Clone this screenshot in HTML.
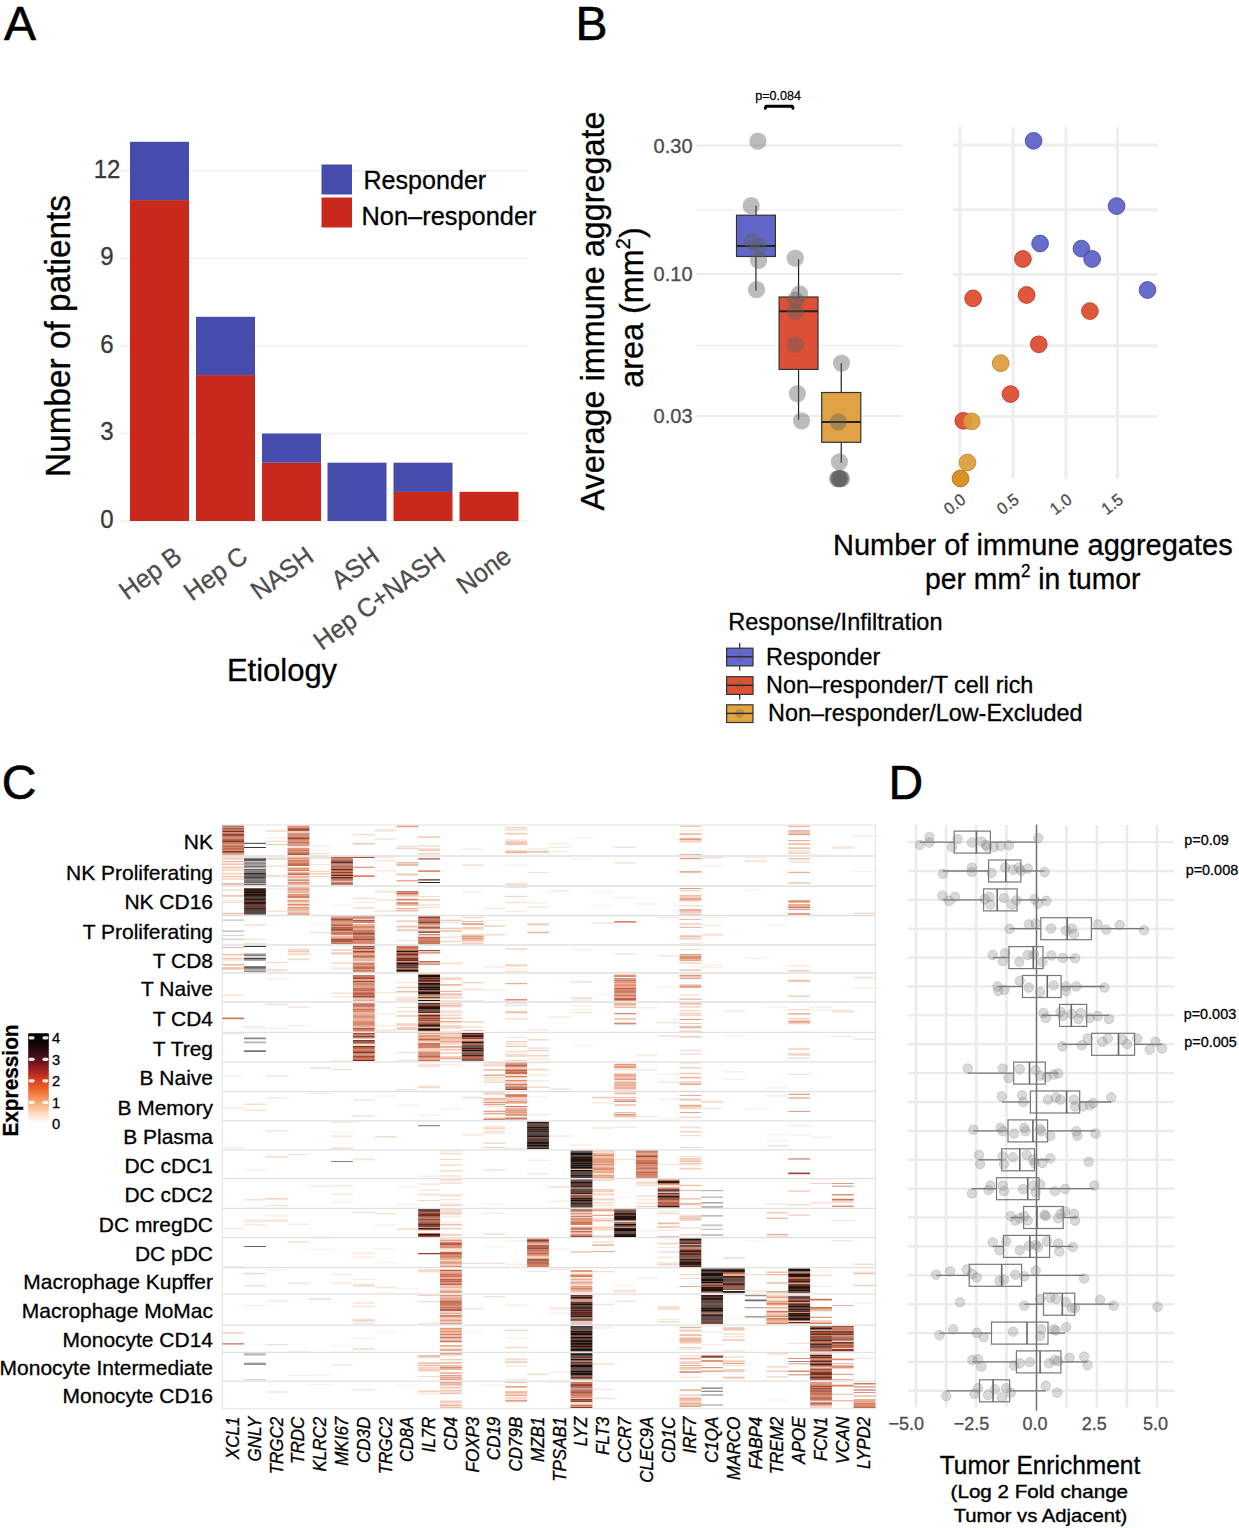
<!DOCTYPE html>
<html><head><meta charset="utf-8"><style>
html,body{margin:0;padding:0;background:#fff;}
svg{display:block;font-family:"Liberation Sans", sans-serif;}
</style></head><body>
<svg width="1239" height="1528" viewBox="0 0 1239 1528">
<rect width="1239" height="1528" fill="#fff"/>
<text transform="translate(4,40)" font-size="48" fill="#000" stroke="#000" stroke-width="0.6">A</text>
<line x1="120" y1="521.0" x2="528" y2="521.0" stroke="#efefef" stroke-width="1.6"/>
<text transform="translate(107,527.6) scale(1,1.04)" font-size="24" fill="#3a3a3a" text-anchor="middle" stroke="#3a3a3a" stroke-width="0.3">0</text>
<line x1="120" y1="433.5" x2="528" y2="433.5" stroke="#efefef" stroke-width="1.6"/>
<text transform="translate(107,440.1) scale(1,1.04)" font-size="24" fill="#3a3a3a" text-anchor="middle" stroke="#3a3a3a" stroke-width="0.3">3</text>
<line x1="120" y1="346.0" x2="528" y2="346.0" stroke="#efefef" stroke-width="1.6"/>
<text transform="translate(107,352.6) scale(1,1.04)" font-size="24" fill="#3a3a3a" text-anchor="middle" stroke="#3a3a3a" stroke-width="0.3">6</text>
<line x1="120" y1="258.5" x2="528" y2="258.5" stroke="#efefef" stroke-width="1.6"/>
<text transform="translate(107,265.1) scale(1,1.04)" font-size="24" fill="#3a3a3a" text-anchor="middle" stroke="#3a3a3a" stroke-width="0.3">9</text>
<line x1="120" y1="171.0" x2="528" y2="171.0" stroke="#efefef" stroke-width="1.6"/>
<text transform="translate(107,177.6) scale(1,1.04)" font-size="24" fill="#3a3a3a" text-anchor="middle" stroke="#3a3a3a" stroke-width="0.3">12</text>
<rect x="130" y="200.1" width="59" height="320.9" fill="#c9281d"/>
<rect x="130" y="141.8" width="59" height="58.3" fill="#464cab"/>
<rect x="196" y="375.1" width="59" height="145.9" fill="#c9281d"/>
<rect x="196" y="316.8" width="59" height="58.3" fill="#464cab"/>
<rect x="262" y="462.7" width="59" height="58.3" fill="#c9281d"/>
<rect x="262" y="433.5" width="59" height="29.2" fill="#464cab"/>
<rect x="327.5" y="462.7" width="59" height="58.3" fill="#464cab"/>
<rect x="393.5" y="491.8" width="59" height="29.2" fill="#c9281d"/>
<rect x="393.5" y="462.7" width="59" height="29.2" fill="#464cab"/>
<rect x="459.5" y="491.8" width="59" height="29.2" fill="#c9281d"/>
<rect x="321.5" y="164.5" width="30.5" height="30" fill="#464cab"/>
<rect x="321.5" y="197.5" width="30.5" height="30" fill="#c9281d"/>
<text transform="translate(363.5,188.7) scale(1,1.04)" font-size="25.1" fill="#000" stroke="#000" stroke-width="0.3">Responder</text>
<text transform="translate(361.5,224.7) scale(1,1.04)" font-size="25.4" fill="#000" stroke="#000" stroke-width="0.3">Non&#8211;responder</text>
<text transform="translate(183.5,560) rotate(-36) scale(1,1.04)" font-size="25" fill="#4d4d4d" text-anchor="end" stroke="#4d4d4d" stroke-width="0.3">Hep B</text>
<text transform="translate(249.4,560) rotate(-36) scale(1,1.04)" font-size="25" fill="#4d4d4d" text-anchor="end" stroke="#4d4d4d" stroke-width="0.3">Hep C</text>
<text transform="translate(315.3,560) rotate(-36) scale(1,1.04)" font-size="25" fill="#4d4d4d" text-anchor="end" stroke="#4d4d4d" stroke-width="0.3">NASH</text>
<text transform="translate(381.2,560) rotate(-36) scale(1,1.04)" font-size="25" fill="#4d4d4d" text-anchor="end" stroke="#4d4d4d" stroke-width="0.3">ASH</text>
<text transform="translate(447.1,560) rotate(-36) scale(1,1.04)" font-size="25" fill="#4d4d4d" text-anchor="end" stroke="#4d4d4d" stroke-width="0.3">Hep C+NASH</text>
<text transform="translate(513.0,560) rotate(-36) scale(1,1.04)" font-size="25" fill="#4d4d4d" text-anchor="end" stroke="#4d4d4d" stroke-width="0.3">None</text>
<text transform="translate(282,681) scale(1,1.04)" font-size="31" fill="#000" text-anchor="middle" stroke="#000" stroke-width="0.3">Etiology</text>
<text transform="translate(70,336) rotate(-90) scale(1,1.04)" font-size="33.4" fill="#000" text-anchor="middle" stroke="#000" stroke-width="0.3">Number of patients</text>
<text transform="translate(575.5,40)" font-size="48" fill="#000" stroke="#000" stroke-width="0.6">B</text>
<line x1="695.6" y1="145.5" x2="902" y2="145.5" stroke="#ebebeb" stroke-width="2"/>
<line x1="695.6" y1="210" x2="902" y2="210" stroke="#ebebeb" stroke-width="1.2"/>
<line x1="695.6" y1="274" x2="902" y2="274" stroke="#ebebeb" stroke-width="2"/>
<line x1="695.6" y1="345.7" x2="902" y2="345.7" stroke="#ebebeb" stroke-width="1.2"/>
<line x1="695.6" y1="416" x2="902" y2="416" stroke="#ebebeb" stroke-width="2"/>
<text transform="translate(692.5,152.5) scale(1,1.04)" font-size="20" fill="#4d4d4d" text-anchor="end" stroke="#4d4d4d" stroke-width="0.3">0.30</text>
<text transform="translate(692.5,281) scale(1,1.04)" font-size="20" fill="#4d4d4d" text-anchor="end" stroke="#4d4d4d" stroke-width="0.3">0.10</text>
<text transform="translate(692.5,423) scale(1,1.04)" font-size="20" fill="#4d4d4d" text-anchor="end" stroke="#4d4d4d" stroke-width="0.3">0.03</text>
<text transform="translate(604,311) rotate(-90) scale(1,1.04)" font-size="32.4" fill="#000" text-anchor="middle" stroke="#000" stroke-width="0.3">Average immune aggregate</text>
<text transform="translate(642.5,307.5) rotate(-90) scale(1,1.04)" font-size="32.4" fill="#000" text-anchor="middle" stroke="#000" stroke-width="0.3">area (mm<tspan font-size="20" dy="-12">2</tspan><tspan dy="12">)</tspan></text>
<text transform="translate(778,100.3) scale(1,1.04)" font-size="13" fill="#000" text-anchor="middle" textLength="45.7" lengthAdjust="spacingAndGlyphs" stroke="#000" stroke-width="0.25">p=0.084</text>
<path d="M765.3 108.3 L766 106.2 H792.3 L793 108.3" fill="none" stroke="#000" stroke-width="3" stroke-linecap="round" stroke-linejoin="round"/>
<line x1="755.95" y1="205.7" x2="755.95" y2="215.2" stroke="#222" stroke-width="1.2"/>
<line x1="755.95" y1="256.5" x2="755.95" y2="290.7" stroke="#222" stroke-width="1.2"/>
<rect x="736.5" y="215.2" width="38.89999999999998" height="41.30000000000001" fill="#6166c9" stroke="#333" stroke-width="1.2"/>
<line x1="736.5" y1="246" x2="775.4" y2="246" stroke="#222" stroke-width="2"/>
<line x1="798.55" y1="259.3" x2="798.55" y2="297" stroke="#222" stroke-width="1.2"/>
<line x1="798.55" y1="369.4" x2="798.55" y2="419.8" stroke="#222" stroke-width="1.2"/>
<rect x="779.1" y="297" width="38.89999999999998" height="72.39999999999998" fill="#dd5036" stroke="#333" stroke-width="1.2"/>
<line x1="779.1" y1="311.3" x2="818" y2="311.3" stroke="#222" stroke-width="2"/>
<line x1="841.25" y1="363.1" x2="841.25" y2="392.5" stroke="#222" stroke-width="1.2"/>
<line x1="841.25" y1="442.3" x2="841.25" y2="462.8" stroke="#222" stroke-width="1.2"/>
<rect x="821.7" y="392.5" width="39.09999999999991" height="49.80000000000001" fill="#dfa345" stroke="#333" stroke-width="1.2"/>
<line x1="821.7" y1="421.9" x2="860.8" y2="421.9" stroke="#222" stroke-width="2"/>
<circle cx="757.9" cy="141.2" r="8.6" fill="#5f5f5f" fill-opacity="0.42"/>
<circle cx="751.2" cy="205.7" r="8.6" fill="#5f5f5f" fill-opacity="0.42"/>
<circle cx="752.3" cy="241.4" r="8.6" fill="#5f5f5f" fill-opacity="0.42"/>
<circle cx="758.6" cy="246.7" r="8.6" fill="#5f5f5f" fill-opacity="0.42"/>
<circle cx="758.6" cy="260.3" r="8.6" fill="#5f5f5f" fill-opacity="0.42"/>
<circle cx="756.5" cy="289.7" r="8.6" fill="#5f5f5f" fill-opacity="0.42"/>
<circle cx="795.3" cy="258.2" r="8.6" fill="#5f5f5f" fill-opacity="0.42"/>
<circle cx="799.5" cy="293.9" r="8.6" fill="#5f5f5f" fill-opacity="0.42"/>
<circle cx="795.3" cy="300.2" r="8.6" fill="#5f5f5f" fill-opacity="0.42"/>
<circle cx="795.3" cy="311.7" r="8.6" fill="#5f5f5f" fill-opacity="0.42"/>
<circle cx="795.3" cy="344.7" r="8.6" fill="#5f5f5f" fill-opacity="0.42"/>
<circle cx="797.4" cy="393.6" r="8.6" fill="#5f5f5f" fill-opacity="0.42"/>
<circle cx="801.6" cy="420.8" r="8.6" fill="#5f5f5f" fill-opacity="0.42"/>
<circle cx="841.5" cy="363.1" r="8.6" fill="#5f5f5f" fill-opacity="0.42"/>
<circle cx="838.3" cy="421.9" r="8.6" fill="#5f5f5f" fill-opacity="0.42"/>
<circle cx="839.4" cy="461.8" r="8.6" fill="#5f5f5f" fill-opacity="0.42"/>
<circle cx="839.4" cy="478.6" r="8.6" fill="#5f5f5f" fill-opacity="0.42"/>
<circle cx="837.5" cy="478.6" r="8.6" fill="#5f5f5f" fill-opacity="0.42"/>
<circle cx="841.5" cy="478.6" r="8.6" fill="#5f5f5f" fill-opacity="0.42"/>
<circle cx="838.5" cy="478.6" r="8.6" fill="#5f5f5f" fill-opacity="0.42"/>
<circle cx="840.5" cy="478.6" r="8.6" fill="#5f5f5f" fill-opacity="0.42"/>
<circle cx="839.4" cy="478.6" r="8.6" fill="#5f5f5f" fill-opacity="0.42"/>
<line x1="959.9" y1="126.7" x2="959.9" y2="478.5" stroke="#eeeeee" stroke-width="3.2"/>
<line x1="1013.1" y1="126.7" x2="1013.1" y2="478.5" stroke="#eeeeee" stroke-width="3.2"/>
<line x1="1066" y1="126.7" x2="1066" y2="478.5" stroke="#eeeeee" stroke-width="3.2"/>
<line x1="1117.4" y1="126.7" x2="1117.4" y2="478.5" stroke="#eeeeee" stroke-width="3.2"/>
<line x1="952.6" y1="145" x2="1157.4" y2="145" stroke="#eeeeee" stroke-width="3"/>
<line x1="952.6" y1="209.8" x2="1157.4" y2="209.8" stroke="#eeeeee" stroke-width="3"/>
<line x1="952.6" y1="274.5" x2="1157.4" y2="274.5" stroke="#eeeeee" stroke-width="3"/>
<line x1="952.6" y1="345.7" x2="1157.4" y2="345.7" stroke="#eeeeee" stroke-width="3"/>
<line x1="952.6" y1="416.6" x2="1157.4" y2="416.6" stroke="#eeeeee" stroke-width="3"/>
<circle cx="1033.6" cy="140.8" r="8.4" fill="#5b60c6" fill-opacity="0.92" stroke="#4048a8" stroke-opacity="0.8" stroke-width="1"/>
<circle cx="1116.6" cy="206.1" r="8.4" fill="#5b60c6" fill-opacity="0.92" stroke="#4048a8" stroke-opacity="0.8" stroke-width="1"/>
<circle cx="1040.1" cy="243.5" r="8.4" fill="#5b60c6" fill-opacity="0.92" stroke="#4048a8" stroke-opacity="0.8" stroke-width="1"/>
<circle cx="1081.4" cy="248.6" r="8.4" fill="#5b60c6" fill-opacity="0.92" stroke="#4048a8" stroke-opacity="0.8" stroke-width="1"/>
<circle cx="1092.1" cy="259" r="8.4" fill="#5b60c6" fill-opacity="0.92" stroke="#4048a8" stroke-opacity="0.8" stroke-width="1"/>
<circle cx="1147.5" cy="290" r="8.4" fill="#5b60c6" fill-opacity="0.92" stroke="#4048a8" stroke-opacity="0.8" stroke-width="1"/>
<circle cx="1022.9" cy="259" r="8.4" fill="#dc4a2e" fill-opacity="0.92" stroke="#b8361e" stroke-opacity="0.8" stroke-width="1"/>
<circle cx="973.1" cy="298.4" r="8.4" fill="#dc4a2e" fill-opacity="0.92" stroke="#b8361e" stroke-opacity="0.8" stroke-width="1"/>
<circle cx="1026.6" cy="295" r="8.4" fill="#dc4a2e" fill-opacity="0.92" stroke="#b8361e" stroke-opacity="0.8" stroke-width="1"/>
<circle cx="1089.9" cy="311.1" r="8.4" fill="#dc4a2e" fill-opacity="0.92" stroke="#b8361e" stroke-opacity="0.8" stroke-width="1"/>
<circle cx="1038.7" cy="344.3" r="8.4" fill="#dc4a2e" fill-opacity="0.92" stroke="#b8361e" stroke-opacity="0.8" stroke-width="1"/>
<circle cx="1010.5" cy="394.1" r="8.4" fill="#dc4a2e" fill-opacity="0.92" stroke="#b8361e" stroke-opacity="0.8" stroke-width="1"/>
<circle cx="963.3" cy="420.8" r="8.4" fill="#dc4a2e" fill-opacity="0.92" stroke="#b8361e" stroke-opacity="0.8" stroke-width="1"/>
<circle cx="1000.7" cy="363.2" r="8.4" fill="#dc9b3b" fill-opacity="0.92" stroke="#b8802a" stroke-opacity="0.8" stroke-width="1"/>
<circle cx="971.7" cy="421.4" r="8.4" fill="#dc9b3b" fill-opacity="0.92" stroke="#b8802a" stroke-opacity="0.8" stroke-width="1"/>
<circle cx="967.5" cy="462.5" r="8.4" fill="#dc9b3b" fill-opacity="0.92" stroke="#b8802a" stroke-opacity="0.8" stroke-width="1"/>
<circle cx="960.5" cy="478.5" r="8.4" fill="#d68a12" fill-opacity="0.92" stroke="#a86c10" stroke-opacity="0.8" stroke-width="1"/>
<text transform="translate(966.9,502) rotate(-37) scale(1,1.04)" font-size="16" fill="#4d4d4d" text-anchor="end" stroke="#4d4d4d" stroke-width="0.3">0.0</text>
<text transform="translate(1020.1,502) rotate(-37) scale(1,1.04)" font-size="16" fill="#4d4d4d" text-anchor="end" stroke="#4d4d4d" stroke-width="0.3">0.5</text>
<text transform="translate(1073,502) rotate(-37) scale(1,1.04)" font-size="16" fill="#4d4d4d" text-anchor="end" stroke="#4d4d4d" stroke-width="0.3">1.0</text>
<text transform="translate(1124.4,502) rotate(-37) scale(1,1.04)" font-size="16" fill="#4d4d4d" text-anchor="end" stroke="#4d4d4d" stroke-width="0.3">1.5</text>
<text transform="translate(1032.8,554.8) scale(1,1.04)" font-size="29" fill="#000" text-anchor="middle" stroke="#000" stroke-width="0.3">Number of immune aggregates</text>
<text transform="translate(1032.8,588.8) scale(1,1.04)" font-size="28.3" fill="#000" text-anchor="middle" stroke="#000" stroke-width="0.3">per mm<tspan font-size="17" dy="-11">2</tspan><tspan dy="11"> in tumor</tspan></text>
<text transform="translate(728.3,630) scale(1,1.04)" font-size="23.5" fill="#000" stroke="#000" stroke-width="0.3">Response/Infiltration</text>
<line x1="739.7" y1="643" x2="739.7" y2="648.2" stroke="#333" stroke-width="1.3"/>
<line x1="739.7" y1="665.9000000000001" x2="739.7" y2="670.5" stroke="#333" stroke-width="1.3"/>
<rect x="726.6" y="648.2" width="26.4" height="17.7" fill="#6467cf" stroke="#333" stroke-width="1.2"/>
<circle cx="739.7" cy="656.8000000000001" r="4.5" fill="#5f5f5f" fill-opacity="0.3"/>
<line x1="726.6" y1="656.8000000000001" x2="753" y2="656.8000000000001" stroke="#2a2a2a" stroke-width="1.4"/>
<text transform="translate(766,664.9) scale(1,1.04)" font-size="23.4" fill="#000" stroke="#000" stroke-width="0.3">Responder</text>
<line x1="739.7" y1="694.4000000000001" x2="739.7" y2="699.7" stroke="#333" stroke-width="1.3"/>
<rect x="726.6" y="676.7" width="26.4" height="17.7" fill="#de5334" stroke="#333" stroke-width="1.2"/>
<circle cx="739.7" cy="685.3000000000001" r="4.5" fill="#5f5f5f" fill-opacity="0.3"/>
<line x1="726.6" y1="685.3000000000001" x2="753" y2="685.3000000000001" stroke="#2a2a2a" stroke-width="1.4"/>
<text transform="translate(766,693) scale(1,1.04)" font-size="23.4" fill="#000" stroke="#000" stroke-width="0.3">Non&#8211;responder/T cell rich</text>
<rect x="726.6" y="704.8" width="26.4" height="17.7" fill="#e3a540" stroke="#333" stroke-width="1.2"/>
<circle cx="739.7" cy="713.4" r="4.5" fill="#5f5f5f" fill-opacity="0.3"/>
<line x1="726.6" y1="713.4" x2="753" y2="713.4" stroke="#2a2a2a" stroke-width="1.4"/>
<text transform="translate(768,721.4) scale(1,1.04)" font-size="23.4" fill="#000" stroke="#000" stroke-width="0.3">Non&#8211;responder/Low-Excluded</text>
<text transform="translate(1.7,799.3)" font-size="48" fill="#000" stroke="#000" stroke-width="0.6">C</text>
<rect x="222.3" y="825" width="653.1" height="583.7" fill="#fff" stroke="#e3e3e3" stroke-width="1.1"/>
<path fill="#7e3624" d="M222.3 825.8h21.8v1.0h-21.8zM222.3 831.0h21.8v1.0h-21.8zM418.2 927.3h21.8v1.4h-21.8zM418.2 980.9h21.8v1.0h-21.8zM352.9 1040.1h21.8v1.4h-21.8zM527.1 1241.6h21.8v1.0h-21.8z"/>
<path fill="#de9072" d="M222.3 826.8h21.8v1.4h-21.8zM222.3 850.2h21.8v0.8h-21.8zM287.6 825.8h21.8v1.7h-21.8zM287.6 832.7h21.8v0.8h-21.8zM287.6 840.7h21.8v1.0h-21.8zM287.6 847.7h21.8v0.8h-21.8zM287.6 867.5h21.8v1.2h-21.8zM287.6 894.0h21.8v1.7h-21.8zM287.6 907.0h21.8v1.2h-21.8zM331.1 916.3h21.8v1.4h-21.8zM352.9 923.9h21.8v0.8h-21.8zM461.8 923.3h21.8v1.4h-21.8zM352.9 969.0h21.8v0.8h-21.8zM352.9 971.8h21.8v0.4h-21.8zM679.5 956.1h21.8v1.7h-21.8zM679.5 957.8h21.8v1.7h-21.8zM352.9 985.9h21.8v0.8h-21.8zM505.3 998.9h21.8v1.7h-21.8zM614.2 978.0h21.8v1.7h-21.8zM352.9 1010.1h21.8v1.2h-21.8zM352.9 1011.3h21.8v1.0h-21.8zM352.9 1053.2h21.8v1.0h-21.8zM352.9 1054.2h21.8v1.2h-21.8zM418.2 1047.8h21.8v0.8h-21.8zM505.3 1068.5h21.8v1.2h-21.8zM483.5 1101.8h21.8v1.4h-21.8zM505.3 1102.3h21.8v1.2h-21.8zM614.2 1098.9h21.8v0.8h-21.8zM788.3 1097.5h21.8v1.0h-21.8zM592.4 1167.5h21.8v1.7h-21.8zM592.4 1169.2h21.8v1.2h-21.8zM635.9 1157.1h21.8v0.8h-21.8zM570.6 1220.3h21.8v1.7h-21.8zM440.0 1254.7h21.8v1.2h-21.8zM527.1 1254.4h21.8v1.4h-21.8zM440.0 1272.2h21.8v1.4h-21.8zM440.0 1287.4h21.8v0.8h-21.8zM570.6 1278.4h21.8v1.4h-21.8zM440.0 1298.6h21.8v0.8h-21.8zM570.6 1317.2h21.8v1.2h-21.8zM766.5 1320.6h21.8v1.0h-21.8zM788.3 1311.9h21.8v1.2h-21.8zM440.0 1330.8h21.8v1.7h-21.8zM440.0 1378.8h21.8v1.0h-21.8zM831.9 1363.4h21.8v0.8h-21.8zM831.9 1373.8h21.8v1.0h-21.8zM570.6 1388.4h21.8v1.4h-21.8zM810.1 1381.9h21.8v0.8h-21.8zM810.1 1383.5h21.8v1.4h-21.8zM810.1 1394.8h21.8v1.4h-21.8zM853.6 1386.2h21.8v1.2h-21.8z"/>
<path fill="#723024" d="M222.3 828.2h21.8v1.4h-21.8zM222.3 851.0h21.8v1.7h-21.8zM418.2 938.4h21.8v1.2h-21.8zM396.5 966.5h21.8v1.4h-21.8zM418.2 1030.0h21.8v1.2h-21.8zM352.9 1060.0h21.8v1.0h-21.8zM657.7 1192.6h21.8v1.7h-21.8zM418.2 1213.9h21.8v0.8h-21.8zM418.2 1214.7h21.8v1.7h-21.8zM723.0 1286.5h21.8v1.2h-21.8zM831.9 1333.8h21.8v1.4h-21.8zM831.9 1341.8h21.8v1.2h-21.8zM810.1 1374.0h21.8v1.4h-21.8z"/>
<path fill="#c66c4e" d="M222.3 829.6h21.8v1.4h-21.8zM222.3 847.8h21.8v1.4h-21.8zM222.3 849.2h21.8v1.0h-21.8zM287.6 834.5h21.8v1.0h-21.8zM287.6 863.9h21.8v1.0h-21.8zM287.6 864.9h21.8v1.2h-21.8zM331.1 878.5h21.8v1.7h-21.8zM396.5 892.5h21.8v1.4h-21.8zM418.2 924.7h21.8v0.8h-21.8zM352.9 956.1h21.8v1.7h-21.8zM396.5 948.3h21.8v1.4h-21.8zM352.9 989.7h21.8v1.7h-21.8zM352.9 1000.8h21.8v0.4h-21.8zM461.8 1043.5h21.8v1.7h-21.8zM505.3 1062.6h21.8v0.8h-21.8zM505.3 1073.1h21.8v1.2h-21.8zM635.9 1175.3h21.8v1.2h-21.8zM657.7 1183.3h21.8v1.4h-21.8zM570.6 1230.5h21.8v1.4h-21.8zM527.1 1238.5h21.8v1.4h-21.8zM440.0 1275.3h21.8v0.8h-21.8zM810.1 1307.1h21.8v1.7h-21.8zM810.1 1342.2h21.8v1.0h-21.8zM831.9 1347.1h21.8v1.0h-21.8zM570.6 1387.6h21.8v0.8h-21.8zM810.1 1397.9h21.8v1.2h-21.8zM853.6 1405.3h21.8v1.4h-21.8z"/>
<path fill="#de8a6c" d="M222.3 832.0h21.8v1.4h-21.8zM287.6 861.0h21.8v1.2h-21.8zM287.6 882.0h21.8v1.7h-21.8zM418.2 870.2h21.8v1.7h-21.8zM287.6 910.4h21.8v1.0h-21.8zM331.1 936.2h21.8v1.4h-21.8zM352.9 934.7h21.8v1.0h-21.8zM461.8 940.5h21.8v0.8h-21.8zM614.2 921.0h21.8v1.7h-21.8zM614.2 974.8h21.8v1.4h-21.8zM614.2 1000.3h21.8v0.9h-21.8zM352.9 1042.7h21.8v1.4h-21.8zM418.2 1051.2h21.8v1.4h-21.8zM614.2 1101.1h21.8v1.0h-21.8zM788.3 1093.8h21.8v1.0h-21.8zM592.4 1152.8h21.8v0.8h-21.8zM592.4 1176.4h21.8v1.4h-21.8zM635.9 1170.5h21.8v1.4h-21.8zM570.6 1234.1h21.8v1.4h-21.8zM766.5 1217.8h21.8v0.8h-21.8zM440.0 1245.3h21.8v1.0h-21.8zM570.6 1289.4h21.8v1.2h-21.8zM701.2 1292.5h21.8v0.8h-21.8zM766.5 1291.2h21.8v1.4h-21.8zM440.0 1299.4h21.8v1.0h-21.8zM766.5 1297.3h21.8v1.0h-21.8zM440.0 1349.5h21.8v1.2h-21.8zM570.6 1329.7h21.8v0.8h-21.8zM831.9 1329.4h21.8v1.7h-21.8zM440.0 1367.1h21.8v1.4h-21.8zM788.3 1370.6h21.8v1.4h-21.8zM831.9 1358.6h21.8v1.7h-21.8zM831.9 1365.6h21.8v1.4h-21.8z"/>
<path fill="#904230" d="M222.3 833.4h21.8v1.7h-21.8zM396.5 945.8h21.8v0.8h-21.8zM418.2 1017.8h21.8v1.7h-21.8zM570.6 1228.3h21.8v1.4h-21.8zM527.1 1246.3h21.8v1.0h-21.8zM527.1 1260.7h21.8v0.8h-21.8zM701.2 1291.5h21.8v1.0h-21.8zM810.1 1359.8h21.8v0.8h-21.8z"/>
<path fill="#843c2a" d="M222.3 835.1h21.8v1.2h-21.8z"/>
<path fill="#c6664e" d="M222.3 836.3h21.8v1.4h-21.8zM287.6 848.5h21.8v0.8h-21.8zM331.1 917.7h21.8v0.8h-21.8zM331.1 920.2h21.8v1.0h-21.8zM418.2 936.7h21.8v1.7h-21.8zM352.9 955.3h21.8v0.8h-21.8zM352.9 967.8h21.8v1.2h-21.8zM396.5 949.7h21.8v1.0h-21.8zM352.9 994.1h21.8v1.4h-21.8zM614.2 981.9h21.8v0.8h-21.8zM614.2 997.7h21.8v1.2h-21.8zM352.9 1023.3h21.8v1.4h-21.8zM352.9 1029.2h21.8v1.0h-21.8zM418.2 1022.0h21.8v1.4h-21.8zM418.2 1046.8h21.8v1.0h-21.8zM418.2 1052.6h21.8v0.8h-21.8zM527.1 1137.5h21.8v0.8h-21.8zM635.9 1161.9h21.8v1.4h-21.8zM635.9 1163.3h21.8v1.2h-21.8zM635.9 1176.5h21.8v1.3h-21.8zM788.3 1158.4h21.8v1.0h-21.8zM831.9 1185.7h21.8v0.8h-21.8zM831.9 1205.8h21.8v1.0h-21.8zM440.0 1241.9h21.8v0.8h-21.8zM527.1 1255.8h21.8v0.8h-21.8zM723.0 1272.5h21.8v1.7h-21.8zM788.3 1277.1h21.8v1.4h-21.8zM853.6 1399.5h21.8v1.0h-21.8zM853.6 1406.7h21.8v1.2h-21.8z"/>
<path fill="#de8466" d="M222.3 837.7h21.8v1.0h-21.8zM287.6 859.8h21.8v1.2h-21.8zM287.6 869.5h21.8v1.7h-21.8zM352.9 875.3h21.8v1.7h-21.8zM352.9 947.0h21.8v1.0h-21.8zM352.9 986.7h21.8v0.8h-21.8zM614.2 984.9h21.8v1.0h-21.8zM352.9 1018.8h21.8v0.8h-21.8zM505.3 1095.9h21.8v1.7h-21.8zM592.4 1164.1h21.8v1.4h-21.8zM635.9 1166.3h21.8v1.4h-21.8zM635.9 1169.5h21.8v1.0h-21.8zM570.6 1231.9h21.8v0.8h-21.8zM440.0 1263.2h21.8v1.4h-21.8zM570.6 1274.8h21.8v1.2h-21.8zM570.6 1287.7h21.8v1.7h-21.8zM788.3 1271.4h21.8v1.4h-21.8zM440.0 1320.0h21.8v0.8h-21.8zM766.5 1302.6h21.8v1.4h-21.8zM831.9 1327.6h21.8v1.0h-21.8zM831.9 1335.2h21.8v1.2h-21.8zM570.6 1396.5h21.8v1.4h-21.8z"/>
<path fill="#964230" d="M222.3 838.7h21.8v1.0h-21.8zM287.6 837.3h21.8v1.7h-21.8zM331.1 923.4h21.8v1.2h-21.8zM331.1 934.4h21.8v0.8h-21.8zM352.9 938.5h21.8v1.4h-21.8zM418.2 916.3h21.8v1.7h-21.8zM352.9 980.7h21.8v1.4h-21.8zM570.6 1196.3h21.8v1.2h-21.8zM657.7 1205.0h21.8v0.8h-21.8zM418.2 1218.6h21.8v1.7h-21.8zM418.2 1224.9h21.8v1.0h-21.8zM527.1 1247.3h21.8v0.8h-21.8zM701.2 1320.6h21.8v1.7h-21.8zM570.6 1335.1h21.8v1.7h-21.8zM810.1 1332.2h21.8v1.7h-21.8zM831.9 1331.1h21.8v1.0h-21.8zM701.2 1356.0h21.8v1.7h-21.8zM570.6 1385.0h21.8v1.4h-21.8zM570.6 1404.5h21.8v1.2h-21.8zM810.1 1389.4h21.8v1.4h-21.8z"/>
<path fill="#b45a42" d="M222.3 839.7h21.8v1.2h-21.8zM287.6 830.0h21.8v1.0h-21.8zM287.6 854.0h21.8v1.2h-21.8zM352.9 930.2h21.8v0.8h-21.8zM352.9 943.5h21.8v0.7h-21.8zM352.9 993.1h21.8v1.0h-21.8zM352.9 1005.3h21.8v1.4h-21.8zM418.2 1016.1h21.8v1.7h-21.8zM352.9 1047.1h21.8v1.0h-21.8zM505.3 1117.4h21.8v1.0h-21.8zM657.7 1194.3h21.8v1.2h-21.8zM657.7 1203.0h21.8v1.0h-21.8zM418.2 1229.1h21.8v1.2h-21.8zM570.6 1215.9h21.8v0.8h-21.8zM440.0 1243.9h21.8v1.4h-21.8zM527.1 1244.6h21.8v1.7h-21.8zM701.2 1285.7h21.8v1.2h-21.8zM810.1 1349.6h21.8v1.4h-21.8zM570.6 1375.5h21.8v1.7h-21.8zM788.3 1374.4h21.8v0.8h-21.8zM810.1 1366.8h21.8v0.8h-21.8zM853.6 1389.6h21.8v1.0h-21.8z"/>
<path fill="#843624" d="M222.3 840.9h21.8v1.7h-21.8zM418.2 1004.2h21.8v1.0h-21.8zM418.2 1025.9h21.8v1.2h-21.8z"/>
<path fill="#a84e3c" d="M222.3 842.6h21.8v0.8h-21.8zM418.2 858.2h21.8v1.2h-21.8zM352.9 936.5h21.8v1.2h-21.8zM418.2 920.4h21.8v1.2h-21.8zM352.9 945.8h21.8v1.2h-21.8zM352.9 978.1h21.8v1.2h-21.8zM461.8 1040.4h21.8v1.7h-21.8zM635.9 1150.6h21.8v1.2h-21.8zM657.7 1199.0h21.8v1.2h-21.8zM418.2 1236.0h21.8v0.9h-21.8zM810.1 1348.2h21.8v1.4h-21.8zM810.1 1351.0h21.8v0.6h-21.8zM788.3 1360.9h21.8v0.8h-21.8zM810.1 1356.3h21.8v0.8h-21.8zM810.1 1363.0h21.8v1.0h-21.8z"/>
<path fill="#ba6048" d="M222.3 843.4h21.8v1.0h-21.8zM287.6 833.5h21.8v1.0h-21.8zM331.1 924.6h21.8v1.7h-21.8zM331.1 927.1h21.8v1.2h-21.8zM614.2 1022.8h21.8v1.0h-21.8zM352.9 1057.1h21.8v1.7h-21.8zM657.7 1200.2h21.8v1.4h-21.8zM440.0 1269.7h21.8v1.7h-21.8zM440.0 1280.7h21.8v1.4h-21.8zM440.0 1310.0h21.8v1.2h-21.8zM570.6 1320.4h21.8v0.8h-21.8zM788.3 1298.7h21.8v1.0h-21.8z"/>
<path fill="#d87e60" d="M222.3 844.4h21.8v1.7h-21.8zM222.3 854.4h21.8v0.8h-21.8zM287.6 857.6h21.8v1.2h-21.8zM287.6 868.7h21.8v0.8h-21.8zM331.1 883.8h21.8v1.4h-21.8zM352.9 866.8h21.8v1.0h-21.8zM287.6 888.8h21.8v1.0h-21.8zM287.6 897.1h21.8v1.2h-21.8zM287.6 901.4h21.8v1.2h-21.8zM396.5 910.5h21.8v0.8h-21.8zM788.3 908.7h21.8v1.0h-21.8zM788.3 913.9h21.8v0.8h-21.8zM331.1 930.8h21.8v0.8h-21.8zM352.9 921.4h21.8v1.7h-21.8zM352.9 941.1h21.8v1.2h-21.8zM418.2 923.3h21.8v1.4h-21.8zM418.2 939.6h21.8v1.4h-21.8zM352.9 963.3h21.8v1.7h-21.8zM418.2 952.2h21.8v1.2h-21.8zM352.9 997.2h21.8v1.4h-21.8zM418.2 973.8h21.8v1.2h-21.8zM352.9 1015.2h21.8v1.4h-21.8zM352.9 1025.5h21.8v1.2h-21.8zM505.3 1063.4h21.8v1.4h-21.8zM505.3 1109.6h21.8v1.2h-21.8zM527.1 1242.6h21.8v1.2h-21.8zM527.1 1264.0h21.8v1.7h-21.8zM527.1 1265.7h21.8v1.2h-21.8zM570.6 1276.0h21.8v1.2h-21.8zM440.0 1320.8h21.8v0.8h-21.8zM766.5 1315.4h21.8v1.7h-21.8zM810.1 1316.7h21.8v1.0h-21.8zM831.9 1350.9h21.8v0.7h-21.8zM440.0 1353.2h21.8v1.0h-21.8zM701.2 1355.2h21.8v0.8h-21.8zM810.1 1362.0h21.8v1.0h-21.8zM810.1 1384.9h21.8v0.8h-21.8zM831.9 1384.7h21.8v1.7h-21.8zM831.9 1400.5h21.8v0.8h-21.8zM853.6 1403.1h21.8v1.2h-21.8z"/>
<path fill="#c06648" d="M222.3 846.1h21.8v1.7h-21.8zM287.6 827.5h21.8v0.8h-21.8zM287.6 852.3h21.8v1.7h-21.8zM331.1 858.5h21.8v1.2h-21.8zM352.9 952.3h21.8v1.2h-21.8zM352.9 957.8h21.8v0.8h-21.8zM396.5 946.6h21.8v1.7h-21.8zM614.2 988.1h21.8v1.7h-21.8zM352.9 1006.7h21.8v0.8h-21.8zM352.9 1030.2h21.8v1.3h-21.8zM352.9 1048.1h21.8v1.2h-21.8zM418.2 1053.4h21.8v1.0h-21.8zM418.2 1059.8h21.8v1.2h-21.8zM418.2 1217.4h21.8v1.2h-21.8zM527.1 1261.5h21.8v1.7h-21.8zM701.2 1283.2h21.8v1.7h-21.8zM440.0 1300.4h21.8v1.7h-21.8zM440.0 1323.3h21.8v1.0h-21.8zM570.6 1298.8h21.8v1.0h-21.8zM810.1 1322.6h21.8v1.2h-21.8zM570.6 1358.0h21.8v0.8h-21.8zM810.1 1370.3h21.8v1.7h-21.8z"/>
<path fill="#de9678" d="M222.3 852.7h21.8v1.7h-21.8zM788.3 904.2h21.8v0.8h-21.8zM461.8 938.1h21.8v1.2h-21.8zM570.6 1212.4h21.8v1.0h-21.8z"/>
<path fill="#666060" d="M244.1 842.8h21.8v1.2h-21.8zM244.1 882.0h21.8v1.4h-21.8zM244.1 1246.1h21.8v0.8h-21.8z"/>
<path fill="#3c3636" d="M244.1 847.1h21.8v1.0h-21.8zM244.1 945.8h21.8v1.2h-21.8z"/>
<path fill="#f6d2ba" d="M265.8 830.4h21.8v1.4h-21.8zM788.3 843.0h21.8v1.0h-21.8zM788.3 850.4h21.8v1.2h-21.8zM418.2 896.0h21.8v0.8h-21.8zM244.1 924.5h21.8v1.0h-21.8zM396.5 920.3h21.8v1.7h-21.8zM461.8 928.1h21.8v1.7h-21.8zM461.8 982.0h21.8v1.2h-21.8zM418.2 1013.0h21.8v1.4h-21.8zM440.0 1002.8h21.8v1.4h-21.8zM679.5 1159.5h21.8v1.4h-21.8zM679.5 1167.7h21.8v1.7h-21.8zM592.4 1202.3h21.8v1.2h-21.8zM614.2 1221.7h21.8v0.8h-21.8zM657.7 1227.1h21.8v1.0h-21.8zM440.0 1238.5h21.8v1.4h-21.8zM418.2 1390.5h21.8v1.7h-21.8zM440.0 1401.8h21.8v1.7h-21.8zM570.6 1397.9h21.8v1.2h-21.8zM570.6 1402.0h21.8v0.8h-21.8zM810.1 1406.5h21.8v1.4h-21.8z"/>
<path fill="#f6e4d2" d="M265.8 837.7h21.8v0.8h-21.8zM527.1 871.9h21.8v1.2h-21.8zM744.8 860.2h21.8v1.7h-21.8zM352.9 898.1h21.8v1.0h-21.8zM374.7 890.8h21.8v1.7h-21.8zM505.3 901.5h21.8v1.0h-21.8zM548.9 890.3h21.8v1.2h-21.8zM701.2 934.9h21.8v0.8h-21.8zM396.5 1010.7h21.8v1.7h-21.8zM527.1 1069.8h21.8v1.0h-21.8zM788.3 1073.7h21.8v1.4h-21.8zM352.9 1099.3h21.8v1.2h-21.8zM352.9 1158.6h21.8v1.7h-21.8zM440.0 1152.4h21.8v0.8h-21.8zM440.0 1164.3h21.8v1.7h-21.8zM244.1 1224.3h21.8v1.0h-21.8zM831.9 1219.9h21.8v1.2h-21.8zM657.7 1246.8h21.8v1.0h-21.8zM265.8 1269.7h21.8v0.8h-21.8zM352.9 1279.0h21.8v0.8h-21.8zM614.2 1290.7h21.8v1.4h-21.8zM265.8 1300.4h21.8v1.2h-21.8z"/>
<path fill="#f6d2c0" d="M265.8 840.7h21.8v1.0h-21.8zM396.5 848.1h21.8v0.8h-21.8zM614.2 846.7h21.8v1.0h-21.8zM679.5 839.9h21.8v1.4h-21.8zM222.3 858.0h21.8v1.7h-21.8zM222.3 867.1h21.8v1.7h-21.8zM222.3 869.6h21.8v1.4h-21.8zM222.3 872.7h21.8v1.7h-21.8zM265.8 865.5h21.8v1.0h-21.8zM309.4 876.1h21.8v0.8h-21.8zM374.7 856.8h21.8v0.8h-21.8zM788.3 861.4h21.8v1.0h-21.8zM287.6 890.8h21.8v0.8h-21.8zM374.7 910.4h21.8v1.2h-21.8zM505.3 895.7h21.8v1.2h-21.8zM679.5 890.0h21.8v1.2h-21.8zM679.5 896.3h21.8v1.7h-21.8zM679.5 924.3h21.8v0.8h-21.8zM287.6 948.7h21.8v1.7h-21.8zM287.6 953.6h21.8v1.4h-21.8zM788.3 965.5h21.8v0.8h-21.8zM396.5 997.2h21.8v1.2h-21.8zM418.2 998.3h21.8v1.7h-21.8zM396.5 1023.2h21.8v1.2h-21.8zM440.0 1030.7h21.8v0.8h-21.8zM461.8 1026.6h21.8v1.0h-21.8zM679.5 1012.8h21.8v1.4h-21.8zM418.2 1033.9h21.8v1.0h-21.8zM440.0 1035.1h21.8v1.2h-21.8zM440.0 1052.2h21.8v1.7h-21.8zM505.3 1055.3h21.8v1.4h-21.8zM505.3 1060.1h21.8v0.9h-21.8zM527.1 1055.1h21.8v1.0h-21.8zM418.2 1065.5h21.8v1.2h-21.8zM527.1 1068.8h21.8v1.0h-21.8zM483.5 1093.6h21.8v1.2h-21.8zM483.5 1117.2h21.8v1.4h-21.8zM265.8 1198.1h21.8v1.4h-21.8zM418.2 1193.7h21.8v0.8h-21.8zM440.0 1204.6h21.8v1.4h-21.8zM788.3 1190.9h21.8v1.2h-21.8zM440.0 1233.8h21.8v1.0h-21.8zM570.6 1211.6h21.8v0.8h-21.8zM570.6 1225.9h21.8v1.4h-21.8zM440.0 1240.9h21.8v1.0h-21.8zM592.4 1241.6h21.8v1.0h-21.8zM244.1 1272.9h21.8v1.4h-21.8zM418.2 1269.5h21.8v1.4h-21.8zM352.9 1320.0h21.8v1.4h-21.8zM418.2 1294.9h21.8v1.0h-21.8zM766.5 1299.5h21.8v1.4h-21.8zM766.5 1313.0h21.8v1.0h-21.8zM788.3 1294.9h21.8v1.4h-21.8zM679.5 1348.6h21.8v1.0h-21.8zM723.0 1326.9h21.8v1.0h-21.8zM723.0 1336.5h21.8v0.8h-21.8zM831.9 1348.1h21.8v0.8h-21.8zM810.1 1367.6h21.8v1.0h-21.8z"/>
<path fill="#f0ccb4" d="M265.8 844.1h21.8v0.8h-21.8zM418.2 925.5h21.8v1.0h-21.8zM418.2 935.0h21.8v1.7h-21.8zM440.0 930.1h21.8v1.7h-21.8zM222.3 957.8h21.8v1.7h-21.8zM788.3 969.9h21.8v1.7h-21.8zM418.2 1048.6h21.8v1.2h-21.8zM440.0 1039.8h21.8v1.0h-21.8zM505.3 1085.2h21.8v1.2h-21.8zM679.5 1072.8h21.8v1.4h-21.8zM483.5 1146.9h21.8v1.0h-21.8zM440.0 1213.4h21.8v1.4h-21.8zM352.9 1323.4h21.8v0.9h-21.8zM679.5 1362.5h21.8v1.4h-21.8zM723.0 1356.6h21.8v0.8h-21.8zM766.5 1353.2h21.8v1.0h-21.8zM831.9 1368.0h21.8v0.8h-21.8zM679.5 1404.0h21.8v1.2h-21.8z"/>
<path fill="#9c4836" d="M287.6 828.3h21.8v1.7h-21.8zM331.1 929.1h21.8v1.7h-21.8zM331.1 939.0h21.8v1.7h-21.8zM352.9 933.0h21.8v1.7h-21.8zM418.2 926.5h21.8v0.8h-21.8zM352.9 948.0h21.8v1.2h-21.8zM352.9 950.6h21.8v1.7h-21.8zM418.2 961.2h21.8v1.2h-21.8zM418.2 1019.5h21.8v1.7h-21.8zM461.8 1053.7h21.8v0.8h-21.8zM505.3 1086.4h21.8v1.2h-21.8zM505.3 1088.8h21.8v1.2h-21.8zM635.9 1155.4h21.8v1.7h-21.8zM788.3 1172.5h21.8v1.7h-21.8zM657.7 1188.8h21.8v1.4h-21.8zM418.2 1212.7h21.8v1.2h-21.8zM570.6 1235.5h21.8v1.0h-21.8zM570.6 1236.5h21.8v0.4h-21.8zM527.1 1248.1h21.8v1.2h-21.8zM831.9 1338.2h21.8v1.2h-21.8zM810.1 1368.6h21.8v1.7h-21.8zM570.6 1390.6h21.8v1.2h-21.8zM570.6 1393.5h21.8v0.8h-21.8z"/>
<path fill="#f0c6ae" d="M287.6 831.0h21.8v1.7h-21.8zM505.3 827.0h21.8v0.8h-21.8zM505.3 842.4h21.8v0.8h-21.8zM222.3 884.1h21.8v1.1h-21.8zM222.3 912.7h21.8v1.2h-21.8zM679.5 900.2h21.8v1.2h-21.8zM440.0 927.7h21.8v1.4h-21.8zM527.1 923.6h21.8v1.7h-21.8zM352.9 958.6h21.8v1.0h-21.8zM352.9 998.6h21.8v0.8h-21.8zM440.0 1000.5h21.8v0.7h-21.8zM396.5 1015.3h21.8v1.4h-21.8zM396.5 1028.3h21.8v1.7h-21.8zM788.3 1018.0h21.8v0.8h-21.8zM440.0 1036.3h21.8v0.8h-21.8zM440.0 1049.1h21.8v1.4h-21.8zM440.0 1056.3h21.8v1.2h-21.8zM505.3 1045.8h21.8v1.2h-21.8zM483.5 1062.6h21.8v1.0h-21.8zM483.5 1070.2h21.8v0.8h-21.8zM614.2 1069.5h21.8v0.8h-21.8zM483.5 1105.8h21.8v0.8h-21.8zM679.5 1131.2h21.8v0.8h-21.8zM679.5 1146.9h21.8v0.8h-21.8zM440.0 1170.4h21.8v1.0h-21.8zM440.0 1179.4h21.8v1.0h-21.8zM570.6 1321.2h21.8v1.7h-21.8zM679.5 1329.7h21.8v1.7h-21.8zM679.5 1341.1h21.8v0.8h-21.8zM679.5 1341.9h21.8v1.7h-21.8zM723.0 1328.9h21.8v1.7h-21.8zM766.5 1370.6h21.8v1.2h-21.8zM440.0 1389.7h21.8v1.7h-21.8zM440.0 1392.4h21.8v0.8h-21.8zM679.5 1394.6h21.8v1.2h-21.8z"/>
<path fill="#cc7254" d="M287.6 835.5h21.8v0.8h-21.8zM287.6 851.5h21.8v0.8h-21.8zM287.6 873.8h21.8v1.4h-21.8zM287.6 904.0h21.8v0.8h-21.8zM352.9 917.3h21.8v1.4h-21.8zM352.9 942.3h21.8v1.2h-21.8zM418.2 930.4h21.8v1.4h-21.8zM418.2 941.0h21.8v1.0h-21.8zM352.9 971.0h21.8v0.8h-21.8zM396.5 967.9h21.8v1.4h-21.8zM418.2 963.6h21.8v1.2h-21.8zM352.9 1022.3h21.8v1.0h-21.8zM461.8 1057.1h21.8v1.4h-21.8zM505.3 1106.0h21.8v1.2h-21.8zM635.9 1165.3h21.8v1.0h-21.8zM657.7 1179.4h21.8v1.7h-21.8zM657.7 1187.4h21.8v1.4h-21.8zM614.2 1223.3h21.8v0.8h-21.8zM440.0 1306.4h21.8v0.8h-21.8zM440.0 1307.2h21.8v1.4h-21.8zM440.0 1313.4h21.8v0.8h-21.8zM701.2 1312.6h21.8v1.2h-21.8zM766.5 1310.8h21.8v1.4h-21.8zM810.1 1325.9h21.8v0.8h-21.8zM810.1 1382.7h21.8v0.8h-21.8zM810.1 1399.1h21.8v1.4h-21.8zM853.6 1392.0h21.8v0.8h-21.8z"/>
<path fill="#d2785a" d="M287.6 836.3h21.8v1.0h-21.8zM287.6 842.7h21.8v0.8h-21.8zM287.6 849.3h21.8v1.2h-21.8zM287.6 850.5h21.8v1.0h-21.8zM287.6 862.2h21.8v1.7h-21.8zM331.1 867.6h21.8v1.4h-21.8zM331.1 870.2h21.8v1.7h-21.8zM396.5 864.6h21.8v1.0h-21.8zM396.5 891.1h21.8v1.4h-21.8zM331.1 921.2h21.8v0.8h-21.8zM331.1 931.6h21.8v1.4h-21.8zM352.9 931.0h21.8v1.0h-21.8zM418.2 918.0h21.8v1.4h-21.8zM418.2 942.0h21.8v1.7h-21.8zM352.9 954.5h21.8v0.8h-21.8zM352.9 969.8h21.8v1.2h-21.8zM352.9 987.5h21.8v1.4h-21.8zM352.9 991.4h21.8v1.7h-21.8zM418.2 981.9h21.8v1.0h-21.8zM418.2 994.2h21.8v1.7h-21.8zM614.2 979.7h21.8v1.2h-21.8zM222.3 1017.6h21.8v1.7h-21.8zM352.9 1002.8h21.8v0.8h-21.8zM418.2 1021.2h21.8v0.8h-21.8zM352.9 1037.2h21.8v1.2h-21.8zM418.2 1043.0h21.8v1.2h-21.8zM418.2 1054.4h21.8v1.4h-21.8zM505.3 1094.2h21.8v1.7h-21.8zM635.9 1161.1h21.8v0.8h-21.8zM635.9 1173.6h21.8v1.7h-21.8zM570.6 1222.0h21.8v1.2h-21.8zM570.6 1223.2h21.8v1.7h-21.8zM440.0 1246.3h21.8v1.0h-21.8zM440.0 1260.7h21.8v0.8h-21.8zM527.1 1251.7h21.8v1.0h-21.8zM440.0 1302.1h21.8v1.2h-21.8zM440.0 1315.0h21.8v1.7h-21.8zM766.5 1318.1h21.8v1.7h-21.8zM766.5 1323.0h21.8v1.0h-21.8zM440.0 1336.6h21.8v1.7h-21.8zM810.1 1335.1h21.8v0.8h-21.8zM570.6 1360.5h21.8v1.2h-21.8zM788.3 1363.4h21.8v0.8h-21.8zM810.1 1358.1h21.8v1.7h-21.8zM570.6 1381.9h21.8v1.7h-21.8zM570.6 1395.1h21.8v1.4h-21.8zM853.6 1383.1h21.8v1.4h-21.8zM853.6 1404.3h21.8v1.0h-21.8z"/>
<path fill="#d27e60" d="M287.6 839.0h21.8v1.7h-21.8zM287.6 895.7h21.8v1.4h-21.8zM287.6 904.8h21.8v1.0h-21.8zM287.6 913.8h21.8v0.9h-21.8zM352.9 929.4h21.8v0.8h-21.8zM352.9 959.6h21.8v1.2h-21.8zM614.2 1006.7h21.8v0.8h-21.8zM418.2 1057.2h21.8v1.4h-21.8zM505.3 1075.7h21.8v1.7h-21.8zM505.3 1114.3h21.8v1.4h-21.8zM570.6 1219.3h21.8v1.0h-21.8zM440.0 1255.9h21.8v1.2h-21.8zM570.6 1270.2h21.8v0.8h-21.8zM440.0 1333.9h21.8v1.7h-21.8zM440.0 1365.5h21.8v0.8h-21.8zM810.1 1386.9h21.8v0.8h-21.8z"/>
<path fill="#ae543c" d="M287.6 841.7h21.8v1.0h-21.8zM352.9 935.7h21.8v0.8h-21.8zM396.5 955.0h21.8v1.2h-21.8zM352.9 988.9h21.8v0.8h-21.8zM614.2 992.4h21.8v1.2h-21.8zM352.9 1027.5h21.8v1.7h-21.8zM352.9 1051.0h21.8v0.8h-21.8zM418.2 1044.2h21.8v1.4h-21.8zM461.8 1055.9h21.8v1.2h-21.8zM418.2 1220.3h21.8v1.4h-21.8zM570.6 1209.2h21.8v1.2h-21.8zM440.0 1266.3h21.8v0.6h-21.8zM723.0 1287.7h21.8v1.0h-21.8zM788.3 1281.9h21.8v1.2h-21.8zM440.0 1303.3h21.8v1.4h-21.8zM831.9 1337.2h21.8v1.0h-21.8zM831.9 1344.4h21.8v1.7h-21.8zM810.1 1375.4h21.8v1.7h-21.8zM810.1 1378.1h21.8v1.4h-21.8zM570.6 1391.8h21.8v1.7h-21.8z"/>
<path fill="#cc6c54" d="M287.6 843.5h21.8v1.2h-21.8zM331.1 859.7h21.8v0.8h-21.8zM331.1 863.2h21.8v1.0h-21.8zM331.1 873.3h21.8v1.7h-21.8zM331.1 880.2h21.8v1.2h-21.8zM396.5 951.9h21.8v1.4h-21.8zM352.9 1003.6h21.8v1.7h-21.8zM352.9 1008.9h21.8v1.2h-21.8zM352.9 1021.3h21.8v1.0h-21.8zM352.9 1058.8h21.8v1.2h-21.8zM505.3 1071.4h21.8v1.7h-21.8zM418.2 1233.0h21.8v1.0h-21.8zM527.1 1249.3h21.8v1.4h-21.8zM527.1 1250.7h21.8v1.0h-21.8zM440.0 1273.6h21.8v1.7h-21.8zM440.0 1276.1h21.8v1.2h-21.8zM831.9 1346.1h21.8v1.0h-21.8zM810.1 1393.0h21.8v1.0h-21.8z"/>
<path fill="#e49c7e" d="M287.6 844.7h21.8v0.8h-21.8zM287.6 845.5h21.8v0.8h-21.8zM679.5 838.2h21.8v1.7h-21.8zM679.5 854.3h21.8v0.8h-21.8zM788.3 833.4h21.8v1.7h-21.8zM287.6 858.8h21.8v1.0h-21.8zM287.6 877.4h21.8v1.0h-21.8zM287.6 887.6h21.8v1.2h-21.8zM396.5 901.9h21.8v1.4h-21.8zM679.5 888.0h21.8v1.0h-21.8zM331.1 922.0h21.8v1.4h-21.8zM352.9 928.4h21.8v1.0h-21.8zM461.8 921.3h21.8v0.8h-21.8zM352.9 949.2h21.8v1.4h-21.8zM352.9 965.0h21.8v1.4h-21.8zM352.9 982.1h21.8v1.4h-21.8zM352.9 999.4h21.8v1.4h-21.8zM614.2 985.9h21.8v0.8h-21.8zM614.2 996.0h21.8v1.7h-21.8zM352.9 1017.4h21.8v1.4h-21.8zM679.5 1027.4h21.8v0.8h-21.8zM788.3 1013.2h21.8v1.4h-21.8zM418.2 1037.5h21.8v1.4h-21.8zM418.2 1058.6h21.8v1.2h-21.8zM614.2 1063.8h21.8v1.4h-21.8zM614.2 1076.5h21.8v0.8h-21.8zM505.3 1108.2h21.8v1.4h-21.8zM505.3 1111.8h21.8v1.7h-21.8zM614.2 1093.4h21.8v0.8h-21.8zM592.4 1159.1h21.8v1.0h-21.8zM592.4 1160.1h21.8v1.2h-21.8zM592.4 1171.2h21.8v0.8h-21.8zM635.9 1153.2h21.8v1.4h-21.8zM635.9 1159.1h21.8v0.8h-21.8zM831.9 1183.0h21.8v1.0h-21.8zM440.0 1239.9h21.8v1.0h-21.8zM679.5 1243.9h21.8v1.4h-21.8zM440.0 1290.2h21.8v1.7h-21.8zM570.6 1286.0h21.8v1.7h-21.8zM766.5 1282.5h21.8v1.0h-21.8zM788.3 1283.1h21.8v0.8h-21.8zM440.0 1319.2h21.8v0.8h-21.8zM766.5 1296.3h21.8v1.0h-21.8zM766.5 1304.0h21.8v1.0h-21.8zM766.5 1312.2h21.8v0.8h-21.8zM788.3 1302.1h21.8v0.8h-21.8zM440.0 1327.7h21.8v1.4h-21.8zM440.0 1345.3h21.8v1.0h-21.8zM679.5 1337.4h21.8v1.2h-21.8zM440.0 1375.1h21.8v1.2h-21.8zM440.0 1379.8h21.8v0.5h-21.8z"/>
<path fill="#fceae4" d="M309.4 845.4h21.8v1.4h-21.8zM309.4 849.8h21.8v0.8h-21.8zM287.6 878.4h21.8v1.0h-21.8zM744.8 856.8h21.8v1.7h-21.8zM265.8 888.0h21.8v0.8h-21.8zM483.5 966.4h21.8v1.4h-21.8zM744.8 957.7h21.8v1.4h-21.8zM853.6 987.8h21.8v1.2h-21.8zM374.7 1013.4h21.8v1.2h-21.8zM766.5 1006.6h21.8v1.2h-21.8zM810.1 1006.4h21.8v1.7h-21.8zM440.0 1064.0h21.8v1.4h-21.8zM440.0 1108.4h21.8v1.2h-21.8zM527.1 1096.2h21.8v0.8h-21.8zM657.7 1118.4h21.8v1.0h-21.8zM222.3 1146.8h21.8v1.7h-21.8zM548.9 1135.3h21.8v1.7h-21.8zM766.5 1140.2h21.8v1.4h-21.8zM527.1 1159.7h21.8v1.4h-21.8zM244.1 1207.2h21.8v0.4h-21.8zM309.4 1185.6h21.8v1.4h-21.8zM287.6 1223.5h21.8v1.4h-21.8zM309.4 1236.4h21.8v0.5h-21.8zM483.5 1212.4h21.8v1.7h-21.8zM352.9 1252.5h21.8v1.7h-21.8zM614.2 1285.4h21.8v0.8h-21.8zM810.1 1270.2h21.8v1.2h-21.8zM548.9 1306.9h21.8v1.4h-21.8zM853.6 1302.8h21.8v1.0h-21.8zM461.8 1331.2h21.8v1.0h-21.8zM853.6 1357.5h21.8v1.4h-21.8zM352.9 1388.7h21.8v0.8h-21.8zM352.9 1389.5h21.8v1.0h-21.8z"/>
<path fill="#f6d8cc" d="M309.4 853.2h21.8v0.8h-21.8zM505.3 828.6h21.8v1.2h-21.8zM505.3 839.4h21.8v1.4h-21.8zM679.5 922.9h21.8v1.4h-21.8zM440.0 1011.6h21.8v1.4h-21.8zM788.3 1009.1h21.8v1.2h-21.8zM505.3 1054.1h21.8v1.2h-21.8zM483.5 1127.8h21.8v1.7h-21.8zM657.7 1251.6h21.8v1.2h-21.8zM657.7 1263.8h21.8v1.7h-21.8zM440.0 1317.5h21.8v1.7h-21.8zM265.8 1343.9h21.8v1.2h-21.8z"/>
<path fill="#f6decc" d="M352.9 834.0h21.8v1.2h-21.8zM374.7 829.2h21.8v1.2h-21.8zM374.7 838.6h21.8v1.2h-21.8zM418.2 835.9h21.8v1.4h-21.8zM505.3 829.8h21.8v1.0h-21.8zM548.9 846.9h21.8v0.8h-21.8zM679.5 830.2h21.8v1.0h-21.8zM222.3 856.8h21.8v1.2h-21.8zM222.3 866.1h21.8v1.0h-21.8zM265.8 876.2h21.8v1.0h-21.8zM505.3 883.3h21.8v1.7h-21.8zM222.3 901.7h21.8v1.4h-21.8zM287.6 902.6h21.8v1.4h-21.8zM505.3 902.5h21.8v0.8h-21.8zM244.1 938.8h21.8v1.0h-21.8zM483.5 934.1h21.8v1.4h-21.8zM331.1 962.3h21.8v1.7h-21.8zM440.0 962.5h21.8v1.7h-21.8zM505.3 948.2h21.8v1.7h-21.8zM505.3 968.8h21.8v0.8h-21.8zM614.2 953.3h21.8v1.2h-21.8zM222.3 994.6h21.8v1.2h-21.8zM396.5 982.2h21.8v1.0h-21.8zM461.8 1000.3h21.8v0.9h-21.8zM614.2 973.8h21.8v1.0h-21.8zM352.9 1026.7h21.8v0.8h-21.8zM396.5 1007.0h21.8v1.0h-21.8zM440.0 1015.2h21.8v1.0h-21.8zM440.0 1022.1h21.8v1.4h-21.8zM440.0 1027.6h21.8v1.4h-21.8zM548.9 1016.6h21.8v0.8h-21.8zM657.7 1022.0h21.8v1.2h-21.8zM679.5 1010.0h21.8v1.4h-21.8zM831.9 1009.9h21.8v1.4h-21.8zM352.9 1045.1h21.8v1.0h-21.8zM396.5 1060.0h21.8v1.0h-21.8zM440.0 1034.3h21.8v0.8h-21.8zM440.0 1044.1h21.8v1.0h-21.8zM505.3 1051.1h21.8v1.4h-21.8zM527.1 1058.5h21.8v1.0h-21.8zM788.3 1052.8h21.8v1.4h-21.8zM788.3 1057.4h21.8v1.7h-21.8zM831.9 1036.3h21.8v0.8h-21.8zM418.2 1085.6h21.8v1.0h-21.8zM505.3 1074.3h21.8v1.4h-21.8zM505.3 1077.4h21.8v0.8h-21.8zM527.1 1074.6h21.8v1.0h-21.8zM679.5 1082.3h21.8v1.0h-21.8zM723.0 1071.4h21.8v0.8h-21.8zM635.9 1116.3h21.8v0.8h-21.8zM679.5 1107.5h21.8v1.7h-21.8zM701.2 1108.3h21.8v0.8h-21.8zM374.7 1136.0h21.8v1.4h-21.8zM483.5 1131.3h21.8v1.2h-21.8zM505.3 1148.2h21.8v0.8h-21.8zM679.5 1132.0h21.8v0.8h-21.8zM440.0 1150.6h21.8v0.8h-21.8zM527.1 1173.4h21.8v1.2h-21.8zM592.4 1173.0h21.8v1.7h-21.8zM548.9 1200.8h21.8v0.8h-21.8zM635.9 1195.3h21.8v1.4h-21.8zM635.9 1202.5h21.8v1.2h-21.8zM657.7 1184.7h21.8v1.7h-21.8zM766.5 1203.6h21.8v1.0h-21.8zM244.1 1221.7h21.8v0.8h-21.8zM374.7 1213.1h21.8v1.2h-21.8zM396.5 1228.5h21.8v1.4h-21.8zM440.0 1221.5h21.8v0.8h-21.8zM570.6 1229.7h21.8v0.8h-21.8zM657.7 1211.2h21.8v1.0h-21.8zM679.5 1227.2h21.8v1.4h-21.8zM679.5 1234.1h21.8v1.7h-21.8zM440.0 1249.3h21.8v1.0h-21.8zM657.7 1262.6h21.8v1.2h-21.8zM853.6 1263.6h21.8v1.4h-21.8zM331.1 1282.4h21.8v1.0h-21.8zM352.9 1283.9h21.8v1.2h-21.8zM418.2 1270.9h21.8v1.7h-21.8zM527.1 1271.2h21.8v0.8h-21.8zM592.4 1271.1h21.8v1.2h-21.8zM679.5 1277.7h21.8v1.2h-21.8zM744.8 1274.0h21.8v1.2h-21.8zM352.9 1305.8h21.8v1.0h-21.8zM418.2 1323.2h21.8v1.1h-21.8zM483.5 1295.9h21.8v1.4h-21.8zM657.7 1306.1h21.8v0.8h-21.8zM657.7 1306.9h21.8v1.2h-21.8zM657.7 1318.9h21.8v0.8h-21.8zM657.7 1321.1h21.8v1.4h-21.8zM766.5 1294.9h21.8v1.4h-21.8zM287.6 1351.1h21.8v0.5h-21.8zM352.9 1348.3h21.8v1.7h-21.8zM701.2 1331.8h21.8v0.8h-21.8zM788.3 1342.9h21.8v1.2h-21.8zM505.3 1360.5h21.8v1.7h-21.8zM527.1 1373.5h21.8v1.4h-21.8zM679.5 1355.2h21.8v1.4h-21.8zM723.0 1364.9h21.8v1.0h-21.8zM766.5 1376.1h21.8v1.7h-21.8zM570.6 1402.8h21.8v1.7h-21.8zM592.4 1397.8h21.8v1.2h-21.8z"/>
<path fill="#f0c6b4" d="M352.9 842.9h21.8v1.7h-21.8zM418.2 848.4h21.8v0.8h-21.8zM679.5 833.0h21.8v1.0h-21.8zM222.3 878.7h21.8v0.8h-21.8zM222.3 895.0h21.8v1.7h-21.8zM440.0 919.7h21.8v1.2h-21.8zM679.5 938.2h21.8v1.2h-21.8zM440.0 1014.4h21.8v0.8h-21.8zM440.0 1026.2h21.8v1.4h-21.8zM679.5 1023.0h21.8v1.0h-21.8zM440.0 1043.3h21.8v0.8h-21.8zM788.3 1054.2h21.8v1.2h-21.8zM505.3 1081.1h21.8v1.2h-21.8zM679.5 1081.3h21.8v1.0h-21.8zM440.0 1159.2h21.8v0.8h-21.8zM810.1 1183.3h21.8v0.8h-21.8zM440.0 1234.8h21.8v1.0h-21.8zM527.1 1243.8h21.8v0.8h-21.8zM853.6 1272.6h21.8v1.7h-21.8zM723.0 1327.9h21.8v1.0h-21.8zM679.5 1368.3h21.8v1.4h-21.8zM723.0 1369.3h21.8v1.2h-21.8zM440.0 1386.8h21.8v1.7h-21.8zM440.0 1400.4h21.8v1.4h-21.8zM810.1 1405.7h21.8v0.8h-21.8z"/>
<path fill="#f6ded2" d="M374.7 830.4h21.8v1.2h-21.8zM265.8 875.0h21.8v1.2h-21.8zM287.6 880.8h21.8v1.2h-21.8zM309.4 864.2h21.8v0.8h-21.8zM374.7 860.3h21.8v1.0h-21.8zM461.8 864.3h21.8v1.4h-21.8zM614.2 862.2h21.8v1.2h-21.8zM701.2 856.8h21.8v1.7h-21.8zM222.3 899.9h21.8v0.8h-21.8zM222.3 913.9h21.8v0.8h-21.8zM352.9 907.0h21.8v1.0h-21.8zM418.2 906.9h21.8v1.2h-21.8zM853.6 912.6h21.8v1.7h-21.8zM244.1 942.9h21.8v1.0h-21.8zM309.4 932.0h21.8v1.2h-21.8zM331.1 935.2h21.8v1.0h-21.8zM440.0 921.9h21.8v1.0h-21.8zM440.0 936.5h21.8v1.2h-21.8zM592.4 922.6h21.8v1.2h-21.8zM679.5 943.2h21.8v1.0h-21.8zM505.3 971.0h21.8v1.2h-21.8zM614.2 971.8h21.8v0.4h-21.8zM570.6 997.1h21.8v1.7h-21.8zM244.1 1026.4h21.8v1.4h-21.8zM265.8 1003.8h21.8v1.2h-21.8zM287.6 1006.4h21.8v1.4h-21.8zM440.0 1010.2h21.8v1.4h-21.8zM505.3 1002.8h21.8v1.2h-21.8zM570.6 1011.9h21.8v1.0h-21.8zM723.0 1010.6h21.8v0.8h-21.8zM505.3 1042.7h21.8v1.7h-21.8zM527.1 1047.5h21.8v1.2h-21.8zM788.3 1047.7h21.8v1.2h-21.8zM331.1 1068.9h21.8v1.2h-21.8zM635.9 1069.6h21.8v0.8h-21.8zM657.7 1081.5h21.8v1.0h-21.8zM244.1 1103.6h21.8v1.7h-21.8zM701.2 1100.8h21.8v1.0h-21.8zM701.2 1101.8h21.8v1.2h-21.8zM766.5 1095.4h21.8v1.0h-21.8zM265.8 1130.2h21.8v1.2h-21.8zM679.5 1126.5h21.8v1.7h-21.8zM679.5 1135.0h21.8v1.2h-21.8zM766.5 1145.3h21.8v1.2h-21.8zM265.8 1156.0h21.8v1.7h-21.8zM679.5 1156.1h21.8v1.0h-21.8zM265.8 1205.1h21.8v1.0h-21.8zM331.1 1193.6h21.8v1.0h-21.8zM418.2 1194.5h21.8v0.8h-21.8zM440.0 1203.4h21.8v1.2h-21.8zM592.4 1193.3h21.8v1.0h-21.8zM592.4 1204.7h21.8v1.4h-21.8zM657.7 1191.4h21.8v1.2h-21.8zM244.1 1219.7h21.8v1.2h-21.8zM265.8 1219.8h21.8v1.7h-21.8zM352.9 1212.1h21.8v1.0h-21.8zM374.7 1224.8h21.8v0.8h-21.8zM440.0 1216.5h21.8v0.8h-21.8zM592.4 1229.4h21.8v1.4h-21.8zM440.0 1250.3h21.8v1.7h-21.8zM461.8 1262.8h21.8v1.2h-21.8zM483.5 1263.0h21.8v1.0h-21.8zM723.0 1257.0h21.8v1.7h-21.8zM831.9 1240.2h21.8v1.0h-21.8zM244.1 1285.0h21.8v1.4h-21.8zM352.9 1285.1h21.8v1.7h-21.8zM440.0 1288.2h21.8v0.8h-21.8zM614.2 1289.5h21.8v1.2h-21.8zM744.8 1290.6h21.8v1.2h-21.8zM810.1 1274.5h21.8v1.7h-21.8zM853.6 1271.6h21.8v1.0h-21.8zM309.4 1298.0h21.8v1.7h-21.8zM352.9 1319.0h21.8v1.0h-21.8zM614.2 1300.5h21.8v1.2h-21.8zM657.7 1308.1h21.8v1.7h-21.8zM723.0 1323.9h21.8v0.4h-21.8zM831.9 1340.6h21.8v1.2h-21.8zM592.4 1363.4h21.8v1.7h-21.8zM679.5 1376.7h21.8v1.0h-21.8zM766.5 1366.1h21.8v1.7h-21.8zM592.4 1388.8h21.8v1.0h-21.8z"/>
<path fill="#e4a284" d="M396.5 825.8h21.8v1.4h-21.8zM287.6 876.2h21.8v1.2h-21.8zM679.5 857.8h21.8v1.4h-21.8zM287.6 889.8h21.8v1.0h-21.8zM679.5 936.4h21.8v0.8h-21.8zM222.3 967.4h21.8v0.8h-21.8zM396.5 960.9h21.8v0.8h-21.8zM679.5 954.1h21.8v1.0h-21.8zM418.2 995.9h21.8v1.4h-21.8zM614.2 980.9h21.8v1.0h-21.8zM614.2 983.7h21.8v1.2h-21.8zM614.2 993.6h21.8v1.2h-21.8zM352.9 1012.3h21.8v1.2h-21.8zM788.3 1021.0h21.8v1.0h-21.8zM418.2 1033.1h21.8v0.8h-21.8zM440.0 1037.1h21.8v1.7h-21.8zM440.0 1046.1h21.8v1.0h-21.8zM614.2 1073.4h21.8v1.4h-21.8zM505.3 1100.6h21.8v1.7h-21.8zM505.3 1113.5h21.8v0.8h-21.8zM614.2 1097.3h21.8v0.8h-21.8zM614.2 1104.6h21.8v0.8h-21.8zM788.3 1111.0h21.8v1.0h-21.8zM592.4 1174.7h21.8v1.7h-21.8zM592.4 1209.2h21.8v1.7h-21.8zM679.5 1216.5h21.8v1.0h-21.8zM440.0 1261.5h21.8v1.7h-21.8zM766.5 1274.3h21.8v1.0h-21.8zM440.0 1312.4h21.8v1.0h-21.8zM440.0 1346.3h21.8v0.8h-21.8zM440.0 1368.5h21.8v1.2h-21.8zM679.5 1364.9h21.8v1.2h-21.8zM679.5 1371.9h21.8v1.2h-21.8zM723.0 1362.7h21.8v1.2h-21.8zM505.3 1392.2h21.8v1.2h-21.8zM505.3 1399.8h21.8v1.4h-21.8zM679.5 1405.2h21.8v1.7h-21.8zM831.9 1393.8h21.8v0.8h-21.8z"/>
<path fill="#f0baa2" d="M396.5 846.5h21.8v0.8h-21.8zM418.2 853.3h21.8v1.0h-21.8zM505.3 833.6h21.8v1.0h-21.8zM505.3 850.4h21.8v1.4h-21.8zM788.3 830.8h21.8v0.8h-21.8zM222.3 861.1h21.8v1.2h-21.8zM222.3 876.1h21.8v0.8h-21.8zM222.3 883.1h21.8v1.0h-21.8zM788.3 902.0h21.8v1.0h-21.8zM461.8 934.5h21.8v1.2h-21.8zM679.5 926.8h21.8v1.2h-21.8zM222.3 947.0h21.8v1.0h-21.8zM396.5 990.9h21.8v1.7h-21.8zM440.0 984.1h21.8v1.7h-21.8zM788.3 981.0h21.8v0.8h-21.8zM461.8 1030.0h21.8v1.0h-21.8zM788.3 1022.0h21.8v1.4h-21.8zM440.0 1038.8h21.8v1.0h-21.8zM614.2 1077.3h21.8v1.7h-21.8zM614.2 1083.0h21.8v1.2h-21.8zM679.5 1076.8h21.8v1.7h-21.8zM614.2 1111.9h21.8v1.4h-21.8zM614.2 1116.1h21.8v1.2h-21.8zM679.5 1116.8h21.8v0.8h-21.8zM679.5 1184.7h21.8v1.4h-21.8zM679.5 1190.1h21.8v0.8h-21.8zM679.5 1198.2h21.8v1.4h-21.8zM614.2 1220.5h21.8v1.2h-21.8zM657.7 1222.6h21.8v1.7h-21.8zM592.4 1244.3h21.8v1.7h-21.8zM570.6 1279.8h21.8v0.8h-21.8zM222.3 1332.5h21.8v1.0h-21.8zM418.2 1364.8h21.8v1.4h-21.8zM440.0 1362.0h21.8v1.7h-21.8zM679.5 1357.8h21.8v1.7h-21.8zM679.5 1366.9h21.8v1.4h-21.8zM723.0 1360.5h21.8v1.2h-21.8zM831.9 1379.0h21.8v1.3h-21.8zM853.6 1395.3h21.8v1.4h-21.8z"/>
<path fill="#f0c0a8" d="M418.2 837.3h21.8v0.8h-21.8zM505.3 843.2h21.8v1.7h-21.8zM679.5 825.8h21.8v1.2h-21.8zM222.3 863.5h21.8v1.4h-21.8zM331.1 881.4h21.8v1.0h-21.8zM352.9 924.7h21.8v0.8h-21.8zM396.5 925.8h21.8v1.7h-21.8zM461.8 927.3h21.8v0.8h-21.8zM331.1 949.4h21.8v1.4h-21.8zM679.5 955.1h21.8v1.0h-21.8zM396.5 999.4h21.8v1.0h-21.8zM440.0 977.4h21.8v1.0h-21.8zM679.5 998.5h21.8v1.4h-21.8zM461.8 1021.5h21.8v1.0h-21.8zM505.3 1011.2h21.8v1.7h-21.8zM505.3 1018.4h21.8v0.8h-21.8zM440.0 1047.1h21.8v1.2h-21.8zM679.5 1036.2h21.8v1.2h-21.8zM483.5 1064.4h21.8v1.4h-21.8zM614.2 1089.5h21.8v1.0h-21.8zM483.5 1092.4h21.8v1.2h-21.8zM614.2 1099.7h21.8v1.4h-21.8zM679.5 1098.8h21.8v1.7h-21.8zM592.4 1156.0h21.8v1.4h-21.8zM592.4 1165.5h21.8v1.2h-21.8zM679.5 1158.3h21.8v1.2h-21.8zM679.5 1160.9h21.8v1.0h-21.8zM592.4 1189.2h21.8v1.4h-21.8zM679.5 1204.0h21.8v1.2h-21.8zM810.1 1202.4h21.8v0.8h-21.8zM657.7 1236.1h21.8v0.8h-21.8zM679.5 1214.7h21.8v0.8h-21.8zM766.5 1212.2h21.8v1.2h-21.8zM766.5 1271.5h21.8v1.4h-21.8zM440.0 1335.6h21.8v1.0h-21.8zM679.5 1347.0h21.8v0.8h-21.8zM418.2 1354.9h21.8v1.7h-21.8zM440.0 1354.2h21.8v1.2h-21.8zM440.0 1376.3h21.8v0.8h-21.8zM505.3 1362.2h21.8v0.8h-21.8zM723.0 1370.5h21.8v1.2h-21.8zM723.0 1376.7h21.8v1.7h-21.8zM505.3 1391.0h21.8v1.2h-21.8z"/>
<path fill="#f6d8c6" d="M418.2 845.2h21.8v1.4h-21.8zM527.1 848.7h21.8v0.8h-21.8zM309.4 856.8h21.8v1.7h-21.8zM418.2 904.5h21.8v1.2h-21.8zM505.3 886.8h21.8v1.0h-21.8zM396.5 930.1h21.8v1.4h-21.8zM396.5 940.0h21.8v0.8h-21.8zM418.2 928.7h21.8v1.7h-21.8zM440.0 940.8h21.8v1.4h-21.8zM483.5 925.3h21.8v1.7h-21.8zM222.3 959.5h21.8v1.0h-21.8zM265.8 961.9h21.8v1.2h-21.8zM265.8 969.1h21.8v1.4h-21.8zM287.6 950.4h21.8v0.8h-21.8zM287.6 958.5h21.8v1.7h-21.8zM679.5 948.9h21.8v1.0h-21.8zM440.0 978.4h21.8v1.7h-21.8zM461.8 988.7h21.8v1.0h-21.8zM679.5 994.6h21.8v1.0h-21.8zM440.0 1004.2h21.8v1.0h-21.8zM440.0 1006.2h21.8v1.4h-21.8zM440.0 1017.2h21.8v1.2h-21.8zM679.5 1014.2h21.8v1.7h-21.8zM788.3 1019.6h21.8v1.4h-21.8zM352.9 1044.1h21.8v1.0h-21.8zM418.2 1041.3h21.8v1.7h-21.8zM418.2 1049.8h21.8v1.4h-21.8zM440.0 1042.5h21.8v0.8h-21.8zM679.5 1050.0h21.8v1.0h-21.8zM788.3 1048.9h21.8v1.2h-21.8zM418.2 1086.6h21.8v1.7h-21.8zM527.1 1086.4h21.8v1.7h-21.8zM331.1 1147.7h21.8v1.3h-21.8zM483.5 1126.6h21.8v1.2h-21.8zM483.5 1142.6h21.8v1.4h-21.8zM440.0 1153.2h21.8v1.4h-21.8zM418.2 1200.0h21.8v1.0h-21.8zM440.0 1182.6h21.8v1.2h-21.8zM440.0 1194.5h21.8v1.7h-21.8zM592.4 1198.2h21.8v1.2h-21.8zM592.4 1199.4h21.8v1.2h-21.8zM635.9 1181.6h21.8v1.0h-21.8zM635.9 1182.6h21.8v1.2h-21.8zM635.9 1184.6h21.8v1.2h-21.8zM440.0 1209.2h21.8v1.7h-21.8zM592.4 1210.9h21.8v0.8h-21.8zM657.7 1229.8h21.8v0.8h-21.8zM679.5 1219.5h21.8v1.4h-21.8zM287.6 1241.3h21.8v1.2h-21.8zM440.0 1259.5h21.8v1.2h-21.8zM657.7 1242.7h21.8v1.7h-21.8zM440.0 1289.0h21.8v1.2h-21.8zM570.6 1283.6h21.8v1.4h-21.8zM570.6 1291.4h21.8v1.7h-21.8zM679.5 1274.1h21.8v1.2h-21.8zM352.9 1302.6h21.8v0.8h-21.8zM418.2 1300.9h21.8v1.4h-21.8zM766.5 1305.0h21.8v1.0h-21.8zM766.5 1308.0h21.8v1.4h-21.8zM788.3 1320.5h21.8v1.4h-21.8zM505.3 1329.8h21.8v1.2h-21.8zM505.3 1346.8h21.8v1.4h-21.8zM723.0 1339.1h21.8v1.0h-21.8zM723.0 1350.5h21.8v1.1h-21.8zM679.5 1361.1h21.8v1.4h-21.8zM440.0 1391.4h21.8v1.0h-21.8z"/>
<path fill="#f6ccb4" d="M418.2 849.2h21.8v1.7h-21.8zM505.3 964.5h21.8v1.7h-21.8zM679.5 969.2h21.8v1.7h-21.8zM679.5 1006.2h21.8v1.2h-21.8zM505.3 1040.9h21.8v1.0h-21.8zM483.5 1079.5h21.8v1.0h-21.8zM505.3 1082.3h21.8v1.7h-21.8zM483.5 1099.6h21.8v1.4h-21.8zM592.4 1096.8h21.8v1.7h-21.8zM788.3 1204.3h21.8v1.0h-21.8zM592.4 1228.2h21.8v1.2h-21.8zM440.0 1264.6h21.8v1.7h-21.8z"/>
<path fill="#fce4de" d="M461.8 848.6h21.8v0.8h-21.8zM570.6 858.5h21.8v0.8h-21.8zM483.5 908.0h21.8v1.2h-21.8zM657.7 954.9h21.8v1.7h-21.8zM331.1 992.5h21.8v1.4h-21.8zM527.1 1056.1h21.8v0.8h-21.8zM222.3 1107.2h21.8v1.4h-21.8zM309.4 1248.9h21.8v0.8h-21.8zM440.0 1296.6h21.8v1.0h-21.8z"/>
<path fill="#f6ccba" d="M505.3 832.8h21.8v0.8h-21.8zM679.5 841.3h21.8v1.2h-21.8zM222.3 877.7h21.8v1.0h-21.8zM265.8 857.8h21.8v1.7h-21.8zM222.3 889.6h21.8v1.0h-21.8zM418.2 899.0h21.8v1.7h-21.8zM679.5 905.2h21.8v1.0h-21.8zM396.5 928.9h21.8v1.2h-21.8zM461.8 942.5h21.8v1.7h-21.8zM331.1 952.2h21.8v1.7h-21.8zM679.5 962.3h21.8v1.2h-21.8zM440.0 996.8h21.8v1.7h-21.8zM788.3 995.5h21.8v1.4h-21.8zM396.5 1027.1h21.8v1.2h-21.8zM440.0 1025.2h21.8v1.0h-21.8zM505.3 1005.0h21.8v0.8h-21.8zM788.3 1023.4h21.8v0.8h-21.8zM396.5 1052.3h21.8v0.8h-21.8zM527.1 1050.1h21.8v1.2h-21.8zM679.5 1053.4h21.8v1.0h-21.8zM483.5 1077.3h21.8v1.0h-21.8zM505.3 1067.3h21.8v1.2h-21.8zM614.2 1085.9h21.8v1.4h-21.8zM592.4 1190.6h21.8v1.7h-21.8zM592.4 1194.3h21.8v1.2h-21.8zM635.9 1205.7h21.8v1.0h-21.8zM418.2 1226.9h21.8v0.8h-21.8zM440.0 1211.7h21.8v1.7h-21.8zM440.0 1228.0h21.8v1.2h-21.8zM570.6 1214.2h21.8v1.7h-21.8zM570.6 1232.7h21.8v1.4h-21.8zM592.4 1226.5h21.8v1.7h-21.8zM592.4 1235.6h21.8v1.3h-21.8zM657.7 1213.2h21.8v1.0h-21.8zM657.7 1226.1h21.8v1.0h-21.8zM788.3 1214.4h21.8v1.4h-21.8zM440.0 1285.0h21.8v1.2h-21.8zM853.6 1284.8h21.8v1.4h-21.8zM440.0 1321.6h21.8v1.7h-21.8zM723.0 1340.1h21.8v0.8h-21.8zM810.1 1330.0h21.8v0.8h-21.8zM418.2 1376.3h21.8v0.8h-21.8zM505.3 1358.5h21.8v1.2h-21.8z"/>
<path fill="#eaa88a" d="M505.3 841.6h21.8v0.8h-21.8zM679.5 834.0h21.8v0.8h-21.8zM788.3 830.0h21.8v0.8h-21.8zM788.3 844.0h21.8v0.8h-21.8zM287.6 856.8h21.8v0.8h-21.8zM396.5 862.2h21.8v1.4h-21.8zM396.5 873.7h21.8v0.8h-21.8zM679.5 871.0h21.8v0.8h-21.8zM788.3 858.2h21.8v1.0h-21.8zM788.3 882.6h21.8v1.0h-21.8zM287.6 908.2h21.8v0.8h-21.8zM679.5 895.3h21.8v1.0h-21.8zM679.5 899.0h21.8v1.2h-21.8zM679.5 913.7h21.8v1.0h-21.8zM222.3 964.2h21.8v1.4h-21.8zM418.2 962.4h21.8v1.2h-21.8zM679.5 959.5h21.8v1.4h-21.8zM440.0 994.6h21.8v1.0h-21.8zM614.2 982.7h21.8v1.0h-21.8zM614.2 986.7h21.8v1.4h-21.8zM679.5 977.6h21.8v1.4h-21.8zM352.9 1013.5h21.8v1.7h-21.8zM352.9 1019.6h21.8v1.7h-21.8zM679.5 1026.2h21.8v1.2h-21.8zM461.8 1039.0h21.8v1.4h-21.8zM483.5 1074.4h21.8v1.7h-21.8zM614.2 1065.2h21.8v1.7h-21.8zM614.2 1084.2h21.8v1.7h-21.8zM679.5 1067.5h21.8v0.8h-21.8zM614.2 1092.4h21.8v1.0h-21.8zM679.5 1111.9h21.8v1.2h-21.8zM592.4 1170.4h21.8v0.8h-21.8zM592.4 1172.0h21.8v1.0h-21.8zM592.4 1214.8h21.8v1.2h-21.8zM592.4 1218.4h21.8v0.8h-21.8zM766.5 1233.9h21.8v1.4h-21.8zM592.4 1250.9h21.8v1.0h-21.8zM440.0 1286.2h21.8v1.2h-21.8zM679.5 1285.9h21.8v1.0h-21.8zM723.0 1274.2h21.8v1.7h-21.8zM766.5 1300.9h21.8v1.7h-21.8zM766.5 1307.0h21.8v1.0h-21.8zM810.1 1308.8h21.8v1.4h-21.8zM440.0 1348.5h21.8v1.0h-21.8zM418.2 1367.4h21.8v1.0h-21.8zM440.0 1377.1h21.8v1.7h-21.8zM440.0 1406.7h21.8v1.0h-21.8zM505.3 1386.1h21.8v1.7h-21.8zM505.3 1394.6h21.8v1.4h-21.8zM679.5 1400.6h21.8v0.8h-21.8zM679.5 1402.6h21.8v1.4h-21.8z"/>
<path fill="#f0b49c" d="M505.3 851.8h21.8v1.4h-21.8zM222.3 954.1h21.8v1.2h-21.8zM287.6 951.2h21.8v1.0h-21.8zM679.5 984.4h21.8v1.7h-21.8zM679.5 1002.8h21.8v1.7h-21.8zM440.0 1033.1h21.8v1.2h-21.8zM679.5 1090.4h21.8v0.4h-21.8zM679.5 1163.3h21.8v0.8h-21.8zM570.6 1251.2h21.8v1.4h-21.8zM766.5 1314.0h21.8v1.4h-21.8zM831.9 1305.0h21.8v1.0h-21.8zM440.0 1332.5h21.8v1.4h-21.8zM679.5 1334.2h21.8v1.0h-21.8zM679.5 1338.6h21.8v0.8h-21.8zM679.5 1339.4h21.8v1.7h-21.8zM440.0 1372.2h21.8v1.7h-21.8zM570.6 1379.6h21.8v0.7h-21.8z"/>
<path fill="#eaae90" d="M527.1 851.2h21.8v1.4h-21.8zM788.3 847.5h21.8v1.2h-21.8zM788.3 871.8h21.8v1.2h-21.8zM505.3 983.0h21.8v1.2h-21.8zM440.0 1018.4h21.8v0.8h-21.8zM614.2 1002.8h21.8v1.7h-21.8zM614.2 1081.6h21.8v1.4h-21.8zM679.5 1083.3h21.8v1.7h-21.8zM679.5 1104.8h21.8v1.7h-21.8zM592.4 1150.6h21.8v0.8h-21.8zM592.4 1153.6h21.8v1.2h-21.8zM440.0 1271.4h21.8v0.8h-21.8zM570.6 1273.4h21.8v1.4h-21.8zM788.3 1322.9h21.8v1.2h-21.8zM679.5 1326.9h21.8v1.4h-21.8zM679.5 1335.2h21.8v0.8h-21.8zM418.2 1356.6h21.8v1.0h-21.8zM418.2 1362.4h21.8v1.4h-21.8zM418.2 1369.4h21.8v0.8h-21.8zM505.3 1381.9h21.8v0.8h-21.8zM853.6 1401.9h21.8v1.2h-21.8z"/>
<path fill="#fcf0e4" d="M548.9 842.7h21.8v1.7h-21.8zM287.6 898.3h21.8v1.4h-21.8zM592.4 891.8h21.8v1.2h-21.8zM744.8 889.4h21.8v1.2h-21.8zM766.5 924.1h21.8v1.2h-21.8zM701.2 964.0h21.8v1.4h-21.8zM657.7 986.5h21.8v1.2h-21.8zM374.7 1028.9h21.8v1.4h-21.8zM570.6 1005.4h21.8v1.2h-21.8zM810.1 1009.3h21.8v1.4h-21.8zM570.6 1045.2h21.8v1.4h-21.8zM723.0 1035.6h21.8v1.2h-21.8zM766.5 1086.9h21.8v1.7h-21.8zM265.8 1214.8h21.8v1.0h-21.8zM374.7 1248.6h21.8v1.2h-21.8zM570.6 1272.0h21.8v1.4h-21.8zM614.2 1292.1h21.8v1.0h-21.8z"/>
<path fill="#fceade" d="M548.9 851.1h21.8v1.0h-21.8zM309.4 858.5h21.8v1.0h-21.8zM374.7 869.9h21.8v1.7h-21.8zM505.3 864.5h21.8v1.0h-21.8zM701.2 865.5h21.8v1.2h-21.8zM853.6 871.3h21.8v0.8h-21.8zM287.6 905.8h21.8v1.2h-21.8zM352.9 897.3h21.8v0.8h-21.8zM505.3 910.7h21.8v1.4h-21.8zM527.1 902.2h21.8v1.4h-21.8zM527.1 906.6h21.8v1.4h-21.8zM614.2 896.8h21.8v1.0h-21.8zM483.5 920.3h21.8v0.8h-21.8zM701.2 917.1h21.8v0.8h-21.8zM265.8 970.5h21.8v1.4h-21.8zM352.9 960.8h21.8v1.7h-21.8zM374.7 992.0h21.8v1.2h-21.8zM483.5 989.5h21.8v1.2h-21.8zM287.6 1024.9h21.8v1.0h-21.8zM527.1 1029.1h21.8v1.4h-21.8zM570.6 1009.2h21.8v1.0h-21.8zM635.9 1007.1h21.8v1.2h-21.8zM222.3 1033.1h21.8v1.4h-21.8zM635.9 1054.6h21.8v1.7h-21.8zM505.3 1078.2h21.8v1.7h-21.8zM548.9 1088.1h21.8v1.4h-21.8zM657.7 1073.9h21.8v1.2h-21.8zM374.7 1095.5h21.8v1.0h-21.8zM592.4 1101.9h21.8v1.7h-21.8zM331.1 1131.4h21.8v1.2h-21.8zM461.8 1134.1h21.8v1.7h-21.8zM483.5 1132.5h21.8v1.7h-21.8zM614.2 1126.5h21.8v1.4h-21.8zM788.3 1125.3h21.8v1.2h-21.8zM418.2 1175.4h21.8v1.4h-21.8zM396.5 1204.6h21.8v0.8h-21.8zM418.2 1195.3h21.8v0.8h-21.8zM483.5 1203.7h21.8v1.0h-21.8zM614.2 1196.8h21.8v0.8h-21.8zM635.9 1198.9h21.8v1.0h-21.8zM265.8 1215.8h21.8v1.0h-21.8zM222.3 1266.0h21.8v0.9h-21.8zM440.0 1248.3h21.8v1.0h-21.8zM505.3 1240.3h21.8v1.0h-21.8zM505.3 1263.8h21.8v1.4h-21.8zM331.1 1273.9h21.8v1.4h-21.8zM570.6 1277.2h21.8v1.2h-21.8zM635.9 1277.6h21.8v1.2h-21.8zM810.1 1286.0h21.8v1.0h-21.8zM440.0 1314.2h21.8v0.8h-21.8zM505.3 1304.2h21.8v1.4h-21.8zM548.9 1308.3h21.8v1.4h-21.8zM548.9 1312.6h21.8v1.0h-21.8zM723.0 1317.7h21.8v1.0h-21.8zM766.5 1309.4h21.8v1.4h-21.8zM352.9 1337.8h21.8v1.2h-21.8zM505.3 1337.2h21.8v1.0h-21.8zM592.4 1327.3h21.8v1.4h-21.8zM701.2 1343.9h21.8v1.2h-21.8zM287.6 1374.9h21.8v1.0h-21.8zM331.1 1364.1h21.8v1.7h-21.8zM505.3 1365.2h21.8v1.7h-21.8zM309.4 1384.3h21.8v0.8h-21.8zM418.2 1393.0h21.8v1.4h-21.8zM548.9 1381.9h21.8v1.0h-21.8zM766.5 1399.8h21.8v0.8h-21.8z"/>
<path fill="#fcf0ea" d="M570.6 837.5h21.8v1.2h-21.8zM810.1 853.9h21.8v0.8h-21.8zM831.9 845.7h21.8v1.4h-21.8zM853.6 835.0h21.8v1.7h-21.8zM331.1 904.6h21.8v1.0h-21.8zM592.4 904.7h21.8v1.0h-21.8zM309.4 923.5h21.8v1.0h-21.8zM570.6 949.2h21.8v1.4h-21.8zM592.4 993.9h21.8v0.8h-21.8zM853.6 976.3h21.8v1.2h-21.8zM853.6 1005.5h21.8v0.8h-21.8zM222.3 1075.3h21.8v1.4h-21.8zM723.0 1078.5h21.8v1.4h-21.8zM396.5 1104.2h21.8v1.4h-21.8zM744.8 1108.0h21.8v1.4h-21.8zM570.6 1144.2h21.8v1.7h-21.8zM766.5 1133.9h21.8v1.0h-21.8zM788.3 1134.7h21.8v1.4h-21.8zM244.1 1169.2h21.8v1.7h-21.8zM331.1 1201.0h21.8v1.7h-21.8zM635.9 1230.4h21.8v1.4h-21.8zM374.7 1262.2h21.8v1.0h-21.8zM483.5 1246.6h21.8v1.0h-21.8zM548.9 1248.6h21.8v1.2h-21.8zM744.8 1240.2h21.8v1.0h-21.8zM374.7 1292.1h21.8v1.0h-21.8zM396.5 1288.1h21.8v0.8h-21.8zM331.1 1344.8h21.8v1.0h-21.8zM309.4 1374.8h21.8v1.2h-21.8zM396.5 1384.8h21.8v1.0h-21.8zM483.5 1383.9h21.8v1.7h-21.8z"/>
<path fill="#eaa284" d="M788.3 825.8h21.8v1.0h-21.8zM287.6 899.7h21.8v1.7h-21.8zM614.2 1074.8h21.8v1.7h-21.8z"/>
<path fill="#eaa28a" d="M788.3 831.6h21.8v0.8h-21.8zM679.5 898.0h21.8v1.0h-21.8zM679.5 919.0h21.8v0.8h-21.8zM352.9 1007.5h21.8v1.4h-21.8zM440.0 1040.8h21.8v1.7h-21.8zM592.4 1157.4h21.8v1.7h-21.8zM440.0 1277.3h21.8v1.7h-21.8zM440.0 1291.9h21.8v1.4h-21.8zM701.2 1323.7h21.8v0.6h-21.8zM853.6 1400.5h21.8v1.4h-21.8z"/>
<path fill="#f0ba9c" d="M788.3 832.4h21.8v1.0h-21.8zM461.8 937.1h21.8v1.0h-21.8zM396.5 986.8h21.8v1.0h-21.8zM396.5 1024.4h21.8v1.0h-21.8zM592.4 1162.7h21.8v1.4h-21.8zM592.4 1179.4h21.8v1.0h-21.8zM679.5 1203.0h21.8v1.0h-21.8zM831.9 1201.6h21.8v1.0h-21.8zM592.4 1220.0h21.8v1.4h-21.8zM766.5 1236.5h21.8v0.4h-21.8zM418.2 1370.2h21.8v1.0h-21.8zM440.0 1359.3h21.8v1.0h-21.8zM679.5 1389.2h21.8v1.7h-21.8zM679.5 1398.9h21.8v1.7h-21.8z"/>
<path fill="#eab49c" d="M788.3 839.9h21.8v1.4h-21.8zM788.3 852.4h21.8v1.2h-21.8zM483.5 1081.7h21.8v0.8h-21.8zM570.6 1168.8h21.8v1.2h-21.8zM679.5 1218.3h21.8v1.2h-21.8z"/>
<path fill="#f6e4d8" d="M831.9 847.1h21.8v1.7h-21.8zM265.8 910.5h21.8v1.4h-21.8zM287.6 892.8h21.8v1.2h-21.8zM287.6 911.4h21.8v1.0h-21.8zM352.9 902.2h21.8v0.8h-21.8zM352.9 908.0h21.8v0.8h-21.8zM374.7 899.3h21.8v1.4h-21.8zM461.8 891.7h21.8v0.8h-21.8zM657.7 917.3h21.8v1.0h-21.8zM701.2 924.8h21.8v1.0h-21.8zM701.2 933.5h21.8v1.4h-21.8zM331.1 953.9h21.8v1.2h-21.8zM701.2 966.8h21.8v0.8h-21.8zM331.1 995.9h21.8v1.4h-21.8zM570.6 981.1h21.8v1.7h-21.8zM570.6 999.6h21.8v0.8h-21.8zM853.6 977.5h21.8v1.2h-21.8zM265.8 1028.2h21.8v0.8h-21.8zM374.7 1025.2h21.8v1.0h-21.8zM374.7 1030.3h21.8v1.2h-21.8zM505.3 1012.9h21.8v0.8h-21.8zM831.9 1011.3h21.8v1.4h-21.8zM331.1 1059.7h21.8v0.8h-21.8zM657.7 1035.3h21.8v1.7h-21.8zM853.6 1038.3h21.8v1.4h-21.8zM265.8 1074.9h21.8v1.7h-21.8zM309.4 1067.3h21.8v1.7h-21.8zM396.5 1089.0h21.8v1.4h-21.8zM418.2 1063.8h21.8v1.7h-21.8zM527.1 1080.4h21.8v1.0h-21.8zM548.9 1089.5h21.8v0.8h-21.8zM244.1 1109.4h21.8v1.7h-21.8zM265.8 1097.2h21.8v1.4h-21.8zM309.4 1093.2h21.8v0.8h-21.8zM352.9 1115.3h21.8v1.4h-21.8zM461.8 1096.8h21.8v1.7h-21.8zM527.1 1113.9h21.8v1.4h-21.8zM331.1 1121.7h21.8v1.4h-21.8zM810.1 1136.8h21.8v0.8h-21.8zM287.6 1154.0h21.8v1.0h-21.8zM440.0 1175.3h21.8v1.4h-21.8zM614.2 1158.8h21.8v1.4h-21.8zM657.7 1163.9h21.8v1.2h-21.8zM679.5 1164.1h21.8v1.4h-21.8zM244.1 1199.0h21.8v1.4h-21.8zM331.1 1185.1h21.8v1.2h-21.8zM396.5 1186.4h21.8v0.8h-21.8zM418.2 1183.5h21.8v1.2h-21.8zM418.2 1189.5h21.8v1.0h-21.8zM440.0 1199.1h21.8v1.2h-21.8zM788.3 1189.7h21.8v1.2h-21.8zM222.3 1228.0h21.8v1.0h-21.8zM483.5 1233.2h21.8v1.7h-21.8zM352.9 1256.6h21.8v1.0h-21.8zM657.7 1256.7h21.8v1.2h-21.8zM287.6 1282.6h21.8v1.7h-21.8zM374.7 1286.9h21.8v1.4h-21.8zM570.6 1285.0h21.8v1.0h-21.8zM461.8 1307.8h21.8v1.7h-21.8zM592.4 1303.8h21.8v1.4h-21.8zM766.5 1317.1h21.8v1.0h-21.8zM505.3 1379.3h21.8v1.0h-21.8zM548.9 1371.7h21.8v0.8h-21.8zM265.8 1391.3h21.8v1.4h-21.8z"/>
<path fill="#e4e4e4" d="M244.1 856.8h21.8v1.7h-21.8z"/>
<path fill="#181818" d="M244.1 858.5h21.8v1.2h-21.8z"/>
<path fill="#605a5a" d="M244.1 859.7h21.8v1.2h-21.8zM244.1 868.8h21.8v1.4h-21.8z"/>
<path fill="#c0c0c0" d="M244.1 860.9h21.8v1.0h-21.8z"/>
<path fill="#787272" d="M244.1 861.9h21.8v0.8h-21.8zM244.1 865.6h21.8v1.2h-21.8zM244.1 866.8h21.8v1.0h-21.8zM244.1 1050.2h21.8v1.7h-21.8z"/>
<path fill="#908a8a" d="M244.1 862.7h21.8v1.7h-21.8zM244.1 970.7h21.8v1.2h-21.8zM418.2 1125.1h21.8v1.2h-21.8zM701.2 1234.4h21.8v1.2h-21.8z"/>
<path fill="#847e7e" d="M244.1 864.4h21.8v1.2h-21.8zM244.1 966.1h21.8v1.2h-21.8zM244.1 1362.8h21.8v1.0h-21.8z"/>
<path fill="#dedede" d="M244.1 867.8h21.8v1.0h-21.8z"/>
<path fill="#7e7878" d="M244.1 870.2h21.8v1.7h-21.8zM244.1 879.6h21.8v1.0h-21.8zM244.1 880.6h21.8v1.4h-21.8z"/>
<path fill="#8a7e7e" d="M244.1 871.9h21.8v1.0h-21.8zM331.1 1161.1h21.8v0.8h-21.8z"/>
<path fill="#2a2424" d="M244.1 872.9h21.8v1.4h-21.8z"/>
<path fill="#424242" d="M244.1 874.3h21.8v1.0h-21.8zM244.1 957.7h21.8v1.4h-21.8zM244.1 967.3h21.8v1.0h-21.8z"/>
<path fill="#423c3c" d="M244.1 875.3h21.8v0.8h-21.8z"/>
<path fill="#6c6666" d="M244.1 876.1h21.8v1.0h-21.8z"/>
<path fill="#484242" d="M244.1 877.1h21.8v1.7h-21.8z"/>
<path fill="#5a5454" d="M244.1 878.8h21.8v0.8h-21.8z"/>
<path fill="#ccc6c6" d="M244.1 883.4h21.8v0.8h-21.8z"/>
<path fill="#303030" d="M244.1 884.2h21.8v1.0h-21.8z"/>
<path fill="#cc725a" d="M287.6 872.6h21.8v1.2h-21.8zM331.1 864.2h21.8v1.4h-21.8zM788.3 906.7h21.8v1.2h-21.8zM331.1 933.0h21.8v1.4h-21.8zM352.9 916.3h21.8v1.0h-21.8zM352.9 932.0h21.8v1.0h-21.8zM614.2 994.8h21.8v1.2h-21.8zM352.9 1049.3h21.8v1.7h-21.8zM505.3 1066.5h21.8v0.8h-21.8zM505.3 1084.0h21.8v1.2h-21.8zM635.9 1159.9h21.8v1.2h-21.8zM831.9 1198.7h21.8v1.7h-21.8zM527.1 1258.3h21.8v1.0h-21.8zM810.1 1298.8h21.8v1.7h-21.8zM222.3 1343.2h21.8v1.4h-21.8zM440.0 1340.5h21.8v1.7h-21.8zM810.1 1365.4h21.8v1.4h-21.8zM810.1 1396.2h21.8v1.7h-21.8z"/>
<path fill="#c66c54" d="M287.6 879.4h21.8v1.4h-21.8zM396.5 903.3h21.8v1.2h-21.8zM614.2 976.2h21.8v0.8h-21.8zM614.2 1013.3h21.8v1.0h-21.8zM635.9 1164.5h21.8v0.8h-21.8zM657.7 1204.0h21.8v1.0h-21.8zM570.6 1213.4h21.8v0.8h-21.8zM570.6 1394.3h21.8v0.8h-21.8z"/>
<path fill="#eaae96" d="M287.6 883.7h21.8v1.2h-21.8zM396.5 893.9h21.8v1.7h-21.8zM679.5 935.4h21.8v1.0h-21.8zM440.0 993.4h21.8v1.2h-21.8zM679.5 976.0h21.8v0.8h-21.8zM418.2 1027.1h21.8v1.2h-21.8zM483.5 1097.9h21.8v1.7h-21.8zM505.3 1098.4h21.8v1.4h-21.8zM679.5 1095.1h21.8v0.8h-21.8zM810.1 1353.2h21.8v1.7h-21.8zM440.0 1383.6h21.8v1.2h-21.8zM440.0 1393.2h21.8v0.8h-21.8zM440.0 1404.5h21.8v1.4h-21.8zM505.3 1401.2h21.8v0.8h-21.8z"/>
<path fill="#f6d8c0" d="M309.4 870.8h21.8v1.4h-21.8zM309.4 873.0h21.8v1.7h-21.8zM461.8 917.1h21.8v1.2h-21.8zM505.3 1036.9h21.8v0.8h-21.8zM527.1 1039.0h21.8v1.4h-21.8zM679.5 1062.6h21.8v1.0h-21.8zM527.1 1256.6h21.8v1.7h-21.8z"/>
<path fill="#c06048" d="M331.1 856.8h21.8v1.7h-21.8zM352.9 937.7h21.8v0.8h-21.8zM418.2 934.2h21.8v0.8h-21.8zM352.9 962.5h21.8v0.8h-21.8zM352.9 976.4h21.8v1.7h-21.8zM352.9 1016.6h21.8v0.8h-21.8zM418.2 1038.9h21.8v1.4h-21.8zM418.2 1045.6h21.8v1.2h-21.8zM418.2 1055.8h21.8v1.4h-21.8zM505.3 1064.8h21.8v1.7h-21.8zM635.9 1154.6h21.8v0.8h-21.8zM635.9 1171.9h21.8v1.7h-21.8zM657.7 1201.6h21.8v1.4h-21.8zM418.2 1221.7h21.8v0.8h-21.8zM440.0 1242.7h21.8v1.2h-21.8zM440.0 1252.0h21.8v1.0h-21.8zM527.1 1252.7h21.8v1.7h-21.8zM440.0 1279.0h21.8v1.7h-21.8zM440.0 1283.3h21.8v1.7h-21.8zM440.0 1308.6h21.8v1.4h-21.8zM810.1 1341.0h21.8v1.2h-21.8zM810.1 1392.2h21.8v0.8h-21.8z"/>
<path fill="#5a241e" d="M331.1 860.5h21.8v1.0h-21.8zM331.1 876.8h21.8v1.7h-21.8zM418.2 979.7h21.8v1.2h-21.8zM418.2 1002.8h21.8v1.4h-21.8zM461.8 1033.1h21.8v1.4h-21.8zM461.8 1052.5h21.8v1.2h-21.8zM723.0 1281.4h21.8v1.0h-21.8zM570.6 1301.5h21.8v0.8h-21.8zM570.6 1323.7h21.8v0.6h-21.8zM788.3 1300.7h21.8v1.4h-21.8zM810.1 1326.7h21.8v0.8h-21.8zM810.1 1379.5h21.8v0.8h-21.8z"/>
<path fill="#662a1e" d="M331.1 861.5h21.8v1.7h-21.8zM418.2 978.0h21.8v1.7h-21.8zM461.8 1049.3h21.8v0.8h-21.8zM679.5 1242.2h21.8v1.7h-21.8zM679.5 1249.2h21.8v1.7h-21.8zM679.5 1256.5h21.8v1.0h-21.8zM723.0 1276.9h21.8v1.7h-21.8zM723.0 1285.5h21.8v1.0h-21.8zM788.3 1310.2h21.8v1.7h-21.8zM788.3 1321.9h21.8v1.0h-21.8zM570.6 1338.8h21.8v1.0h-21.8zM810.1 1330.8h21.8v1.4h-21.8zM810.1 1339.6h21.8v1.4h-21.8zM831.9 1339.4h21.8v1.2h-21.8zM810.1 1357.1h21.8v1.0h-21.8z"/>
<path fill="#a24e36" d="M331.1 865.6h21.8v0.8h-21.8zM331.1 918.5h21.8v1.7h-21.8zM331.1 928.3h21.8v0.8h-21.8zM418.2 950.0h21.8v1.2h-21.8zM352.9 975.2h21.8v1.2h-21.8zM352.9 995.5h21.8v1.7h-21.8zM352.9 1033.1h21.8v1.7h-21.8zM635.9 1167.7h21.8v0.8h-21.8zM614.2 1209.2h21.8v1.2h-21.8zM527.1 1263.2h21.8v0.8h-21.8zM788.3 1302.9h21.8v1.2h-21.8zM810.1 1329.2h21.8v0.8h-21.8zM810.1 1335.9h21.8v1.7h-21.8zM810.1 1337.6h21.8v1.0h-21.8zM831.9 1336.4h21.8v0.8h-21.8zM570.6 1383.6h21.8v1.4h-21.8zM810.1 1387.7h21.8v1.7h-21.8z"/>
<path fill="#8a3c2a" d="M331.1 866.4h21.8v1.2h-21.8zM331.1 871.9h21.8v1.4h-21.8zM244.1 901.0h21.8v1.0h-21.8zM244.1 906.7h21.8v1.4h-21.8zM418.2 921.6h21.8v1.7h-21.8zM396.5 959.1h21.8v1.0h-21.8zM352.9 1036.0h21.8v1.2h-21.8zM461.8 1051.3h21.8v1.2h-21.8zM657.7 1198.2h21.8v0.8h-21.8zM418.2 1225.9h21.8v1.0h-21.8zM527.1 1239.9h21.8v1.7h-21.8zM527.1 1259.3h21.8v1.4h-21.8zM701.2 1303.3h21.8v1.2h-21.8zM570.6 1347.1h21.8v1.2h-21.8zM831.9 1328.6h21.8v0.8h-21.8zM810.1 1372.0h21.8v1.0h-21.8zM570.6 1386.4h21.8v1.2h-21.8zM570.6 1406.9h21.8v1.0h-21.8z"/>
<path fill="#542418" d="M331.1 869.0h21.8v1.2h-21.8zM331.1 875.0h21.8v1.0h-21.8zM418.2 943.7h21.8v0.5h-21.8zM418.2 985.8h21.8v1.0h-21.8zM418.2 1006.0h21.8v1.0h-21.8zM418.2 1010.2h21.8v1.4h-21.8zM679.5 1246.5h21.8v1.0h-21.8zM723.0 1275.9h21.8v1.0h-21.8zM570.6 1306.8h21.8v1.0h-21.8zM570.6 1307.8h21.8v1.7h-21.8zM570.6 1311.2h21.8v1.7h-21.8zM570.6 1314.1h21.8v1.7h-21.8zM788.3 1314.1h21.8v0.8h-21.8zM788.3 1317.3h21.8v0.8h-21.8zM810.1 1344.0h21.8v1.4h-21.8zM570.6 1357.2h21.8v0.8h-21.8z"/>
<path fill="#de8a66" d="M331.1 876.0h21.8v0.8h-21.8zM352.9 939.9h21.8v1.2h-21.8zM505.3 1079.9h21.8v1.2h-21.8zM440.0 1258.3h21.8v1.2h-21.8z"/>
<path fill="#903c30" d="M331.1 882.4h21.8v1.4h-21.8zM461.8 1037.3h21.8v1.7h-21.8z"/>
<path fill="#a8543c" d="M352.9 856.8h21.8v1.2h-21.8zM331.1 940.7h21.8v1.7h-21.8zM635.9 1168.5h21.8v1.0h-21.8zM810.1 1394.0h21.8v0.8h-21.8z"/>
<path fill="#eab496" d="M396.5 874.5h21.8v0.8h-21.8zM287.6 886.8h21.8v0.8h-21.8zM287.6 909.0h21.8v1.4h-21.8zM396.5 895.6h21.8v1.0h-21.8zM396.5 904.5h21.8v1.2h-21.8zM461.8 939.3h21.8v1.2h-21.8zM527.1 931.8h21.8v1.4h-21.8zM222.3 968.2h21.8v1.4h-21.8zM440.0 990.8h21.8v1.2h-21.8zM483.5 1069.2h21.8v1.0h-21.8zM483.5 1112.7h21.8v1.7h-21.8zM679.5 1106.5h21.8v1.0h-21.8zM766.5 1321.6h21.8v1.4h-21.8zM810.1 1310.2h21.8v1.0h-21.8zM440.0 1329.1h21.8v1.7h-21.8zM440.0 1338.3h21.8v1.4h-21.8zM505.3 1397.4h21.8v1.0h-21.8zM679.5 1397.5h21.8v1.4h-21.8z"/>
<path fill="#eaa890" d="M396.5 880.0h21.8v1.4h-21.8zM396.5 907.9h21.8v1.4h-21.8zM788.3 905.0h21.8v1.7h-21.8zM440.0 1005.2h21.8v1.0h-21.8zM440.0 1020.9h21.8v1.2h-21.8zM679.5 1030.7h21.8v0.8h-21.8zM440.0 1057.5h21.8v1.7h-21.8zM810.1 1320.4h21.8v1.2h-21.8zM440.0 1381.9h21.8v1.7h-21.8z"/>
<path fill="#6c3024" d="M418.2 879.2h21.8v1.2h-21.8zM396.5 953.3h21.8v1.7h-21.8zM352.9 1041.5h21.8v1.2h-21.8z"/>
<path fill="#481e18" d="M418.2 882.1h21.8v0.8h-21.8zM461.8 1045.2h21.8v1.2h-21.8zM461.8 1047.6h21.8v1.7h-21.8zM527.1 1125.4h21.8v1.0h-21.8zM657.7 1197.2h21.8v1.0h-21.8zM679.5 1240.2h21.8v1.2h-21.8zM723.0 1284.1h21.8v1.4h-21.8zM788.3 1292.6h21.8v0.7h-21.8zM701.2 1299.1h21.8v1.4h-21.8zM701.2 1311.2h21.8v1.4h-21.8zM701.2 1322.3h21.8v1.4h-21.8zM788.3 1307.3h21.8v1.2h-21.8z"/>
<path fill="#d88466" d="M679.5 871.8h21.8v0.8h-21.8zM396.5 898.8h21.8v1.7h-21.8zM331.1 926.3h21.8v0.8h-21.8zM352.9 925.5h21.8v1.2h-21.8zM352.9 926.7h21.8v1.7h-21.8zM614.2 989.8h21.8v1.4h-21.8zM352.9 1024.7h21.8v0.8h-21.8zM483.5 1118.6h21.8v1.4h-21.8zM592.4 1161.3h21.8v1.4h-21.8zM635.9 1151.8h21.8v1.4h-21.8zM570.6 1187.5h21.8v1.2h-21.8zM679.5 1247.5h21.8v1.7h-21.8zM570.6 1282.6h21.8v1.0h-21.8zM440.0 1297.6h21.8v1.0h-21.8zM440.0 1304.7h21.8v1.7h-21.8zM440.0 1316.7h21.8v0.8h-21.8zM570.6 1378.4h21.8v1.2h-21.8zM810.1 1400.5h21.8v0.8h-21.8z"/>
<path fill="#3c1812" d="M244.1 888.2h21.8v1.7h-21.8zM244.1 895.0h21.8v1.2h-21.8zM244.1 903.0h21.8v1.7h-21.8zM418.2 990.8h21.8v0.8h-21.8zM418.2 1023.4h21.8v0.8h-21.8zM461.8 1035.9h21.8v1.4h-21.8zM461.8 1058.5h21.8v1.0h-21.8zM527.1 1129.9h21.8v0.8h-21.8zM527.1 1138.3h21.8v1.0h-21.8zM527.1 1147.6h21.8v1.4h-21.8zM570.6 1195.3h21.8v1.0h-21.8zM657.7 1207.2h21.8v0.4h-21.8zM418.2 1234.0h21.8v1.0h-21.8zM614.2 1227.5h21.8v1.4h-21.8zM614.2 1233.4h21.8v1.7h-21.8zM679.5 1260.3h21.8v1.0h-21.8zM679.5 1263.0h21.8v1.0h-21.8zM679.5 1264.0h21.8v1.7h-21.8zM723.0 1288.7h21.8v1.0h-21.8zM788.3 1276.1h21.8v1.0h-21.8zM788.3 1280.7h21.8v1.2h-21.8zM788.3 1285.7h21.8v1.2h-21.8zM788.3 1288.1h21.8v1.0h-21.8zM570.6 1305.4h21.8v1.4h-21.8zM570.6 1319.6h21.8v0.8h-21.8zM701.2 1314.8h21.8v1.4h-21.8z"/>
<path fill="#361812" d="M244.1 889.9h21.8v1.2h-21.8zM244.1 898.8h21.8v1.4h-21.8zM244.1 904.7h21.8v0.8h-21.8zM396.5 965.7h21.8v0.8h-21.8zM527.1 1128.2h21.8v1.7h-21.8zM570.6 1151.4h21.8v1.0h-21.8zM570.6 1155.5h21.8v1.2h-21.8zM570.6 1174.6h21.8v1.7h-21.8zM570.6 1183.8h21.8v1.0h-21.8zM570.6 1191.7h21.8v1.0h-21.8zM570.6 1197.5h21.8v1.4h-21.8zM657.7 1182.1h21.8v1.2h-21.8zM418.2 1227.7h21.8v1.4h-21.8zM614.2 1219.1h21.8v1.4h-21.8zM679.5 1250.9h21.8v1.7h-21.8zM701.2 1284.9h21.8v0.8h-21.8zM723.0 1271.1h21.8v1.4h-21.8zM788.3 1279.9h21.8v0.8h-21.8zM701.2 1305.5h21.8v1.0h-21.8zM701.2 1313.8h21.8v1.0h-21.8zM701.2 1318.6h21.8v0.8h-21.8zM788.3 1297.3h21.8v1.4h-21.8zM570.6 1344.0h21.8v1.7h-21.8zM570.6 1350.0h21.8v1.0h-21.8zM570.6 1369.6h21.8v0.8h-21.8z"/>
<path fill="#421e18" d="M244.1 891.1h21.8v0.8h-21.8zM244.1 908.1h21.8v1.2h-21.8zM461.8 1054.5h21.8v1.4h-21.8zM570.6 1150.6h21.8v0.8h-21.8zM570.6 1185.8h21.8v1.7h-21.8zM614.2 1214.0h21.8v1.7h-21.8zM723.0 1292.3h21.8v1.0h-21.8zM570.6 1298.0h21.8v0.8h-21.8zM701.2 1316.2h21.8v1.4h-21.8zM788.3 1296.3h21.8v1.0h-21.8zM810.1 1364.0h21.8v1.4h-21.8z"/>
<path fill="#120c06" d="M244.1 891.9h21.8v1.4h-21.8zM244.1 896.2h21.8v1.2h-21.8zM244.1 912.5h21.8v1.0h-21.8zM570.6 1166.2h21.8v1.4h-21.8zM570.6 1167.6h21.8v1.2h-21.8zM570.6 1170.0h21.8v1.2h-21.8zM570.6 1172.4h21.8v1.0h-21.8zM701.2 1276.5h21.8v0.8h-21.8zM701.2 1278.3h21.8v1.7h-21.8zM701.2 1281.4h21.8v0.8h-21.8zM701.2 1282.2h21.8v1.0h-21.8zM701.2 1290.1h21.8v1.4h-21.8zM701.2 1309.2h21.8v1.0h-21.8zM701.2 1310.2h21.8v1.0h-21.8zM570.6 1330.5h21.8v0.8h-21.8zM570.6 1331.3h21.8v1.4h-21.8zM570.6 1333.9h21.8v1.2h-21.8z"/>
<path fill="#180c0c" d="M244.1 893.3h21.8v1.7h-21.8zM244.1 897.4h21.8v1.4h-21.8zM244.1 913.5h21.8v1.0h-21.8zM418.2 982.9h21.8v1.2h-21.8zM418.2 986.8h21.8v1.2h-21.8zM418.2 988.0h21.8v0.8h-21.8zM418.2 993.0h21.8v1.2h-21.8zM527.1 1124.4h21.8v1.0h-21.8zM527.1 1133.6h21.8v1.0h-21.8zM570.6 1162.3h21.8v0.8h-21.8zM570.6 1164.8h21.8v1.4h-21.8zM570.6 1176.3h21.8v1.4h-21.8zM570.6 1179.4h21.8v1.2h-21.8zM570.6 1183.0h21.8v0.8h-21.8zM570.6 1199.7h21.8v1.7h-21.8zM614.2 1228.9h21.8v0.8h-21.8zM614.2 1229.7h21.8v1.7h-21.8zM701.2 1269.5h21.8v1.4h-21.8zM701.2 1270.9h21.8v0.8h-21.8zM701.2 1273.9h21.8v1.2h-21.8zM701.2 1280.0h21.8v1.4h-21.8zM701.2 1301.5h21.8v1.0h-21.8zM701.2 1307.5h21.8v1.7h-21.8zM701.2 1319.4h21.8v1.2h-21.8zM570.6 1336.8h21.8v1.0h-21.8zM570.6 1337.8h21.8v1.0h-21.8zM570.6 1345.7h21.8v1.4h-21.8zM570.6 1353.2h21.8v0.8h-21.8zM570.6 1364.6h21.8v1.4h-21.8zM570.6 1366.0h21.8v1.4h-21.8zM570.6 1370.4h21.8v1.4h-21.8zM570.6 1371.8h21.8v1.0h-21.8zM570.6 1377.2h21.8v1.2h-21.8z"/>
<path fill="#1e120c" d="M244.1 900.2h21.8v0.8h-21.8zM418.2 988.8h21.8v1.2h-21.8zM418.2 1000.0h21.8v1.2h-21.8zM418.2 1007.0h21.8v1.0h-21.8zM527.1 1126.4h21.8v1.0h-21.8zM527.1 1127.4h21.8v0.8h-21.8zM527.1 1141.7h21.8v1.4h-21.8zM570.6 1154.1h21.8v1.4h-21.8zM570.6 1156.7h21.8v1.2h-21.8zM570.6 1159.1h21.8v0.8h-21.8zM570.6 1159.9h21.8v1.0h-21.8zM570.6 1173.4h21.8v1.2h-21.8zM570.6 1181.8h21.8v1.2h-21.8zM570.6 1189.5h21.8v1.0h-21.8zM570.6 1198.9h21.8v0.8h-21.8zM570.6 1201.4h21.8v0.8h-21.8zM570.6 1203.9h21.8v0.8h-21.8zM570.6 1205.5h21.8v0.8h-21.8zM614.2 1222.5h21.8v0.8h-21.8zM614.2 1224.1h21.8v1.2h-21.8zM614.2 1232.6h21.8v0.8h-21.8zM679.5 1261.3h21.8v1.7h-21.8zM701.2 1268.5h21.8v1.0h-21.8zM701.2 1272.5h21.8v1.4h-21.8zM701.2 1286.9h21.8v1.2h-21.8zM723.0 1278.6h21.8v0.8h-21.8zM723.0 1290.9h21.8v1.4h-21.8zM788.3 1268.5h21.8v1.2h-21.8zM788.3 1269.7h21.8v1.7h-21.8zM788.3 1273.6h21.8v1.7h-21.8zM788.3 1275.3h21.8v0.8h-21.8zM788.3 1284.7h21.8v1.0h-21.8zM788.3 1286.9h21.8v1.2h-21.8zM788.3 1289.9h21.8v1.7h-21.8zM570.6 1303.7h21.8v1.7h-21.8zM701.2 1297.3h21.8v0.8h-21.8zM701.2 1298.1h21.8v1.0h-21.8zM701.2 1302.5h21.8v0.8h-21.8zM701.2 1304.5h21.8v1.0h-21.8zM701.2 1306.5h21.8v1.0h-21.8zM701.2 1317.6h21.8v1.0h-21.8zM788.3 1305.3h21.8v1.0h-21.8zM788.3 1306.3h21.8v1.0h-21.8zM788.3 1314.9h21.8v1.4h-21.8zM570.6 1327.5h21.8v1.0h-21.8zM570.6 1342.8h21.8v1.2h-21.8zM570.6 1354.0h21.8v1.4h-21.8zM570.6 1358.8h21.8v1.7h-21.8z"/>
<path fill="#24120c" d="M244.1 902.0h21.8v1.0h-21.8zM244.1 905.5h21.8v1.2h-21.8zM244.1 911.5h21.8v1.0h-21.8zM396.5 963.1h21.8v1.2h-21.8zM396.5 970.1h21.8v1.4h-21.8zM418.2 1008.0h21.8v1.4h-21.8zM418.2 1028.3h21.8v1.7h-21.8zM527.1 1132.4h21.8v1.2h-21.8zM527.1 1139.3h21.8v1.4h-21.8zM570.6 1163.1h21.8v1.7h-21.8zM570.6 1188.7h21.8v0.8h-21.8zM614.2 1210.4h21.8v1.0h-21.8zM679.5 1238.5h21.8v1.7h-21.8zM679.5 1255.5h21.8v1.0h-21.8zM701.2 1288.9h21.8v1.2h-21.8zM723.0 1269.7h21.8v1.4h-21.8zM723.0 1279.4h21.8v1.2h-21.8zM570.6 1302.3h21.8v1.4h-21.8zM570.6 1315.8h21.8v1.4h-21.8zM788.3 1316.3h21.8v1.0h-21.8zM788.3 1319.1h21.8v1.4h-21.8zM570.6 1325.9h21.8v0.8h-21.8zM570.6 1332.7h21.8v1.2h-21.8zM570.6 1341.0h21.8v1.0h-21.8zM570.6 1342.0h21.8v0.8h-21.8zM570.6 1355.4h21.8v1.0h-21.8zM570.6 1367.4h21.8v0.8h-21.8zM570.6 1372.8h21.8v1.0h-21.8zM570.6 1373.8h21.8v1.7h-21.8z"/>
<path fill="#301812" d="M244.1 909.3h21.8v1.4h-21.8zM396.5 964.3h21.8v1.4h-21.8zM418.2 1024.2h21.8v1.7h-21.8zM461.8 1060.5h21.8v0.5h-21.8zM527.1 1123.4h21.8v1.0h-21.8zM527.1 1143.1h21.8v1.7h-21.8zM570.6 1160.9h21.8v1.4h-21.8zM570.6 1171.2h21.8v1.2h-21.8zM570.6 1184.8h21.8v1.0h-21.8zM570.6 1190.5h21.8v1.2h-21.8zM570.6 1204.7h21.8v0.8h-21.8zM570.6 1206.3h21.8v1.2h-21.8zM657.7 1181.1h21.8v1.0h-21.8zM657.7 1195.5h21.8v1.7h-21.8zM418.2 1210.2h21.8v0.8h-21.8zM614.2 1225.3h21.8v1.4h-21.8zM614.2 1231.4h21.8v1.2h-21.8zM679.5 1245.3h21.8v1.2h-21.8zM723.0 1268.5h21.8v1.2h-21.8zM723.0 1280.6h21.8v0.8h-21.8zM701.2 1294.9h21.8v1.0h-21.8zM788.3 1308.5h21.8v1.7h-21.8zM788.3 1318.1h21.8v1.0h-21.8zM570.6 1339.8h21.8v1.2h-21.8zM570.6 1351.0h21.8v0.6h-21.8zM810.1 1327.5h21.8v1.7h-21.8zM810.1 1346.2h21.8v1.0h-21.8zM570.6 1356.4h21.8v0.8h-21.8zM570.6 1363.4h21.8v1.2h-21.8z"/>
<path fill="#18120c" d="M244.1 910.7h21.8v0.8h-21.8zM418.2 975.0h21.8v0.8h-21.8zM418.2 975.8h21.8v1.4h-21.8zM418.2 997.3h21.8v1.0h-21.8zM701.2 1277.3h21.8v1.0h-21.8zM701.2 1300.5h21.8v1.0h-21.8z"/>
<path fill="#e49678" d="M287.6 891.6h21.8v1.2h-21.8zM287.6 912.4h21.8v1.4h-21.8zM679.5 909.3h21.8v1.4h-21.8zM679.5 911.5h21.8v1.0h-21.8zM788.3 913.1h21.8v0.8h-21.8zM331.1 937.6h21.8v1.4h-21.8zM352.9 953.5h21.8v1.0h-21.8zM352.9 979.3h21.8v1.4h-21.8zM352.9 984.5h21.8v1.4h-21.8zM679.5 974.8h21.8v1.2h-21.8zM679.5 986.1h21.8v1.7h-21.8zM614.2 1004.5h21.8v1.0h-21.8zM614.2 1018.4h21.8v1.0h-21.8zM679.5 1019.0h21.8v1.0h-21.8zM418.2 1034.9h21.8v0.8h-21.8zM418.2 1035.7h21.8v0.8h-21.8zM418.2 1036.5h21.8v1.0h-21.8zM418.2 1040.3h21.8v1.0h-21.8zM614.2 1066.9h21.8v1.4h-21.8zM614.2 1079.0h21.8v1.2h-21.8zM614.2 1087.3h21.8v1.4h-21.8zM505.3 1110.8h21.8v1.0h-21.8zM614.2 1114.1h21.8v0.8h-21.8zM635.9 1157.9h21.8v1.2h-21.8zM570.6 1193.9h21.8v1.4h-21.8zM831.9 1193.9h21.8v1.7h-21.8zM570.6 1227.3h21.8v1.0h-21.8zM614.2 1226.7h21.8v0.8h-21.8zM440.0 1257.1h21.8v1.2h-21.8zM570.6 1271.0h21.8v1.0h-21.8zM570.6 1281.6h21.8v1.0h-21.8zM570.6 1299.8h21.8v1.7h-21.8zM766.5 1319.8h21.8v0.8h-21.8zM701.2 1367.1h21.8v1.2h-21.8zM701.2 1370.5h21.8v1.2h-21.8zM831.9 1367.0h21.8v1.0h-21.8zM570.6 1405.7h21.8v1.2h-21.8zM810.1 1404.5h21.8v1.2h-21.8z"/>
<path fill="#fce4d8" d="M635.9 903.6h21.8v0.8h-21.8zM331.1 967.6h21.8v1.7h-21.8zM265.8 978.4h21.8v1.0h-21.8zM527.1 1062.6h21.8v0.8h-21.8zM418.2 1114.6h21.8v1.0h-21.8zM657.7 1098.4h21.8v1.0h-21.8zM331.1 1135.4h21.8v1.7h-21.8zM592.4 1127.3h21.8v1.4h-21.8zM483.5 1169.0h21.8v1.7h-21.8zM548.9 1186.1h21.8v1.7h-21.8zM548.9 1268.5h21.8v1.4h-21.8zM244.1 1305.3h21.8v0.8h-21.8zM374.7 1331.4h21.8v0.8h-21.8zM723.0 1333.1h21.8v1.7h-21.8z"/>
<path fill="#de906c" d="M788.3 900.3h21.8v1.7h-21.8zM440.0 1294.9h21.8v1.7h-21.8zM788.3 1358.1h21.8v0.8h-21.8z"/>
<path fill="#c6c0c0" d="M222.3 919.5h21.8v1.2h-21.8z"/>
<path fill="#bab4b4" d="M222.3 930.6h21.8v1.2h-21.8zM701.2 1189.9h21.8v1.4h-21.8zM701.2 1225.5h21.8v0.8h-21.8zM244.1 1353.2h21.8v1.4h-21.8zM244.1 1354.6h21.8v0.8h-21.8z"/>
<path fill="#d8d8d8" d="M222.3 934.9h21.8v1.2h-21.8z"/>
<path fill="#b4aeae" d="M222.3 938.8h21.8v0.8h-21.8zM244.1 1041.6h21.8v1.7h-21.8zM244.1 1379.4h21.8v0.8h-21.8z"/>
<path fill="#d2725a" d="M331.1 942.4h21.8v1.7h-21.8zM440.0 1247.3h21.8v1.0h-21.8z"/>
<path fill="#ae5442" d="M352.9 919.7h21.8v1.7h-21.8zM831.9 1343.0h21.8v1.4h-21.8zM810.1 1403.3h21.8v1.2h-21.8z"/>
<path fill="#964830" d="M418.2 919.4h21.8v1.0h-21.8zM418.2 990.0h21.8v0.8h-21.8zM418.2 1211.0h21.8v1.7h-21.8zM570.6 1210.4h21.8v1.2h-21.8zM570.6 1389.8h21.8v0.8h-21.8zM810.1 1385.7h21.8v1.2h-21.8z"/>
<path fill="#602a1e" d="M418.2 931.8h21.8v1.0h-21.8zM396.5 960.1h21.8v0.8h-21.8zM396.5 969.3h21.8v0.8h-21.8zM418.2 1223.5h21.8v1.4h-21.8zM418.2 1235.0h21.8v1.0h-21.8zM679.5 1252.6h21.8v1.2h-21.8zM679.5 1253.8h21.8v1.7h-21.8zM679.5 1257.5h21.8v0.8h-21.8zM679.5 1265.7h21.8v1.2h-21.8zM788.3 1299.7h21.8v1.0h-21.8zM810.1 1343.2h21.8v0.8h-21.8zM810.1 1345.4h21.8v0.8h-21.8zM810.1 1377.1h21.8v1.0h-21.8z"/>
<path fill="#e49c84" d="M461.8 935.7h21.8v1.4h-21.8zM614.2 1023.8h21.8v0.8h-21.8zM440.0 1282.1h21.8v1.2h-21.8zM570.6 1290.6h21.8v0.8h-21.8zM679.5 1370.9h21.8v1.0h-21.8zM440.0 1384.8h21.8v0.8h-21.8z"/>
<path fill="#908484" d="M244.1 953.6h21.8v1.0h-21.8zM244.1 1037.5h21.8v1.7h-21.8z"/>
<path fill="#847878" d="M244.1 954.6h21.8v1.7h-21.8zM701.2 1387.6h21.8v1.2h-21.8z"/>
<path fill="#969090" d="M244.1 959.1h21.8v1.7h-21.8zM744.8 1294.9h21.8v1.4h-21.8zM244.1 1363.8h21.8v1.2h-21.8zM701.2 1404.5h21.8v1.0h-21.8z"/>
<path fill="#726c6c" d="M244.1 968.3h21.8v1.2h-21.8zM701.2 1206.5h21.8v1.1h-21.8zM744.8 1299.5h21.8v1.7h-21.8zM701.2 1390.8h21.8v1.0h-21.8z"/>
<path fill="#aea8a8" d="M244.1 969.5h21.8v1.2h-21.8zM701.2 1202.0h21.8v1.4h-21.8zM701.2 1215.2h21.8v1.2h-21.8zM744.8 1306.9h21.8v1.4h-21.8z"/>
<path fill="#a24836" d="M352.9 966.4h21.8v1.4h-21.8zM396.5 961.7h21.8v1.4h-21.8zM352.9 1055.4h21.8v1.7h-21.8zM570.6 1400.8h21.8v1.2h-21.8z"/>
<path fill="#2a120c" d="M396.5 950.7h21.8v1.2h-21.8zM461.8 1042.1h21.8v1.4h-21.8zM527.1 1121.7h21.8v1.7h-21.8zM657.7 1190.2h21.8v1.2h-21.8zM614.2 1215.7h21.8v1.7h-21.8zM614.2 1217.4h21.8v1.7h-21.8zM570.6 1296.6h21.8v1.4h-21.8zM788.3 1313.1h21.8v1.0h-21.8z"/>
<path fill="#ba6042" d="M396.5 956.2h21.8v1.2h-21.8zM505.3 1069.7h21.8v1.7h-21.8zM505.3 1087.6h21.8v1.2h-21.8zM505.3 1118.4h21.8v1.0h-21.8zM440.0 1253.0h21.8v1.7h-21.8z"/>
<path fill="#6c301e" d="M396.5 957.4h21.8v1.7h-21.8zM418.2 1014.4h21.8v1.7h-21.8zM788.3 1278.5h21.8v1.4h-21.8zM810.1 1333.9h21.8v1.2h-21.8zM570.6 1361.7h21.8v1.7h-21.8zM810.1 1373.0h21.8v1.0h-21.8z"/>
<path fill="#2a1812" d="M396.5 971.5h21.8v0.7h-21.8zM461.8 1046.4h21.8v1.2h-21.8zM461.8 1050.1h21.8v1.2h-21.8zM527.1 1146.2h21.8v1.4h-21.8zM701.2 1288.1h21.8v0.8h-21.8zM570.6 1328.5h21.8v1.2h-21.8zM810.1 1338.6h21.8v1.0h-21.8z"/>
<path fill="#9c4830" d="M352.9 983.5h21.8v1.0h-21.8zM831.9 1325.9h21.8v1.7h-21.8z"/>
<path fill="#4e2418" d="M418.2 977.2h21.8v0.8h-21.8zM418.2 1222.5h21.8v1.0h-21.8zM614.2 1211.4h21.8v1.2h-21.8zM679.5 1241.4h21.8v0.8h-21.8zM701.2 1295.9h21.8v1.4h-21.8z"/>
<path fill="#3c1e12" d="M418.2 984.1h21.8v1.7h-21.8zM527.1 1130.7h21.8v1.7h-21.8zM527.1 1140.7h21.8v1.0h-21.8zM570.6 1157.9h21.8v1.2h-21.8zM614.2 1212.6h21.8v1.4h-21.8zM788.3 1291.6h21.8v1.0h-21.8z"/>
<path fill="#2a1212" d="M418.2 991.6h21.8v1.4h-21.8zM527.1 1135.8h21.8v1.7h-21.8zM418.2 1209.2h21.8v1.0h-21.8zM614.2 1235.1h21.8v0.8h-21.8zM701.2 1271.7h21.8v0.8h-21.8zM701.2 1275.1h21.8v1.4h-21.8zM570.6 1318.4h21.8v1.2h-21.8z"/>
<path fill="#ba5a42" d="M614.2 991.2h21.8v1.2h-21.8zM614.2 998.9h21.8v1.4h-21.8zM810.1 1390.8h21.8v1.4h-21.8z"/>
<path fill="#f0c0a2" d="M788.3 979.8h21.8v1.2h-21.8zM614.2 1114.9h21.8v1.2h-21.8z"/>
<path fill="#6c2a1e" d="M418.2 1005.2h21.8v0.8h-21.8zM723.0 1282.4h21.8v1.7h-21.8z"/>
<path fill="#421e12" d="M418.2 1009.4h21.8v0.8h-21.8zM657.7 1205.8h21.8v1.4h-21.8zM679.5 1259.1h21.8v1.2h-21.8zM570.6 1309.5h21.8v1.7h-21.8zM570.6 1368.2h21.8v1.4h-21.8zM810.1 1354.9h21.8v1.4h-21.8z"/>
<path fill="#4e1e18" d="M418.2 1011.6h21.8v1.4h-21.8zM461.8 1034.5h21.8v1.4h-21.8zM570.6 1180.6h21.8v1.2h-21.8zM570.6 1192.7h21.8v1.2h-21.8zM570.6 1202.2h21.8v1.7h-21.8zM788.3 1272.8h21.8v0.8h-21.8zM788.3 1283.9h21.8v0.8h-21.8z"/>
<path fill="#d88460" d="M352.9 1034.8h21.8v1.2h-21.8zM483.5 1110.7h21.8v1.0h-21.8zM592.4 1154.8h21.8v1.2h-21.8z"/>
<path fill="#783024" d="M352.9 1046.1h21.8v1.0h-21.8zM352.9 1051.8h21.8v1.4h-21.8zM461.8 1059.5h21.8v1.0h-21.8zM570.6 1294.9h21.8v1.7h-21.8zM570.6 1312.9h21.8v1.2h-21.8z"/>
<path fill="#de9078" d="M483.5 1104.2h21.8v0.8h-21.8z"/>
<path fill="#120c0c" d="M527.1 1134.6h21.8v1.2h-21.8zM527.1 1144.8h21.8v1.4h-21.8zM570.6 1152.4h21.8v1.7h-21.8zM614.2 1235.9h21.8v1.0h-21.8zM570.6 1326.7h21.8v0.8h-21.8zM570.6 1348.3h21.8v1.7h-21.8z"/>
<path fill="#e4967e" d="M592.4 1166.7h21.8v0.8h-21.8z"/>
<path fill="#c0baba" d="M701.2 1196.5h21.8v1.4h-21.8z"/>
<path fill="#783624" d="M418.2 1216.4h21.8v1.0h-21.8zM679.5 1258.3h21.8v0.8h-21.8zM810.1 1347.2h21.8v1.0h-21.8z"/>
<path fill="#f0c0ae" d="M440.0 1223.7h21.8v1.7h-21.8zM440.0 1366.3h21.8v0.8h-21.8z"/>
<path fill="#ae5a42" d="M570.6 1217.7h21.8v0.8h-21.8z"/>
<path fill="#d27860" d="M570.6 1218.5h21.8v0.8h-21.8zM701.2 1360.3h21.8v1.4h-21.8z"/>
<path fill="#bababa" d="M701.2 1224.5h21.8v1.0h-21.8zM701.2 1228.8h21.8v1.0h-21.8z"/>
<path fill="#903c2a" d="M418.2 1253.0h21.8v1.2h-21.8zM831.9 1332.1h21.8v1.7h-21.8zM831.9 1348.9h21.8v1.2h-21.8z"/>
<path fill="#5a2a1e" d="M788.3 1289.1h21.8v0.8h-21.8zM788.3 1304.1h21.8v1.2h-21.8zM810.1 1360.6h21.8v1.4h-21.8z"/>
<path fill="#a8a2a2" d="M744.8 1315.9h21.8v1.7h-21.8z"/>
<path fill="#84362a" d="M831.9 1350.1h21.8v0.8h-21.8zM570.6 1399.1h21.8v1.7h-21.8zM810.1 1402.5h21.8v0.8h-21.8z"/>
<path fill="#a29c9c" d="M701.2 1394.3h21.8v1.4h-21.8z"/>
<line x1="222.3" y1="856" x2="875.4" y2="856" stroke="#e0e0e0" stroke-width="1.3"/>
<line x1="222.3" y1="886" x2="875.4" y2="886" stroke="#e0e0e0" stroke-width="1.3"/>
<line x1="222.3" y1="915.5" x2="875.4" y2="915.5" stroke="#e0e0e0" stroke-width="1.3"/>
<line x1="222.3" y1="945" x2="875.4" y2="945" stroke="#e0e0e0" stroke-width="1.3"/>
<line x1="222.3" y1="973" x2="875.4" y2="973" stroke="#e0e0e0" stroke-width="1.3"/>
<line x1="222.3" y1="1002" x2="875.4" y2="1002" stroke="#e0e0e0" stroke-width="1.3"/>
<line x1="222.3" y1="1032.3" x2="875.4" y2="1032.3" stroke="#e0e0e0" stroke-width="1.3"/>
<line x1="222.3" y1="1061.8" x2="875.4" y2="1061.8" stroke="#e0e0e0" stroke-width="1.3"/>
<line x1="222.3" y1="1091.6" x2="875.4" y2="1091.6" stroke="#e0e0e0" stroke-width="1.3"/>
<line x1="222.3" y1="1120.9" x2="875.4" y2="1120.9" stroke="#e0e0e0" stroke-width="1.3"/>
<line x1="222.3" y1="1149.8" x2="875.4" y2="1149.8" stroke="#e0e0e0" stroke-width="1.3"/>
<line x1="222.3" y1="1178.6" x2="875.4" y2="1178.6" stroke="#e0e0e0" stroke-width="1.3"/>
<line x1="222.3" y1="1208.4" x2="875.4" y2="1208.4" stroke="#e0e0e0" stroke-width="1.3"/>
<line x1="222.3" y1="1237.7" x2="875.4" y2="1237.7" stroke="#e0e0e0" stroke-width="1.3"/>
<line x1="222.3" y1="1267.7" x2="875.4" y2="1267.7" stroke="#e0e0e0" stroke-width="1.3"/>
<line x1="222.3" y1="1294.1" x2="875.4" y2="1294.1" stroke="#e0e0e0" stroke-width="1.3"/>
<line x1="222.3" y1="1325.1" x2="875.4" y2="1325.1" stroke="#e0e0e0" stroke-width="1.3"/>
<line x1="222.3" y1="1352.4" x2="875.4" y2="1352.4" stroke="#e0e0e0" stroke-width="1.3"/>
<line x1="222.3" y1="1381.1" x2="875.4" y2="1381.1" stroke="#e0e0e0" stroke-width="1.3"/>
<text transform="translate(213,849.0) scale(1,0.975)" font-size="21" fill="#000" text-anchor="end" stroke="#000" stroke-width="0.3">NK</text>
<text transform="translate(213,879.5) scale(1,0.975)" font-size="21" fill="#000" text-anchor="end" stroke="#000" stroke-width="0.3">NK Proliferating</text>
<text transform="translate(213,909.2) scale(1,0.975)" font-size="21" fill="#000" text-anchor="end" stroke="#000" stroke-width="0.3">NK CD16</text>
<text transform="translate(213,938.8) scale(1,0.975)" font-size="21" fill="#000" text-anchor="end" stroke="#000" stroke-width="0.3">T Proliferating</text>
<text transform="translate(213,967.5) scale(1,0.975)" font-size="21" fill="#000" text-anchor="end" stroke="#000" stroke-width="0.3">T CD8</text>
<text transform="translate(213,996.0) scale(1,0.975)" font-size="21" fill="#000" text-anchor="end" stroke="#000" stroke-width="0.3">T Naive</text>
<text transform="translate(213,1025.7) scale(1,0.975)" font-size="21" fill="#000" text-anchor="end" stroke="#000" stroke-width="0.3">T CD4</text>
<text transform="translate(213,1055.5) scale(1,0.975)" font-size="21" fill="#000" text-anchor="end" stroke="#000" stroke-width="0.3">T Treg</text>
<text transform="translate(213,1085.2) scale(1,0.975)" font-size="21" fill="#000" text-anchor="end" stroke="#000" stroke-width="0.3">B Naive</text>
<text transform="translate(213,1114.8) scale(1,0.975)" font-size="21" fill="#000" text-anchor="end" stroke="#000" stroke-width="0.3">B Memory</text>
<text transform="translate(213,1143.8) scale(1,0.975)" font-size="21" fill="#000" text-anchor="end" stroke="#000" stroke-width="0.3">B Plasma</text>
<text transform="translate(213,1172.7) scale(1,0.975)" font-size="21" fill="#000" text-anchor="end" stroke="#000" stroke-width="0.3">DC cDC1</text>
<text transform="translate(213,1202.0) scale(1,0.975)" font-size="21" fill="#000" text-anchor="end" stroke="#000" stroke-width="0.3">DC cDC2</text>
<text transform="translate(213,1231.6) scale(1,0.975)" font-size="21" fill="#000" text-anchor="end" stroke="#000" stroke-width="0.3">DC mregDC</text>
<text transform="translate(213,1261.2) scale(1,0.975)" font-size="21" fill="#000" text-anchor="end" stroke="#000" stroke-width="0.3">DC pDC</text>
<text transform="translate(213,1289.4) scale(1,0.975)" font-size="21" fill="#000" text-anchor="end" stroke="#000" stroke-width="0.3">Macrophage Kupffer</text>
<text transform="translate(213,1318.1) scale(1,0.975)" font-size="21" fill="#000" text-anchor="end" stroke="#000" stroke-width="0.3">Macrophage MoMac</text>
<text transform="translate(213,1347.2) scale(1,0.975)" font-size="21" fill="#000" text-anchor="end" stroke="#000" stroke-width="0.3">Monocyte CD14</text>
<text transform="translate(213,1375.2) scale(1,0.975)" font-size="21" fill="#000" text-anchor="end" stroke="#000" stroke-width="0.3">Monocyte Intermediate</text>
<text transform="translate(213,1403.4) scale(1,0.975)" font-size="21" fill="#000" text-anchor="end" stroke="#000" stroke-width="0.3">Monocyte CD16</text>
<text transform="translate(239.1,1416.7) rotate(-90) scale(1,1.04)" font-size="17" fill="#000" text-anchor="end" font-style="italic" stroke="#000" stroke-width="0.3">XCL1</text>
<text transform="translate(260.9,1416.7) rotate(-90) scale(1,1.04)" font-size="17" fill="#000" text-anchor="end" font-style="italic" stroke="#000" stroke-width="0.3">GNLY</text>
<text transform="translate(282.6,1416.7) rotate(-90) scale(1,1.04)" font-size="17" fill="#000" text-anchor="end" font-style="italic" stroke="#000" stroke-width="0.3">TRGC2</text>
<text transform="translate(304.4,1416.7) rotate(-90) scale(1,1.04)" font-size="17" fill="#000" text-anchor="end" font-style="italic" stroke="#000" stroke-width="0.3">TRDC</text>
<text transform="translate(326.2,1416.7) rotate(-90) scale(1,1.04)" font-size="17" fill="#000" text-anchor="end" font-style="italic" stroke="#000" stroke-width="0.3">KLRC2</text>
<text transform="translate(347.9,1416.7) rotate(-90) scale(1,1.04)" font-size="17" fill="#000" text-anchor="end" font-style="italic" stroke="#000" stroke-width="0.3">MKI67</text>
<text transform="translate(369.7,1416.7) rotate(-90) scale(1,1.04)" font-size="17" fill="#000" text-anchor="end" font-style="italic" stroke="#000" stroke-width="0.3">CD3D</text>
<text transform="translate(391.5,1416.7) rotate(-90) scale(1,1.04)" font-size="17" fill="#000" text-anchor="end" font-style="italic" stroke="#000" stroke-width="0.3">TRGC2</text>
<text transform="translate(413.2,1416.7) rotate(-90) scale(1,1.04)" font-size="17" fill="#000" text-anchor="end" font-style="italic" stroke="#000" stroke-width="0.3">CD8A</text>
<text transform="translate(435.0,1416.7) rotate(-90) scale(1,1.04)" font-size="17" fill="#000" text-anchor="end" font-style="italic" stroke="#000" stroke-width="0.3">IL7R</text>
<text transform="translate(456.8,1416.7) rotate(-90) scale(1,1.04)" font-size="17" fill="#000" text-anchor="end" font-style="italic" stroke="#000" stroke-width="0.3">CD4</text>
<text transform="translate(478.6,1416.7) rotate(-90) scale(1,1.04)" font-size="17" fill="#000" text-anchor="end" font-style="italic" stroke="#000" stroke-width="0.3">FOXP3</text>
<text transform="translate(500.3,1416.7) rotate(-90) scale(1,1.04)" font-size="17" fill="#000" text-anchor="end" font-style="italic" stroke="#000" stroke-width="0.3">CD19</text>
<text transform="translate(522.1,1416.7) rotate(-90) scale(1,1.04)" font-size="17" fill="#000" text-anchor="end" font-style="italic" stroke="#000" stroke-width="0.3">CD79B</text>
<text transform="translate(543.9,1416.7) rotate(-90) scale(1,1.04)" font-size="17" fill="#000" text-anchor="end" font-style="italic" stroke="#000" stroke-width="0.3">MZB1</text>
<text transform="translate(565.6,1416.7) rotate(-90) scale(1,1.04)" font-size="17" fill="#000" text-anchor="end" font-style="italic" stroke="#000" stroke-width="0.3">TPSAB1</text>
<text transform="translate(587.4,1416.7) rotate(-90) scale(1,1.04)" font-size="17" fill="#000" text-anchor="end" font-style="italic" stroke="#000" stroke-width="0.3">LYZ</text>
<text transform="translate(609.2,1416.7) rotate(-90) scale(1,1.04)" font-size="17" fill="#000" text-anchor="end" font-style="italic" stroke="#000" stroke-width="0.3">FLT3</text>
<text transform="translate(630.9,1416.7) rotate(-90) scale(1,1.04)" font-size="17" fill="#000" text-anchor="end" font-style="italic" stroke="#000" stroke-width="0.3">CCR7</text>
<text transform="translate(652.7,1416.7) rotate(-90) scale(1,1.04)" font-size="17" fill="#000" text-anchor="end" font-style="italic" stroke="#000" stroke-width="0.3">CLEC9A</text>
<text transform="translate(674.5,1416.7) rotate(-90) scale(1,1.04)" font-size="17" fill="#000" text-anchor="end" font-style="italic" stroke="#000" stroke-width="0.3">CD1C</text>
<text transform="translate(696.3,1416.7) rotate(-90) scale(1,1.04)" font-size="17" fill="#000" text-anchor="end" font-style="italic" stroke="#000" stroke-width="0.3">IRF7</text>
<text transform="translate(718.0,1416.7) rotate(-90) scale(1,1.04)" font-size="17" fill="#000" text-anchor="end" font-style="italic" stroke="#000" stroke-width="0.3">C1QA</text>
<text transform="translate(739.8,1416.7) rotate(-90) scale(1,1.04)" font-size="17" fill="#000" text-anchor="end" font-style="italic" stroke="#000" stroke-width="0.3">MARCO</text>
<text transform="translate(761.6,1416.7) rotate(-90) scale(1,1.04)" font-size="17" fill="#000" text-anchor="end" font-style="italic" stroke="#000" stroke-width="0.3">FABP4</text>
<text transform="translate(783.3,1416.7) rotate(-90) scale(1,1.04)" font-size="17" fill="#000" text-anchor="end" font-style="italic" stroke="#000" stroke-width="0.3">TREM2</text>
<text transform="translate(805.1,1416.7) rotate(-90) scale(1,1.04)" font-size="17" fill="#000" text-anchor="end" font-style="italic" stroke="#000" stroke-width="0.3">APOE</text>
<text transform="translate(826.9,1416.7) rotate(-90) scale(1,1.04)" font-size="17" fill="#000" text-anchor="end" font-style="italic" stroke="#000" stroke-width="0.3">FCN1</text>
<text transform="translate(848.6,1416.7) rotate(-90) scale(1,1.04)" font-size="17" fill="#000" text-anchor="end" font-style="italic" stroke="#000" stroke-width="0.3">VCAN</text>
<text transform="translate(870.4,1416.7) rotate(-90) scale(1,1.04)" font-size="17" fill="#000" text-anchor="end" font-style="italic" stroke="#000" stroke-width="0.3">LYPD2</text>
<defs><linearGradient id="cb" x1="0" y1="1" x2="0" y2="0"><stop offset="0" stop-color="#fff"/><stop offset="0.1" stop-color="#fde0c8"/><stop offset="0.24" stop-color="#fba46e"/><stop offset="0.37" stop-color="#f06a2c"/><stop offset="0.5" stop-color="#d3381e"/><stop offset="0.62" stop-color="#921a24"/><stop offset="0.75" stop-color="#42101a"/><stop offset="0.88" stop-color="#120406"/><stop offset="1" stop-color="#000"/></linearGradient></defs>
<rect x="28.2" y="1033.2" width="20.6" height="90" fill="url(#cb)" rx="1"/>
<rect x="28.6" y="1100.7" width="6" height="3.2" rx="1.6" fill="#fff" fill-opacity="0.92"/>
<rect x="42.4" y="1100.7" width="6" height="3.2" rx="1.6" fill="#fff" fill-opacity="0.92"/>
<rect x="28.6" y="1079.2" width="6" height="3.2" rx="1.6" fill="#fff" fill-opacity="0.92"/>
<rect x="42.4" y="1079.2" width="6" height="3.2" rx="1.6" fill="#fff" fill-opacity="0.92"/>
<rect x="28.6" y="1057.7" width="6" height="3.2" rx="1.6" fill="#fff" fill-opacity="0.92"/>
<rect x="42.4" y="1057.7" width="6" height="3.2" rx="1.6" fill="#fff" fill-opacity="0.92"/>
<rect x="28.6" y="1036.2" width="6" height="3.2" rx="1.6" fill="#fff" fill-opacity="0.92"/>
<rect x="42.4" y="1036.2" width="6" height="3.2" rx="1.6" fill="#fff" fill-opacity="0.92"/>
<text transform="translate(52,1129.0) scale(1,1.04)" font-size="14.7" fill="#000" stroke="#000" stroke-width="0.3">0</text>
<text transform="translate(52,1107.5) scale(1,1.04)" font-size="14.7" fill="#000" stroke="#000" stroke-width="0.3">1</text>
<text transform="translate(52,1086.0) scale(1,1.04)" font-size="14.7" fill="#000" stroke="#000" stroke-width="0.3">2</text>
<text transform="translate(52,1064.5) scale(1,1.04)" font-size="14.7" fill="#000" stroke="#000" stroke-width="0.3">3</text>
<text transform="translate(52,1043.0) scale(1,1.04)" font-size="14.7" fill="#000" stroke="#000" stroke-width="0.3">4</text>
<text transform="translate(18.3,1080.5) rotate(-90) scale(1,1.04)" font-size="20.8" fill="#000" text-anchor="middle" font-weight="bold" stroke="#000" stroke-width="0.3">Expression</text>
<text transform="translate(888.5,798.8)" font-size="48" fill="#000" stroke="#000" stroke-width="0.6">D</text>
<line x1="916.0" y1="825" x2="916.0" y2="1407.5" stroke="#ebebeb" stroke-width="2.6"/>
<line x1="946.1" y1="825" x2="946.1" y2="1407.5" stroke="#ebebeb" stroke-width="2.6"/>
<line x1="976.2" y1="825" x2="976.2" y2="1407.5" stroke="#ebebeb" stroke-width="2.6"/>
<line x1="1006.4" y1="825" x2="1006.4" y2="1407.5" stroke="#ebebeb" stroke-width="2.6"/>
<line x1="1036.5" y1="825" x2="1036.5" y2="1407.5" stroke="#ebebeb" stroke-width="2.6"/>
<line x1="1066.6" y1="825" x2="1066.6" y2="1407.5" stroke="#ebebeb" stroke-width="2.6"/>
<line x1="1096.8" y1="825" x2="1096.8" y2="1407.5" stroke="#ebebeb" stroke-width="2.6"/>
<line x1="1126.9" y1="825" x2="1126.9" y2="1407.5" stroke="#ebebeb" stroke-width="2.6"/>
<line x1="1157.0" y1="825" x2="1157.0" y2="1407.5" stroke="#ebebeb" stroke-width="2.6"/>
<line x1="907.5" y1="842.1" x2="1174" y2="842.1" stroke="#ebebeb" stroke-width="2.4"/>
<line x1="907.5" y1="871.0" x2="1174" y2="871.0" stroke="#ebebeb" stroke-width="2.4"/>
<line x1="907.5" y1="899.9" x2="1174" y2="899.9" stroke="#ebebeb" stroke-width="2.4"/>
<line x1="907.5" y1="928.7" x2="1174" y2="928.7" stroke="#ebebeb" stroke-width="2.4"/>
<line x1="907.5" y1="957.6" x2="1174" y2="957.6" stroke="#ebebeb" stroke-width="2.4"/>
<line x1="907.5" y1="986.5" x2="1174" y2="986.5" stroke="#ebebeb" stroke-width="2.4"/>
<line x1="907.5" y1="1015.4" x2="1174" y2="1015.4" stroke="#ebebeb" stroke-width="2.4"/>
<line x1="907.5" y1="1044.3" x2="1174" y2="1044.3" stroke="#ebebeb" stroke-width="2.4"/>
<line x1="907.5" y1="1073.1" x2="1174" y2="1073.1" stroke="#ebebeb" stroke-width="2.4"/>
<line x1="907.5" y1="1102.0" x2="1174" y2="1102.0" stroke="#ebebeb" stroke-width="2.4"/>
<line x1="907.5" y1="1130.9" x2="1174" y2="1130.9" stroke="#ebebeb" stroke-width="2.4"/>
<line x1="907.5" y1="1159.8" x2="1174" y2="1159.8" stroke="#ebebeb" stroke-width="2.4"/>
<line x1="907.5" y1="1188.7" x2="1174" y2="1188.7" stroke="#ebebeb" stroke-width="2.4"/>
<line x1="907.5" y1="1217.5" x2="1174" y2="1217.5" stroke="#ebebeb" stroke-width="2.4"/>
<line x1="907.5" y1="1246.4" x2="1174" y2="1246.4" stroke="#ebebeb" stroke-width="2.4"/>
<line x1="907.5" y1="1275.3" x2="1174" y2="1275.3" stroke="#ebebeb" stroke-width="2.4"/>
<line x1="907.5" y1="1304.2" x2="1174" y2="1304.2" stroke="#ebebeb" stroke-width="2.4"/>
<line x1="907.5" y1="1333.1" x2="1174" y2="1333.1" stroke="#ebebeb" stroke-width="2.4"/>
<line x1="907.5" y1="1361.9" x2="1174" y2="1361.9" stroke="#ebebeb" stroke-width="2.4"/>
<line x1="907.5" y1="1390.8" x2="1174" y2="1390.8" stroke="#ebebeb" stroke-width="2.4"/>
<line x1="1036.5" y1="824.5" x2="1036.5" y2="1411" stroke="#6f6f6f" stroke-width="1.3"/>
<line x1="919.9" y1="842.1" x2="954.2" y2="842.1" stroke="#777" stroke-width="1.3"/>
<line x1="990.4" y1="842.1" x2="1035.6" y2="842.1" stroke="#777" stroke-width="1.3"/>
<circle cx="929.4" cy="837" r="4.8" fill="#8c8c8c" fill-opacity="0.33" stroke="#777" stroke-opacity="0.3" stroke-width="0.8"/>
<circle cx="919.9" cy="844.9" r="4.8" fill="#8c8c8c" fill-opacity="0.33" stroke="#777" stroke-opacity="0.3" stroke-width="0.8"/>
<circle cx="929.4" cy="842.6" r="4.8" fill="#8c8c8c" fill-opacity="0.33" stroke="#777" stroke-opacity="0.3" stroke-width="0.8"/>
<circle cx="957.6" cy="839.2" r="4.8" fill="#8c8c8c" fill-opacity="0.33" stroke="#777" stroke-opacity="0.3" stroke-width="0.8"/>
<circle cx="952" cy="847.1" r="4.8" fill="#8c8c8c" fill-opacity="0.33" stroke="#777" stroke-opacity="0.3" stroke-width="0.8"/>
<circle cx="971.9" cy="842.6" r="4.8" fill="#8c8c8c" fill-opacity="0.33" stroke="#777" stroke-opacity="0.3" stroke-width="0.8"/>
<circle cx="981.4" cy="841.5" r="4.8" fill="#8c8c8c" fill-opacity="0.33" stroke="#777" stroke-opacity="0.3" stroke-width="0.8"/>
<circle cx="985.9" cy="844.9" r="4.8" fill="#8c8c8c" fill-opacity="0.33" stroke="#777" stroke-opacity="0.3" stroke-width="0.8"/>
<circle cx="987" cy="846.7" r="4.8" fill="#8c8c8c" fill-opacity="0.33" stroke="#777" stroke-opacity="0.3" stroke-width="0.8"/>
<circle cx="993.8" cy="847.1" r="4.8" fill="#8c8c8c" fill-opacity="0.33" stroke="#777" stroke-opacity="0.3" stroke-width="0.8"/>
<circle cx="1000.6" cy="846" r="4.8" fill="#8c8c8c" fill-opacity="0.33" stroke="#777" stroke-opacity="0.3" stroke-width="0.8"/>
<circle cx="1008.9" cy="845.3" r="4.8" fill="#8c8c8c" fill-opacity="0.33" stroke="#777" stroke-opacity="0.3" stroke-width="0.8"/>
<circle cx="1038.3" cy="838.1" r="4.8" fill="#8c8c8c" fill-opacity="0.33" stroke="#777" stroke-opacity="0.3" stroke-width="0.8"/>
<rect x="954.2" y="831.1" width="36.2" height="22" fill="none" stroke="#777" stroke-width="1.2"/>
<line x1="976.4" y1="831.1" x2="976.4" y2="853.1" stroke="#666" stroke-width="1.6"/>
<line x1="942.9" y1="871.0" x2="988.6" y2="871.0" stroke="#777" stroke-width="1.3"/>
<line x1="1020.9" y1="871.0" x2="1044.6" y2="871.0" stroke="#777" stroke-width="1.3"/>
<circle cx="942.9" cy="873.8" r="4.8" fill="#8c8c8c" fill-opacity="0.33" stroke="#777" stroke-opacity="0.3" stroke-width="0.8"/>
<circle cx="971.9" cy="867.5" r="4.8" fill="#8c8c8c" fill-opacity="0.33" stroke="#777" stroke-opacity="0.3" stroke-width="0.8"/>
<circle cx="971.9" cy="872" r="4.8" fill="#8c8c8c" fill-opacity="0.33" stroke="#777" stroke-opacity="0.3" stroke-width="0.8"/>
<circle cx="991.5" cy="873.1" r="4.8" fill="#8c8c8c" fill-opacity="0.33" stroke="#777" stroke-opacity="0.3" stroke-width="0.8"/>
<circle cx="1005.1" cy="867.5" r="4.8" fill="#8c8c8c" fill-opacity="0.33" stroke="#777" stroke-opacity="0.3" stroke-width="0.8"/>
<circle cx="1013" cy="869.7" r="4.8" fill="#8c8c8c" fill-opacity="0.33" stroke="#777" stroke-opacity="0.3" stroke-width="0.8"/>
<circle cx="1018.6" cy="867.5" r="4.8" fill="#8c8c8c" fill-opacity="0.33" stroke="#777" stroke-opacity="0.3" stroke-width="0.8"/>
<circle cx="1020.9" cy="870.8" r="4.8" fill="#8c8c8c" fill-opacity="0.33" stroke="#777" stroke-opacity="0.3" stroke-width="0.8"/>
<circle cx="1027.7" cy="868.6" r="4.8" fill="#8c8c8c" fill-opacity="0.33" stroke="#777" stroke-opacity="0.3" stroke-width="0.8"/>
<circle cx="1044.6" cy="872" r="4.8" fill="#8c8c8c" fill-opacity="0.33" stroke="#777" stroke-opacity="0.3" stroke-width="0.8"/>
<rect x="988.6" y="860.0" width="32.3" height="22" fill="none" stroke="#777" stroke-width="1.2"/>
<line x1="1005.8" y1="860.0" x2="1005.8" y2="882.0" stroke="#666" stroke-width="1.6"/>
<line x1="942.9" y1="899.9" x2="983.6" y2="899.9" stroke="#777" stroke-width="1.3"/>
<line x1="1017.1" y1="899.9" x2="1046.4" y2="899.9" stroke="#777" stroke-width="1.3"/>
<circle cx="942.5" cy="895.7" r="4.8" fill="#8c8c8c" fill-opacity="0.33" stroke="#777" stroke-opacity="0.3" stroke-width="0.8"/>
<circle cx="949.3" cy="900.9" r="4.8" fill="#8c8c8c" fill-opacity="0.33" stroke="#777" stroke-opacity="0.3" stroke-width="0.8"/>
<circle cx="954.9" cy="896.8" r="4.8" fill="#8c8c8c" fill-opacity="0.33" stroke="#777" stroke-opacity="0.3" stroke-width="0.8"/>
<circle cx="984.7" cy="899.1" r="4.8" fill="#8c8c8c" fill-opacity="0.33" stroke="#777" stroke-opacity="0.3" stroke-width="0.8"/>
<circle cx="989.3" cy="896.8" r="4.8" fill="#8c8c8c" fill-opacity="0.33" stroke="#777" stroke-opacity="0.3" stroke-width="0.8"/>
<circle cx="990.4" cy="904.7" r="4.8" fill="#8c8c8c" fill-opacity="0.33" stroke="#777" stroke-opacity="0.3" stroke-width="0.8"/>
<circle cx="1004" cy="898" r="4.8" fill="#8c8c8c" fill-opacity="0.33" stroke="#777" stroke-opacity="0.3" stroke-width="0.8"/>
<circle cx="1011.9" cy="904.7" r="4.8" fill="#8c8c8c" fill-opacity="0.33" stroke="#777" stroke-opacity="0.3" stroke-width="0.8"/>
<circle cx="1016.4" cy="900.2" r="4.8" fill="#8c8c8c" fill-opacity="0.33" stroke="#777" stroke-opacity="0.3" stroke-width="0.8"/>
<circle cx="1034.5" cy="899.1" r="4.8" fill="#8c8c8c" fill-opacity="0.33" stroke="#777" stroke-opacity="0.3" stroke-width="0.8"/>
<circle cx="1037.9" cy="903.6" r="4.8" fill="#8c8c8c" fill-opacity="0.33" stroke="#777" stroke-opacity="0.3" stroke-width="0.8"/>
<circle cx="1046.4" cy="900.9" r="4.8" fill="#8c8c8c" fill-opacity="0.33" stroke="#777" stroke-opacity="0.3" stroke-width="0.8"/>
<rect x="983.6" y="888.9" width="33.5" height="22" fill="none" stroke="#777" stroke-width="1.2"/>
<line x1="997.2" y1="888.9" x2="997.2" y2="910.9" stroke="#666" stroke-width="1.6"/>
<line x1="1009.6" y1="928.7" x2="1040.8" y2="928.7" stroke="#777" stroke-width="1.3"/>
<line x1="1091.4" y1="928.7" x2="1144" y2="928.7" stroke="#777" stroke-width="1.3"/>
<circle cx="1009.6" cy="928.9" r="4.8" fill="#8c8c8c" fill-opacity="0.33" stroke="#777" stroke-opacity="0.3" stroke-width="0.8"/>
<circle cx="1028.8" cy="924.4" r="4.8" fill="#8c8c8c" fill-opacity="0.33" stroke="#777" stroke-opacity="0.3" stroke-width="0.8"/>
<circle cx="1035.6" cy="923.5" r="4.8" fill="#8c8c8c" fill-opacity="0.33" stroke="#777" stroke-opacity="0.3" stroke-width="0.8"/>
<circle cx="1051" cy="928.5" r="4.8" fill="#8c8c8c" fill-opacity="0.33" stroke="#777" stroke-opacity="0.3" stroke-width="0.8"/>
<circle cx="1066.1" cy="930.7" r="4.8" fill="#8c8c8c" fill-opacity="0.33" stroke="#777" stroke-opacity="0.3" stroke-width="0.8"/>
<circle cx="1071.8" cy="928.5" r="4.8" fill="#8c8c8c" fill-opacity="0.33" stroke="#777" stroke-opacity="0.3" stroke-width="0.8"/>
<circle cx="1074" cy="934.1" r="4.8" fill="#8c8c8c" fill-opacity="0.33" stroke="#777" stroke-opacity="0.3" stroke-width="0.8"/>
<circle cx="1097.7" cy="924.4" r="4.8" fill="#8c8c8c" fill-opacity="0.33" stroke="#777" stroke-opacity="0.3" stroke-width="0.8"/>
<circle cx="1106.3" cy="929.6" r="4.8" fill="#8c8c8c" fill-opacity="0.33" stroke="#777" stroke-opacity="0.3" stroke-width="0.8"/>
<circle cx="1119.7" cy="925.1" r="4.8" fill="#8c8c8c" fill-opacity="0.33" stroke="#777" stroke-opacity="0.3" stroke-width="0.8"/>
<circle cx="1144.1" cy="930.3" r="4.8" fill="#8c8c8c" fill-opacity="0.33" stroke="#777" stroke-opacity="0.3" stroke-width="0.8"/>
<rect x="1040.8" y="917.7" width="50.6" height="22" fill="none" stroke="#777" stroke-width="1.2"/>
<line x1="1067.2" y1="917.7" x2="1067.2" y2="939.7" stroke="#666" stroke-width="1.6"/>
<line x1="992.7" y1="957.6" x2="1008.9" y2="957.6" stroke="#777" stroke-width="1.3"/>
<line x1="1043" y1="957.6" x2="1075.1" y2="957.6" stroke="#777" stroke-width="1.3"/>
<circle cx="992.7" cy="955.1" r="4.8" fill="#8c8c8c" fill-opacity="0.33" stroke="#777" stroke-opacity="0.3" stroke-width="0.8"/>
<circle cx="1002.8" cy="961.2" r="4.8" fill="#8c8c8c" fill-opacity="0.33" stroke="#777" stroke-opacity="0.3" stroke-width="0.8"/>
<circle cx="1005.1" cy="953.3" r="4.8" fill="#8c8c8c" fill-opacity="0.33" stroke="#777" stroke-opacity="0.3" stroke-width="0.8"/>
<circle cx="1019.3" cy="961.9" r="4.8" fill="#8c8c8c" fill-opacity="0.33" stroke="#777" stroke-opacity="0.3" stroke-width="0.8"/>
<circle cx="1027.7" cy="955.1" r="4.8" fill="#8c8c8c" fill-opacity="0.33" stroke="#777" stroke-opacity="0.3" stroke-width="0.8"/>
<circle cx="1033.8" cy="954.5" r="4.8" fill="#8c8c8c" fill-opacity="0.33" stroke="#777" stroke-opacity="0.3" stroke-width="0.8"/>
<circle cx="1042.4" cy="961.9" r="4.8" fill="#8c8c8c" fill-opacity="0.33" stroke="#777" stroke-opacity="0.3" stroke-width="0.8"/>
<circle cx="1051.4" cy="955.6" r="4.8" fill="#8c8c8c" fill-opacity="0.33" stroke="#777" stroke-opacity="0.3" stroke-width="0.8"/>
<circle cx="1062.7" cy="957.9" r="4.8" fill="#8c8c8c" fill-opacity="0.33" stroke="#777" stroke-opacity="0.3" stroke-width="0.8"/>
<circle cx="1075.1" cy="958.3" r="4.8" fill="#8c8c8c" fill-opacity="0.33" stroke="#777" stroke-opacity="0.3" stroke-width="0.8"/>
<rect x="1008.9" y="946.6" width="34.1" height="22" fill="none" stroke="#777" stroke-width="1.2"/>
<line x1="1033.3" y1="946.6" x2="1033.3" y2="968.6" stroke="#666" stroke-width="1.6"/>
<line x1="997.6" y1="986.5" x2="1022.5" y2="986.5" stroke="#777" stroke-width="1.3"/>
<line x1="1061.1" y1="986.5" x2="1104.5" y2="986.5" stroke="#777" stroke-width="1.3"/>
<circle cx="997.6" cy="986.5" r="4.8" fill="#8c8c8c" fill-opacity="0.33" stroke="#777" stroke-opacity="0.3" stroke-width="0.8"/>
<circle cx="998.3" cy="991" r="4.8" fill="#8c8c8c" fill-opacity="0.33" stroke="#777" stroke-opacity="0.3" stroke-width="0.8"/>
<circle cx="1004.4" cy="989.9" r="4.8" fill="#8c8c8c" fill-opacity="0.33" stroke="#777" stroke-opacity="0.3" stroke-width="0.8"/>
<circle cx="1019.8" cy="980.8" r="4.8" fill="#8c8c8c" fill-opacity="0.33" stroke="#777" stroke-opacity="0.3" stroke-width="0.8"/>
<circle cx="1028.8" cy="987.6" r="4.8" fill="#8c8c8c" fill-opacity="0.33" stroke="#777" stroke-opacity="0.3" stroke-width="0.8"/>
<circle cx="1040.1" cy="992.1" r="4.8" fill="#8c8c8c" fill-opacity="0.33" stroke="#777" stroke-opacity="0.3" stroke-width="0.8"/>
<circle cx="1053.7" cy="985.3" r="4.8" fill="#8c8c8c" fill-opacity="0.33" stroke="#777" stroke-opacity="0.3" stroke-width="0.8"/>
<circle cx="1066.1" cy="986.5" r="4.8" fill="#8c8c8c" fill-opacity="0.33" stroke="#777" stroke-opacity="0.3" stroke-width="0.8"/>
<circle cx="1066.1" cy="991" r="4.8" fill="#8c8c8c" fill-opacity="0.33" stroke="#777" stroke-opacity="0.3" stroke-width="0.8"/>
<circle cx="1076.3" cy="986.5" r="4.8" fill="#8c8c8c" fill-opacity="0.33" stroke="#777" stroke-opacity="0.3" stroke-width="0.8"/>
<circle cx="1104.5" cy="987.6" r="4.8" fill="#8c8c8c" fill-opacity="0.33" stroke="#777" stroke-opacity="0.3" stroke-width="0.8"/>
<rect x="1022.5" y="975.5" width="38.6" height="22" fill="none" stroke="#777" stroke-width="1.2"/>
<line x1="1047.3" y1="975.5" x2="1047.3" y2="997.5" stroke="#666" stroke-width="1.6"/>
<line x1="1041.2" y1="1015.4" x2="1059.5" y2="1015.4" stroke="#777" stroke-width="1.3"/>
<line x1="1086.7" y1="1015.4" x2="1109" y2="1015.4" stroke="#777" stroke-width="1.3"/>
<circle cx="1043.5" cy="1013" r="4.8" fill="#8c8c8c" fill-opacity="0.33" stroke="#777" stroke-opacity="0.3" stroke-width="0.8"/>
<circle cx="1045.8" cy="1018" r="4.8" fill="#8c8c8c" fill-opacity="0.33" stroke="#777" stroke-opacity="0.3" stroke-width="0.8"/>
<circle cx="1060.5" cy="1012" r="4.8" fill="#8c8c8c" fill-opacity="0.33" stroke="#777" stroke-opacity="0.3" stroke-width="0.8"/>
<circle cx="1062.7" cy="1016" r="4.8" fill="#8c8c8c" fill-opacity="0.33" stroke="#777" stroke-opacity="0.3" stroke-width="0.8"/>
<circle cx="1071.8" cy="1014" r="4.8" fill="#8c8c8c" fill-opacity="0.33" stroke="#777" stroke-opacity="0.3" stroke-width="0.8"/>
<circle cx="1078.5" cy="1019" r="4.8" fill="#8c8c8c" fill-opacity="0.33" stroke="#777" stroke-opacity="0.3" stroke-width="0.8"/>
<circle cx="1080.8" cy="1013" r="4.8" fill="#8c8c8c" fill-opacity="0.33" stroke="#777" stroke-opacity="0.3" stroke-width="0.8"/>
<circle cx="1089.8" cy="1018" r="4.8" fill="#8c8c8c" fill-opacity="0.33" stroke="#777" stroke-opacity="0.3" stroke-width="0.8"/>
<circle cx="1097.7" cy="1016" r="4.8" fill="#8c8c8c" fill-opacity="0.33" stroke="#777" stroke-opacity="0.3" stroke-width="0.8"/>
<circle cx="1109" cy="1019" r="4.8" fill="#8c8c8c" fill-opacity="0.33" stroke="#777" stroke-opacity="0.3" stroke-width="0.8"/>
<rect x="1059.5" y="1004.4" width="27.2" height="22" fill="none" stroke="#777" stroke-width="1.2"/>
<line x1="1071.3" y1="1004.4" x2="1071.3" y2="1026.4" stroke="#666" stroke-width="1.6"/>
<line x1="1062.3" y1="1044.3" x2="1091.6" y2="1044.3" stroke="#777" stroke-width="1.3"/>
<line x1="1134.6" y1="1044.3" x2="1162.1" y2="1044.3" stroke="#777" stroke-width="1.3"/>
<circle cx="1062.3" cy="1046.4" r="4.8" fill="#8c8c8c" fill-opacity="0.33" stroke="#777" stroke-opacity="0.3" stroke-width="0.8"/>
<circle cx="1081.9" cy="1045.2" r="4.8" fill="#8c8c8c" fill-opacity="0.33" stroke="#777" stroke-opacity="0.3" stroke-width="0.8"/>
<circle cx="1087.6" cy="1038.4" r="4.8" fill="#8c8c8c" fill-opacity="0.33" stroke="#777" stroke-opacity="0.3" stroke-width="0.8"/>
<circle cx="1102.3" cy="1041.8" r="4.8" fill="#8c8c8c" fill-opacity="0.33" stroke="#777" stroke-opacity="0.3" stroke-width="0.8"/>
<circle cx="1107.9" cy="1038.4" r="4.8" fill="#8c8c8c" fill-opacity="0.33" stroke="#777" stroke-opacity="0.3" stroke-width="0.8"/>
<circle cx="1122.6" cy="1039.6" r="4.8" fill="#8c8c8c" fill-opacity="0.33" stroke="#777" stroke-opacity="0.3" stroke-width="0.8"/>
<circle cx="1127.1" cy="1044.1" r="4.8" fill="#8c8c8c" fill-opacity="0.33" stroke="#777" stroke-opacity="0.3" stroke-width="0.8"/>
<circle cx="1137.3" cy="1038.4" r="4.8" fill="#8c8c8c" fill-opacity="0.33" stroke="#777" stroke-opacity="0.3" stroke-width="0.8"/>
<circle cx="1149.7" cy="1049.7" r="4.8" fill="#8c8c8c" fill-opacity="0.33" stroke="#777" stroke-opacity="0.3" stroke-width="0.8"/>
<circle cx="1155.4" cy="1041.8" r="4.8" fill="#8c8c8c" fill-opacity="0.33" stroke="#777" stroke-opacity="0.3" stroke-width="0.8"/>
<circle cx="1162.1" cy="1048.6" r="4.8" fill="#8c8c8c" fill-opacity="0.33" stroke="#777" stroke-opacity="0.3" stroke-width="0.8"/>
<rect x="1091.6" y="1033.3" width="43.0" height="22" fill="none" stroke="#777" stroke-width="1.2"/>
<line x1="1118.5" y1="1033.3" x2="1118.5" y2="1055.3" stroke="#666" stroke-width="1.6"/>
<line x1="967.8" y1="1073.1" x2="1013.7" y2="1073.1" stroke="#777" stroke-width="1.3"/>
<line x1="1045.3" y1="1073.1" x2="1058.2" y2="1073.1" stroke="#777" stroke-width="1.3"/>
<circle cx="967.8" cy="1068.5" r="4.8" fill="#8c8c8c" fill-opacity="0.33" stroke="#777" stroke-opacity="0.3" stroke-width="0.8"/>
<circle cx="1002.8" cy="1068.5" r="4.8" fill="#8c8c8c" fill-opacity="0.33" stroke="#777" stroke-opacity="0.3" stroke-width="0.8"/>
<circle cx="1008.5" cy="1078" r="4.8" fill="#8c8c8c" fill-opacity="0.33" stroke="#777" stroke-opacity="0.3" stroke-width="0.8"/>
<circle cx="1019.8" cy="1069" r="4.8" fill="#8c8c8c" fill-opacity="0.33" stroke="#777" stroke-opacity="0.3" stroke-width="0.8"/>
<circle cx="1035.6" cy="1070.1" r="4.8" fill="#8c8c8c" fill-opacity="0.33" stroke="#777" stroke-opacity="0.3" stroke-width="0.8"/>
<circle cx="1040.1" cy="1075.7" r="4.8" fill="#8c8c8c" fill-opacity="0.33" stroke="#777" stroke-opacity="0.3" stroke-width="0.8"/>
<circle cx="1046.9" cy="1076.9" r="4.8" fill="#8c8c8c" fill-opacity="0.33" stroke="#777" stroke-opacity="0.3" stroke-width="0.8"/>
<circle cx="1053.7" cy="1074.6" r="4.8" fill="#8c8c8c" fill-opacity="0.33" stroke="#777" stroke-opacity="0.3" stroke-width="0.8"/>
<circle cx="1058.2" cy="1073.5" r="4.8" fill="#8c8c8c" fill-opacity="0.33" stroke="#777" stroke-opacity="0.3" stroke-width="0.8"/>
<rect x="1013.7" y="1062.1" width="31.6" height="22" fill="none" stroke="#777" stroke-width="1.2"/>
<line x1="1029.5" y1="1062.1" x2="1029.5" y2="1084.1" stroke="#666" stroke-width="1.6"/>
<line x1="1001.7" y1="1102.0" x2="1030.4" y2="1102.0" stroke="#777" stroke-width="1.3"/>
<line x1="1079.7" y1="1102.0" x2="1111.3" y2="1102.0" stroke="#777" stroke-width="1.3"/>
<circle cx="1001.7" cy="1096.3" r="4.8" fill="#8c8c8c" fill-opacity="0.33" stroke="#777" stroke-opacity="0.3" stroke-width="0.8"/>
<circle cx="1022" cy="1095.2" r="4.8" fill="#8c8c8c" fill-opacity="0.33" stroke="#777" stroke-opacity="0.3" stroke-width="0.8"/>
<circle cx="1023.2" cy="1102" r="4.8" fill="#8c8c8c" fill-opacity="0.33" stroke="#777" stroke-opacity="0.3" stroke-width="0.8"/>
<circle cx="1048" cy="1099.7" r="4.8" fill="#8c8c8c" fill-opacity="0.33" stroke="#777" stroke-opacity="0.3" stroke-width="0.8"/>
<circle cx="1055.9" cy="1097.4" r="4.8" fill="#8c8c8c" fill-opacity="0.33" stroke="#777" stroke-opacity="0.3" stroke-width="0.8"/>
<circle cx="1060.5" cy="1099.7" r="4.8" fill="#8c8c8c" fill-opacity="0.33" stroke="#777" stroke-opacity="0.3" stroke-width="0.8"/>
<circle cx="1074" cy="1099.7" r="4.8" fill="#8c8c8c" fill-opacity="0.33" stroke="#777" stroke-opacity="0.3" stroke-width="0.8"/>
<circle cx="1075.1" cy="1106.5" r="4.8" fill="#8c8c8c" fill-opacity="0.33" stroke="#777" stroke-opacity="0.3" stroke-width="0.8"/>
<circle cx="1083" cy="1106.5" r="4.8" fill="#8c8c8c" fill-opacity="0.33" stroke="#777" stroke-opacity="0.3" stroke-width="0.8"/>
<circle cx="1089.8" cy="1105.3" r="4.8" fill="#8c8c8c" fill-opacity="0.33" stroke="#777" stroke-opacity="0.3" stroke-width="0.8"/>
<circle cx="1093.2" cy="1103.1" r="4.8" fill="#8c8c8c" fill-opacity="0.33" stroke="#777" stroke-opacity="0.3" stroke-width="0.8"/>
<circle cx="1111.3" cy="1097.4" r="4.8" fill="#8c8c8c" fill-opacity="0.33" stroke="#777" stroke-opacity="0.3" stroke-width="0.8"/>
<rect x="1030.4" y="1091.0" width="49.3" height="22" fill="none" stroke="#777" stroke-width="1.2"/>
<line x1="1066.6" y1="1091.0" x2="1066.6" y2="1113.0" stroke="#666" stroke-width="1.6"/>
<line x1="973.4" y1="1130.9" x2="1008" y2="1130.9" stroke="#777" stroke-width="1.3"/>
<line x1="1047.6" y1="1130.9" x2="1095.5" y2="1130.9" stroke="#777" stroke-width="1.3"/>
<circle cx="973.4" cy="1129.7" r="4.8" fill="#8c8c8c" fill-opacity="0.33" stroke="#777" stroke-opacity="0.3" stroke-width="0.8"/>
<circle cx="1000.6" cy="1127.9" r="4.8" fill="#8c8c8c" fill-opacity="0.33" stroke="#777" stroke-opacity="0.3" stroke-width="0.8"/>
<circle cx="1002.8" cy="1131.3" r="4.8" fill="#8c8c8c" fill-opacity="0.33" stroke="#777" stroke-opacity="0.3" stroke-width="0.8"/>
<circle cx="1014.1" cy="1133.6" r="4.8" fill="#8c8c8c" fill-opacity="0.33" stroke="#777" stroke-opacity="0.3" stroke-width="0.8"/>
<circle cx="1024.3" cy="1127.9" r="4.8" fill="#8c8c8c" fill-opacity="0.33" stroke="#777" stroke-opacity="0.3" stroke-width="0.8"/>
<circle cx="1025.4" cy="1131.3" r="4.8" fill="#8c8c8c" fill-opacity="0.33" stroke="#777" stroke-opacity="0.3" stroke-width="0.8"/>
<circle cx="1040.1" cy="1129.1" r="4.8" fill="#8c8c8c" fill-opacity="0.33" stroke="#777" stroke-opacity="0.3" stroke-width="0.8"/>
<circle cx="1041.2" cy="1131.3" r="4.8" fill="#8c8c8c" fill-opacity="0.33" stroke="#777" stroke-opacity="0.3" stroke-width="0.8"/>
<circle cx="1050.3" cy="1135.8" r="4.8" fill="#8c8c8c" fill-opacity="0.33" stroke="#777" stroke-opacity="0.3" stroke-width="0.8"/>
<circle cx="1076.3" cy="1131.3" r="4.8" fill="#8c8c8c" fill-opacity="0.33" stroke="#777" stroke-opacity="0.3" stroke-width="0.8"/>
<circle cx="1077.4" cy="1135.8" r="4.8" fill="#8c8c8c" fill-opacity="0.33" stroke="#777" stroke-opacity="0.3" stroke-width="0.8"/>
<circle cx="1095.5" cy="1133.6" r="4.8" fill="#8c8c8c" fill-opacity="0.33" stroke="#777" stroke-opacity="0.3" stroke-width="0.8"/>
<rect x="1008" y="1119.9" width="39.6" height="22" fill="none" stroke="#777" stroke-width="1.2"/>
<line x1="1032.9" y1="1119.9" x2="1032.9" y2="1141.9" stroke="#666" stroke-width="1.6"/>
<line x1="979.1" y1="1159.8" x2="1001.7" y2="1159.8" stroke="#777" stroke-width="1.3"/>
<line x1="1034.5" y1="1159.8" x2="1050.3" y2="1159.8" stroke="#777" stroke-width="1.3"/>
<circle cx="979.1" cy="1155" r="4.8" fill="#8c8c8c" fill-opacity="0.33" stroke="#777" stroke-opacity="0.3" stroke-width="0.8"/>
<circle cx="980.2" cy="1164.1" r="4.8" fill="#8c8c8c" fill-opacity="0.33" stroke="#777" stroke-opacity="0.3" stroke-width="0.8"/>
<circle cx="1002.8" cy="1156.2" r="4.8" fill="#8c8c8c" fill-opacity="0.33" stroke="#777" stroke-opacity="0.3" stroke-width="0.8"/>
<circle cx="1004" cy="1164.1" r="4.8" fill="#8c8c8c" fill-opacity="0.33" stroke="#777" stroke-opacity="0.3" stroke-width="0.8"/>
<circle cx="1013" cy="1157.3" r="4.8" fill="#8c8c8c" fill-opacity="0.33" stroke="#777" stroke-opacity="0.3" stroke-width="0.8"/>
<circle cx="1026.6" cy="1155" r="4.8" fill="#8c8c8c" fill-opacity="0.33" stroke="#777" stroke-opacity="0.3" stroke-width="0.8"/>
<circle cx="1033.3" cy="1159.6" r="4.8" fill="#8c8c8c" fill-opacity="0.33" stroke="#777" stroke-opacity="0.3" stroke-width="0.8"/>
<circle cx="1034.5" cy="1163" r="4.8" fill="#8c8c8c" fill-opacity="0.33" stroke="#777" stroke-opacity="0.3" stroke-width="0.8"/>
<circle cx="1042.4" cy="1163" r="4.8" fill="#8c8c8c" fill-opacity="0.33" stroke="#777" stroke-opacity="0.3" stroke-width="0.8"/>
<circle cx="1050.3" cy="1158.4" r="4.8" fill="#8c8c8c" fill-opacity="0.33" stroke="#777" stroke-opacity="0.3" stroke-width="0.8"/>
<circle cx="1088.7" cy="1161.8" r="4.8" fill="#8c8c8c" fill-opacity="0.33" stroke="#777" stroke-opacity="0.3" stroke-width="0.8"/>
<rect x="1001.7" y="1148.8" width="32.8" height="22" fill="none" stroke="#777" stroke-width="1.2"/>
<line x1="1019.8" y1="1148.8" x2="1019.8" y2="1170.8" stroke="#666" stroke-width="1.6"/>
<line x1="971.9" y1="1188.7" x2="996.5" y2="1188.7" stroke="#777" stroke-width="1.3"/>
<line x1="1039" y1="1188.7" x2="1094.4" y2="1188.7" stroke="#777" stroke-width="1.3"/>
<circle cx="971.9" cy="1193.5" r="4.8" fill="#8c8c8c" fill-opacity="0.33" stroke="#777" stroke-opacity="0.3" stroke-width="0.8"/>
<circle cx="988.6" cy="1190.1" r="4.8" fill="#8c8c8c" fill-opacity="0.33" stroke="#777" stroke-opacity="0.3" stroke-width="0.8"/>
<circle cx="990.4" cy="1185.6" r="4.8" fill="#8c8c8c" fill-opacity="0.33" stroke="#777" stroke-opacity="0.3" stroke-width="0.8"/>
<circle cx="1002.8" cy="1185.6" r="4.8" fill="#8c8c8c" fill-opacity="0.33" stroke="#777" stroke-opacity="0.3" stroke-width="0.8"/>
<circle cx="1004" cy="1191.2" r="4.8" fill="#8c8c8c" fill-opacity="0.33" stroke="#777" stroke-opacity="0.3" stroke-width="0.8"/>
<circle cx="1023.2" cy="1189" r="4.8" fill="#8c8c8c" fill-opacity="0.33" stroke="#777" stroke-opacity="0.3" stroke-width="0.8"/>
<circle cx="1033.3" cy="1185.6" r="4.8" fill="#8c8c8c" fill-opacity="0.33" stroke="#777" stroke-opacity="0.3" stroke-width="0.8"/>
<circle cx="1035.6" cy="1192.3" r="4.8" fill="#8c8c8c" fill-opacity="0.33" stroke="#777" stroke-opacity="0.3" stroke-width="0.8"/>
<circle cx="1040.1" cy="1184.4" r="4.8" fill="#8c8c8c" fill-opacity="0.33" stroke="#777" stroke-opacity="0.3" stroke-width="0.8"/>
<circle cx="1054.8" cy="1191.2" r="4.8" fill="#8c8c8c" fill-opacity="0.33" stroke="#777" stroke-opacity="0.3" stroke-width="0.8"/>
<circle cx="1065" cy="1189" r="4.8" fill="#8c8c8c" fill-opacity="0.33" stroke="#777" stroke-opacity="0.3" stroke-width="0.8"/>
<circle cx="1094.4" cy="1185.6" r="4.8" fill="#8c8c8c" fill-opacity="0.33" stroke="#777" stroke-opacity="0.3" stroke-width="0.8"/>
<rect x="996.5" y="1177.7" width="42.5" height="22" fill="none" stroke="#777" stroke-width="1.2"/>
<line x1="1027.7" y1="1177.7" x2="1027.7" y2="1199.7" stroke="#666" stroke-width="1.6"/>
<line x1="1010.7" y1="1217.5" x2="1023.6" y2="1217.5" stroke="#777" stroke-width="1.3"/>
<line x1="1063.2" y1="1217.5" x2="1077.4" y2="1217.5" stroke="#777" stroke-width="1.3"/>
<circle cx="1010.7" cy="1216.1" r="4.8" fill="#8c8c8c" fill-opacity="0.33" stroke="#777" stroke-opacity="0.3" stroke-width="0.8"/>
<circle cx="1015.3" cy="1220.6" r="4.8" fill="#8c8c8c" fill-opacity="0.33" stroke="#777" stroke-opacity="0.3" stroke-width="0.8"/>
<circle cx="1019.8" cy="1218.3" r="4.8" fill="#8c8c8c" fill-opacity="0.33" stroke="#777" stroke-opacity="0.3" stroke-width="0.8"/>
<circle cx="1024.3" cy="1216.1" r="4.8" fill="#8c8c8c" fill-opacity="0.33" stroke="#777" stroke-opacity="0.3" stroke-width="0.8"/>
<circle cx="1027.7" cy="1220.6" r="4.8" fill="#8c8c8c" fill-opacity="0.33" stroke="#777" stroke-opacity="0.3" stroke-width="0.8"/>
<circle cx="1044.6" cy="1214.9" r="4.8" fill="#8c8c8c" fill-opacity="0.33" stroke="#777" stroke-opacity="0.3" stroke-width="0.8"/>
<circle cx="1045.8" cy="1216.1" r="4.8" fill="#8c8c8c" fill-opacity="0.33" stroke="#777" stroke-opacity="0.3" stroke-width="0.8"/>
<circle cx="1058.2" cy="1218.3" r="4.8" fill="#8c8c8c" fill-opacity="0.33" stroke="#777" stroke-opacity="0.3" stroke-width="0.8"/>
<circle cx="1060.5" cy="1213.8" r="4.8" fill="#8c8c8c" fill-opacity="0.33" stroke="#777" stroke-opacity="0.3" stroke-width="0.8"/>
<circle cx="1065" cy="1211.6" r="4.8" fill="#8c8c8c" fill-opacity="0.33" stroke="#777" stroke-opacity="0.3" stroke-width="0.8"/>
<circle cx="1074" cy="1213.8" r="4.8" fill="#8c8c8c" fill-opacity="0.33" stroke="#777" stroke-opacity="0.3" stroke-width="0.8"/>
<circle cx="1075.1" cy="1220.6" r="4.8" fill="#8c8c8c" fill-opacity="0.33" stroke="#777" stroke-opacity="0.3" stroke-width="0.8"/>
<rect x="1023.6" y="1206.5" width="39.6" height="22" fill="none" stroke="#777" stroke-width="1.2"/>
<line x1="1037" y1="1206.5" x2="1037" y2="1228.5" stroke="#666" stroke-width="1.6"/>
<line x1="992.7" y1="1246.4" x2="1003.5" y2="1246.4" stroke="#777" stroke-width="1.3"/>
<line x1="1049.6" y1="1246.4" x2="1072.9" y2="1246.4" stroke="#777" stroke-width="1.3"/>
<circle cx="992.7" cy="1242.4" r="4.8" fill="#8c8c8c" fill-opacity="0.33" stroke="#777" stroke-opacity="0.3" stroke-width="0.8"/>
<circle cx="999.4" cy="1250.3" r="4.8" fill="#8c8c8c" fill-opacity="0.33" stroke="#777" stroke-opacity="0.3" stroke-width="0.8"/>
<circle cx="1006.2" cy="1241.3" r="4.8" fill="#8c8c8c" fill-opacity="0.33" stroke="#777" stroke-opacity="0.3" stroke-width="0.8"/>
<circle cx="1019.8" cy="1250.3" r="4.8" fill="#8c8c8c" fill-opacity="0.33" stroke="#777" stroke-opacity="0.3" stroke-width="0.8"/>
<circle cx="1028.8" cy="1245.8" r="4.8" fill="#8c8c8c" fill-opacity="0.33" stroke="#777" stroke-opacity="0.3" stroke-width="0.8"/>
<circle cx="1035.6" cy="1244.7" r="4.8" fill="#8c8c8c" fill-opacity="0.33" stroke="#777" stroke-opacity="0.3" stroke-width="0.8"/>
<circle cx="1037.9" cy="1247" r="4.8" fill="#8c8c8c" fill-opacity="0.33" stroke="#777" stroke-opacity="0.3" stroke-width="0.8"/>
<circle cx="1046.9" cy="1241.3" r="4.8" fill="#8c8c8c" fill-opacity="0.33" stroke="#777" stroke-opacity="0.3" stroke-width="0.8"/>
<circle cx="1058.2" cy="1243.6" r="4.8" fill="#8c8c8c" fill-opacity="0.33" stroke="#777" stroke-opacity="0.3" stroke-width="0.8"/>
<circle cx="1059.3" cy="1251.5" r="4.8" fill="#8c8c8c" fill-opacity="0.33" stroke="#777" stroke-opacity="0.3" stroke-width="0.8"/>
<circle cx="1072.9" cy="1247" r="4.8" fill="#8c8c8c" fill-opacity="0.33" stroke="#777" stroke-opacity="0.3" stroke-width="0.8"/>
<rect x="1003.5" y="1235.4" width="46.1" height="22" fill="none" stroke="#777" stroke-width="1.2"/>
<line x1="1029.9" y1="1235.4" x2="1029.9" y2="1257.4" stroke="#666" stroke-width="1.6"/>
<line x1="936.2" y1="1275.3" x2="969.2" y2="1275.3" stroke="#777" stroke-width="1.3"/>
<line x1="1021.6" y1="1275.3" x2="1084.2" y2="1275.3" stroke="#777" stroke-width="1.3"/>
<circle cx="936.2" cy="1274.7" r="4.8" fill="#8c8c8c" fill-opacity="0.33" stroke="#777" stroke-opacity="0.3" stroke-width="0.8"/>
<circle cx="950.2" cy="1271.4" r="4.8" fill="#8c8c8c" fill-opacity="0.33" stroke="#777" stroke-opacity="0.3" stroke-width="0.8"/>
<circle cx="966.7" cy="1269.5" r="4.8" fill="#8c8c8c" fill-opacity="0.33" stroke="#777" stroke-opacity="0.3" stroke-width="0.8"/>
<circle cx="972.3" cy="1274.1" r="4.8" fill="#8c8c8c" fill-opacity="0.33" stroke="#777" stroke-opacity="0.3" stroke-width="0.8"/>
<circle cx="976.8" cy="1277.5" r="4.8" fill="#8c8c8c" fill-opacity="0.33" stroke="#777" stroke-opacity="0.3" stroke-width="0.8"/>
<circle cx="999.4" cy="1280.8" r="4.8" fill="#8c8c8c" fill-opacity="0.33" stroke="#777" stroke-opacity="0.3" stroke-width="0.8"/>
<circle cx="1004" cy="1279.7" r="4.8" fill="#8c8c8c" fill-opacity="0.33" stroke="#777" stroke-opacity="0.3" stroke-width="0.8"/>
<circle cx="1015.3" cy="1274.7" r="4.8" fill="#8c8c8c" fill-opacity="0.33" stroke="#777" stroke-opacity="0.3" stroke-width="0.8"/>
<circle cx="1024.3" cy="1276.3" r="4.8" fill="#8c8c8c" fill-opacity="0.33" stroke="#777" stroke-opacity="0.3" stroke-width="0.8"/>
<circle cx="1035.6" cy="1270.7" r="4.8" fill="#8c8c8c" fill-opacity="0.33" stroke="#777" stroke-opacity="0.3" stroke-width="0.8"/>
<circle cx="1084.2" cy="1278.6" r="4.8" fill="#8c8c8c" fill-opacity="0.33" stroke="#777" stroke-opacity="0.3" stroke-width="0.8"/>
<rect x="969.2" y="1264.3" width="52.4" height="22" fill="none" stroke="#777" stroke-width="1.2"/>
<line x1="1001.7" y1="1264.3" x2="1001.7" y2="1286.3" stroke="#666" stroke-width="1.6"/>
<line x1="1024.3" y1="1304.2" x2="1043.5" y2="1304.2" stroke="#777" stroke-width="1.3"/>
<line x1="1074.7" y1="1304.2" x2="1113.6" y2="1304.2" stroke="#777" stroke-width="1.3"/>
<circle cx="959.9" cy="1302.3" r="4.8" fill="#8c8c8c" fill-opacity="0.33" stroke="#777" stroke-opacity="0.3" stroke-width="0.8"/>
<circle cx="1024.3" cy="1305.7" r="4.8" fill="#8c8c8c" fill-opacity="0.33" stroke="#777" stroke-opacity="0.3" stroke-width="0.8"/>
<circle cx="1040.1" cy="1298.9" r="4.8" fill="#8c8c8c" fill-opacity="0.33" stroke="#777" stroke-opacity="0.3" stroke-width="0.8"/>
<circle cx="1050.3" cy="1297.8" r="4.8" fill="#8c8c8c" fill-opacity="0.33" stroke="#777" stroke-opacity="0.3" stroke-width="0.8"/>
<circle cx="1055.9" cy="1298.9" r="4.8" fill="#8c8c8c" fill-opacity="0.33" stroke="#777" stroke-opacity="0.3" stroke-width="0.8"/>
<circle cx="1066.1" cy="1302.3" r="4.8" fill="#8c8c8c" fill-opacity="0.33" stroke="#777" stroke-opacity="0.3" stroke-width="0.8"/>
<circle cx="1071.8" cy="1308" r="4.8" fill="#8c8c8c" fill-opacity="0.33" stroke="#777" stroke-opacity="0.3" stroke-width="0.8"/>
<circle cx="1075.1" cy="1308" r="4.8" fill="#8c8c8c" fill-opacity="0.33" stroke="#777" stroke-opacity="0.3" stroke-width="0.8"/>
<circle cx="1100" cy="1300" r="4.8" fill="#8c8c8c" fill-opacity="0.33" stroke="#777" stroke-opacity="0.3" stroke-width="0.8"/>
<circle cx="1113.6" cy="1305.7" r="4.8" fill="#8c8c8c" fill-opacity="0.33" stroke="#777" stroke-opacity="0.3" stroke-width="0.8"/>
<circle cx="1157.6" cy="1306.8" r="4.8" fill="#8c8c8c" fill-opacity="0.33" stroke="#777" stroke-opacity="0.3" stroke-width="0.8"/>
<rect x="1043.5" y="1293.2" width="31.2" height="22" fill="none" stroke="#777" stroke-width="1.2"/>
<line x1="1062.3" y1="1293.2" x2="1062.3" y2="1315.2" stroke="#666" stroke-width="1.6"/>
<line x1="939.5" y1="1333.1" x2="991.5" y2="1333.1" stroke="#777" stroke-width="1.3"/>
<line x1="1048" y1="1333.1" x2="1065" y2="1333.1" stroke="#777" stroke-width="1.3"/>
<circle cx="939.5" cy="1335.1" r="4.8" fill="#8c8c8c" fill-opacity="0.33" stroke="#777" stroke-opacity="0.3" stroke-width="0.8"/>
<circle cx="953.1" cy="1329.4" r="4.8" fill="#8c8c8c" fill-opacity="0.33" stroke="#777" stroke-opacity="0.3" stroke-width="0.8"/>
<circle cx="976.8" cy="1332.8" r="4.8" fill="#8c8c8c" fill-opacity="0.33" stroke="#777" stroke-opacity="0.3" stroke-width="0.8"/>
<circle cx="983.6" cy="1337.3" r="4.8" fill="#8c8c8c" fill-opacity="0.33" stroke="#777" stroke-opacity="0.3" stroke-width="0.8"/>
<circle cx="1013" cy="1331.7" r="4.8" fill="#8c8c8c" fill-opacity="0.33" stroke="#777" stroke-opacity="0.3" stroke-width="0.8"/>
<circle cx="1040.1" cy="1336.2" r="4.8" fill="#8c8c8c" fill-opacity="0.33" stroke="#777" stroke-opacity="0.3" stroke-width="0.8"/>
<circle cx="1041.2" cy="1329.4" r="4.8" fill="#8c8c8c" fill-opacity="0.33" stroke="#777" stroke-opacity="0.3" stroke-width="0.8"/>
<circle cx="1053.7" cy="1329.4" r="4.8" fill="#8c8c8c" fill-opacity="0.33" stroke="#777" stroke-opacity="0.3" stroke-width="0.8"/>
<circle cx="1055.9" cy="1330.6" r="4.8" fill="#8c8c8c" fill-opacity="0.33" stroke="#777" stroke-opacity="0.3" stroke-width="0.8"/>
<circle cx="1066.1" cy="1327.2" r="4.8" fill="#8c8c8c" fill-opacity="0.33" stroke="#777" stroke-opacity="0.3" stroke-width="0.8"/>
<rect x="991.5" y="1322.1" width="56.5" height="22" fill="none" stroke="#777" stroke-width="1.2"/>
<line x1="1027" y1="1322.1" x2="1027" y2="1344.1" stroke="#666" stroke-width="1.6"/>
<line x1="972.3" y1="1361.9" x2="1016.4" y2="1361.9" stroke="#777" stroke-width="1.3"/>
<line x1="1060.9" y1="1361.9" x2="1087.6" y2="1361.9" stroke="#777" stroke-width="1.3"/>
<circle cx="972.3" cy="1360" r="4.8" fill="#8c8c8c" fill-opacity="0.33" stroke="#777" stroke-opacity="0.3" stroke-width="0.8"/>
<circle cx="978" cy="1359.3" r="4.8" fill="#8c8c8c" fill-opacity="0.33" stroke="#777" stroke-opacity="0.3" stroke-width="0.8"/>
<circle cx="981.4" cy="1366.7" r="4.8" fill="#8c8c8c" fill-opacity="0.33" stroke="#777" stroke-opacity="0.3" stroke-width="0.8"/>
<circle cx="1014.1" cy="1365.6" r="4.8" fill="#8c8c8c" fill-opacity="0.33" stroke="#777" stroke-opacity="0.3" stroke-width="0.8"/>
<circle cx="1019.8" cy="1363.4" r="4.8" fill="#8c8c8c" fill-opacity="0.33" stroke="#777" stroke-opacity="0.3" stroke-width="0.8"/>
<circle cx="1029.9" cy="1362.2" r="4.8" fill="#8c8c8c" fill-opacity="0.33" stroke="#777" stroke-opacity="0.3" stroke-width="0.8"/>
<circle cx="1049.2" cy="1363.4" r="4.8" fill="#8c8c8c" fill-opacity="0.33" stroke="#777" stroke-opacity="0.3" stroke-width="0.8"/>
<circle cx="1054.8" cy="1360" r="4.8" fill="#8c8c8c" fill-opacity="0.33" stroke="#777" stroke-opacity="0.3" stroke-width="0.8"/>
<circle cx="1058.2" cy="1361.1" r="4.8" fill="#8c8c8c" fill-opacity="0.33" stroke="#777" stroke-opacity="0.3" stroke-width="0.8"/>
<circle cx="1069.5" cy="1357.7" r="4.8" fill="#8c8c8c" fill-opacity="0.33" stroke="#777" stroke-opacity="0.3" stroke-width="0.8"/>
<circle cx="1084.2" cy="1356.6" r="4.8" fill="#8c8c8c" fill-opacity="0.33" stroke="#777" stroke-opacity="0.3" stroke-width="0.8"/>
<circle cx="1087.6" cy="1365.1" r="4.8" fill="#8c8c8c" fill-opacity="0.33" stroke="#777" stroke-opacity="0.3" stroke-width="0.8"/>
<rect x="1016.4" y="1350.9" width="44.5" height="22" fill="none" stroke="#777" stroke-width="1.2"/>
<line x1="1040.1" y1="1350.9" x2="1040.1" y2="1372.9" stroke="#666" stroke-width="1.6"/>
<line x1="946.3" y1="1390.8" x2="979.5" y2="1390.8" stroke="#777" stroke-width="1.3"/>
<line x1="1009.6" y1="1390.8" x2="1045.8" y2="1390.8" stroke="#777" stroke-width="1.3"/>
<circle cx="946.3" cy="1396.1" r="4.8" fill="#8c8c8c" fill-opacity="0.33" stroke="#777" stroke-opacity="0.3" stroke-width="0.8"/>
<circle cx="974.6" cy="1393.8" r="4.8" fill="#8c8c8c" fill-opacity="0.33" stroke="#777" stroke-opacity="0.3" stroke-width="0.8"/>
<circle cx="978" cy="1388.2" r="4.8" fill="#8c8c8c" fill-opacity="0.33" stroke="#777" stroke-opacity="0.3" stroke-width="0.8"/>
<circle cx="988.1" cy="1395" r="4.8" fill="#8c8c8c" fill-opacity="0.33" stroke="#777" stroke-opacity="0.3" stroke-width="0.8"/>
<circle cx="994.9" cy="1389.3" r="4.8" fill="#8c8c8c" fill-opacity="0.33" stroke="#777" stroke-opacity="0.3" stroke-width="0.8"/>
<circle cx="1001.7" cy="1397.3" r="4.8" fill="#8c8c8c" fill-opacity="0.33" stroke="#777" stroke-opacity="0.3" stroke-width="0.8"/>
<circle cx="1006.2" cy="1388.2" r="4.8" fill="#8c8c8c" fill-opacity="0.33" stroke="#777" stroke-opacity="0.3" stroke-width="0.8"/>
<circle cx="1010.7" cy="1392.7" r="4.8" fill="#8c8c8c" fill-opacity="0.33" stroke="#777" stroke-opacity="0.3" stroke-width="0.8"/>
<circle cx="1045.8" cy="1385.9" r="4.8" fill="#8c8c8c" fill-opacity="0.33" stroke="#777" stroke-opacity="0.3" stroke-width="0.8"/>
<circle cx="1057.1" cy="1392.7" r="4.8" fill="#8c8c8c" fill-opacity="0.33" stroke="#777" stroke-opacity="0.3" stroke-width="0.8"/>
<rect x="979.5" y="1379.8" width="30.1" height="22" fill="none" stroke="#777" stroke-width="1.2"/>
<line x1="993.1" y1="1379.8" x2="993.1" y2="1401.8" stroke="#666" stroke-width="1.6"/>
<text transform="translate(906.3,1429.9) scale(1,1.04)" font-size="18" fill="#4d4d4d" text-anchor="middle" stroke="#4d4d4d" stroke-width="0.3">&#8722;5.0</text>
<text transform="translate(971.5,1429.9) scale(1,1.04)" font-size="18" fill="#4d4d4d" text-anchor="middle" stroke="#4d4d4d" stroke-width="0.3">&#8722;2.5</text>
<text transform="translate(1035.1,1429.9) scale(1,1.04)" font-size="18" fill="#4d4d4d" text-anchor="middle" stroke="#4d4d4d" stroke-width="0.3">0.0</text>
<text transform="translate(1094.3,1429.9) scale(1,1.04)" font-size="18" fill="#4d4d4d" text-anchor="middle" stroke="#4d4d4d" stroke-width="0.3">2.5</text>
<text transform="translate(1155.4,1429.9) scale(1,1.04)" font-size="18" fill="#4d4d4d" text-anchor="middle" stroke="#4d4d4d" stroke-width="0.3">5.0</text>
<text transform="translate(1184.3,845.3) scale(1,1.04)" font-size="14.4" fill="#000" stroke="#000" stroke-width="0.3">p=0.09</text>
<text transform="translate(1185.7,875.2) scale(1,1.04)" font-size="14.4" fill="#000" stroke="#000" stroke-width="0.3">p=0.008</text>
<text transform="translate(1183.7,1019.2) scale(1,1.04)" font-size="14.4" fill="#000" stroke="#000" stroke-width="0.3">p=0.003</text>
<text transform="translate(1184.3,1047) scale(1,1.04)" font-size="14.4" fill="#000" stroke="#000" stroke-width="0.3">p=0.005</text>
<text transform="translate(1040,1473.6) scale(1,1.04)" font-size="24.5" fill="#000" text-anchor="middle" stroke="#000" stroke-width="0.3">Tumor Enrichment</text>
<text transform="translate(1039.3,1497.8) scale(1,1.04)" font-size="17.5" fill="#000" text-anchor="middle" textLength="177.5" lengthAdjust="spacingAndGlyphs" stroke="#000" stroke-width="0.35">(Log 2 Fold change</text>
<text transform="translate(1040.5,1522.3) scale(1,1.04)" font-size="17.5" fill="#000" text-anchor="middle" textLength="173.5" lengthAdjust="spacingAndGlyphs" stroke="#000" stroke-width="0.35">Tumor vs Adjacent)</text>
</svg></body></html>
